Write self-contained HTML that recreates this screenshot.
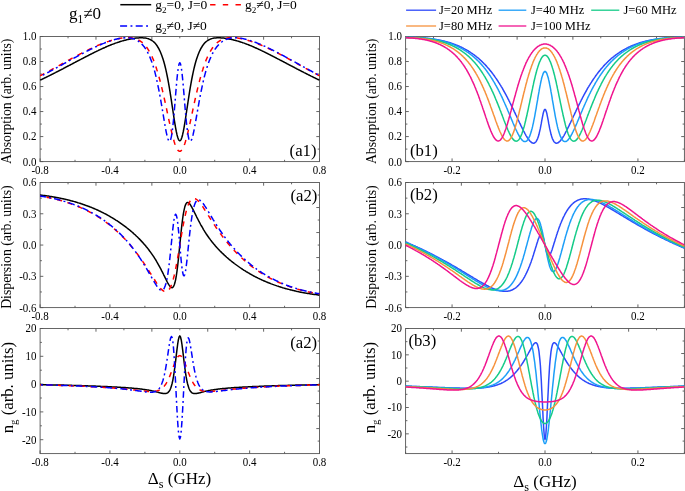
<!DOCTYPE html>
<html><head><meta charset="utf-8"><title>figure</title>
<style>html,body{margin:0;padding:0;background:#fff}svg{display:block}text{font-family:'Liberation Serif', 'DejaVu Serif', serif;fill:#000}.tk{font-size:11.9px}.lg{font-size:12.5px}.lga{font-size:13.5px}.al{font-size:14px}.big{font-size:17px}.pl{font-size:17.4px}.c{fill:none;stroke-width:1.5;stroke-linejoin:round}</style></head><body>
<svg width="685" height="491" viewBox="0 0 685 491">
<rect width="685" height="491" fill="#fff"/>
<defs>
<clipPath id="c00"><rect x="39.80" y="36.20" width="280.00" height="125.70"/></clipPath>
<clipPath id="c01"><rect x="39.80" y="182.20" width="280.00" height="125.70"/></clipPath>
<clipPath id="c02"><rect x="39.80" y="328.20" width="280.00" height="125.70"/></clipPath>
<clipPath id="c10"><rect x="405.30" y="36.20" width="279.40" height="125.70"/></clipPath>
<clipPath id="c11"><rect x="405.30" y="182.20" width="279.40" height="125.70"/></clipPath>
<clipPath id="c12"><rect x="405.30" y="328.20" width="279.40" height="125.70"/></clipPath>
</defs>
<path d="M40.10 161.60v-3.2M109.95 161.60v-3.2M179.80 161.60v-3.2M249.65 161.60v-3.2M319.50 161.60v-3.2M75.03 161.60v-1.8M144.88 161.60v-1.8M214.72 161.60v-1.8M284.57 161.60v-1.8M40.10 161.60h3.2M40.10 136.58h3.2M40.10 111.56h3.2M40.10 86.54h3.2M40.10 61.52h3.2M40.10 36.50h3.2M40.10 149.09h1.8M40.10 124.07h1.8M40.10 99.05h1.8M40.10 74.03h1.8M40.10 49.01h1.8M68.04 36.50v1.8M319.50 49.01h-1.8M95.98 36.50v3.2M319.50 61.52h-3.2M123.92 36.50v1.8M319.50 74.03h-1.8M151.86 36.50v3.2M319.50 86.54h-3.2M179.80 36.50v1.8M319.50 99.05h-1.8M207.74 36.50v3.2M319.50 111.56h-3.2M235.68 36.50v1.8M319.50 124.07h-1.8M263.62 36.50v3.2M319.50 136.58h-3.2M291.56 36.50v1.8M319.50 149.09h-1.8" stroke="#555" stroke-width="0.9" fill="none"/>
<rect x="40.10" y="36.50" width="279.40" height="125.10" fill="none" stroke="#555" stroke-width="0.9"/>
<text transform="translate(40.10 174.00) scale(0.920 1)" text-anchor="middle" class="tk">-0.8</text>
<text transform="translate(109.95 174.00) scale(0.920 1)" text-anchor="middle" class="tk">-0.4</text>
<text transform="translate(179.80 174.00) scale(0.920 1)" text-anchor="middle" class="tk">0.0</text>
<text transform="translate(249.65 174.00) scale(0.920 1)" text-anchor="middle" class="tk">0.4</text>
<text transform="translate(319.50 174.00) scale(0.920 1)" text-anchor="middle" class="tk">0.8</text>
<text transform="translate(36.50 165.50) scale(0.920 1)" text-anchor="end" class="tk">0.0</text>
<text transform="translate(36.50 140.48) scale(0.920 1)" text-anchor="end" class="tk">0.2</text>
<text transform="translate(36.50 115.46) scale(0.920 1)" text-anchor="end" class="tk">0.4</text>
<text transform="translate(36.50 90.44) scale(0.920 1)" text-anchor="end" class="tk">0.6</text>
<text transform="translate(36.50 65.42) scale(0.920 1)" text-anchor="end" class="tk">0.8</text>
<text transform="translate(36.50 40.40) scale(0.920 1)" text-anchor="end" class="tk">1.0</text>
<path d="M40.10 307.60v-3.2M109.95 307.60v-3.2M179.80 307.60v-3.2M249.65 307.60v-3.2M319.50 307.60v-3.2M75.03 307.60v-1.8M144.88 307.60v-1.8M214.72 307.60v-1.8M284.57 307.60v-1.8M40.10 307.60h3.2M40.10 276.33h3.2M40.10 245.05h3.2M40.10 213.78h3.2M40.10 182.50h3.2M40.10 291.96h1.8M40.10 260.69h1.8M40.10 229.41h1.8M40.10 198.14h1.8M68.04 182.50v1.8M319.50 195.01h-1.8M95.98 182.50v3.2M319.50 207.52h-3.2M123.92 182.50v1.8M319.50 220.03h-1.8M151.86 182.50v3.2M319.50 232.54h-3.2M179.80 182.50v1.8M319.50 245.05h-1.8M207.74 182.50v3.2M319.50 257.56h-3.2M235.68 182.50v1.8M319.50 270.07h-1.8M263.62 182.50v3.2M319.50 282.58h-3.2M291.56 182.50v1.8M319.50 295.09h-1.8" stroke="#555" stroke-width="0.9" fill="none"/>
<rect x="40.10" y="182.50" width="279.40" height="125.10" fill="none" stroke="#555" stroke-width="0.9"/>
<text transform="translate(40.10 320.00) scale(0.920 1)" text-anchor="middle" class="tk">-0.8</text>
<text transform="translate(109.95 320.00) scale(0.920 1)" text-anchor="middle" class="tk">-0.4</text>
<text transform="translate(179.80 320.00) scale(0.920 1)" text-anchor="middle" class="tk">0.0</text>
<text transform="translate(249.65 320.00) scale(0.920 1)" text-anchor="middle" class="tk">0.4</text>
<text transform="translate(319.50 320.00) scale(0.920 1)" text-anchor="middle" class="tk">0.8</text>
<text transform="translate(36.50 311.50) scale(0.920 1)" text-anchor="end" class="tk">-0.6</text>
<text transform="translate(36.50 280.23) scale(0.920 1)" text-anchor="end" class="tk">-0.3</text>
<text transform="translate(36.50 248.95) scale(0.920 1)" text-anchor="end" class="tk">0.0</text>
<text transform="translate(36.50 217.68) scale(0.920 1)" text-anchor="end" class="tk">0.3</text>
<text transform="translate(36.50 186.40) scale(0.920 1)" text-anchor="end" class="tk">0.6</text>
<path d="M40.10 453.60v-3.2M109.95 453.60v-3.2M179.80 453.60v-3.2M249.65 453.60v-3.2M319.50 453.60v-3.2M75.03 453.60v-1.8M144.88 453.60v-1.8M214.72 453.60v-1.8M284.57 453.60v-1.8M40.10 439.70h3.2M40.10 411.90h3.2M40.10 384.10h3.2M40.10 356.30h3.2M40.10 328.50h3.2M40.10 425.80h1.8M40.10 398.00h1.8M40.10 370.20h1.8M40.10 342.40h1.8M68.04 328.50v1.8M319.50 341.01h-1.8M95.98 328.50v3.2M319.50 353.52h-3.2M123.92 328.50v1.8M319.50 366.03h-1.8M151.86 328.50v3.2M319.50 378.54h-3.2M179.80 328.50v1.8M319.50 391.05h-1.8M207.74 328.50v3.2M319.50 403.56h-3.2M235.68 328.50v1.8M319.50 416.07h-1.8M263.62 328.50v3.2M319.50 428.58h-3.2M291.56 328.50v1.8M319.50 441.09h-1.8" stroke="#555" stroke-width="0.9" fill="none"/>
<rect x="40.10" y="328.50" width="279.40" height="125.10" fill="none" stroke="#555" stroke-width="0.9"/>
<text transform="translate(40.10 466.00) scale(0.920 1)" text-anchor="middle" class="tk">-0.8</text>
<text transform="translate(109.95 466.00) scale(0.920 1)" text-anchor="middle" class="tk">-0.4</text>
<text transform="translate(179.80 466.00) scale(0.920 1)" text-anchor="middle" class="tk">0.0</text>
<text transform="translate(249.65 466.00) scale(0.920 1)" text-anchor="middle" class="tk">0.4</text>
<text transform="translate(319.50 466.00) scale(0.920 1)" text-anchor="middle" class="tk">0.8</text>
<text transform="translate(36.50 443.60) scale(0.920 1)" text-anchor="end" class="tk">-20</text>
<text transform="translate(36.50 415.80) scale(0.920 1)" text-anchor="end" class="tk">-10</text>
<text transform="translate(36.50 388.00) scale(0.920 1)" text-anchor="end" class="tk">0</text>
<text transform="translate(36.50 360.20) scale(0.920 1)" text-anchor="end" class="tk">10</text>
<text transform="translate(36.50 332.40) scale(0.920 1)" text-anchor="end" class="tk">20</text>
<path d="M452.07 161.60v-3.2M545.00 161.60v-3.2M637.93 161.60v-3.2M405.60 161.60v-1.8M498.53 161.60v-1.8M591.47 161.60v-1.8M684.40 161.60v-1.8M405.60 161.60h3.2M405.60 136.58h3.2M405.60 111.56h3.2M405.60 86.54h3.2M405.60 61.52h3.2M405.60 36.50h3.2M405.60 149.09h1.8M405.60 124.07h1.8M405.60 99.05h1.8M405.60 74.03h1.8M405.60 49.01h1.8M433.48 36.50v1.8M684.40 49.01h-1.8M461.36 36.50v3.2M684.40 61.52h-3.2M489.24 36.50v1.8M684.40 74.03h-1.8M517.12 36.50v3.2M684.40 86.54h-3.2M545.00 36.50v1.8M684.40 99.05h-1.8M572.88 36.50v3.2M684.40 111.56h-3.2M600.76 36.50v1.8M684.40 124.07h-1.8M628.64 36.50v3.2M684.40 136.58h-3.2M656.52 36.50v1.8M684.40 149.09h-1.8" stroke="#555" stroke-width="0.9" fill="none"/>
<rect x="405.60" y="36.50" width="278.80" height="125.10" fill="none" stroke="#555" stroke-width="0.9"/>
<text transform="translate(452.07 174.00) scale(0.920 1)" text-anchor="middle" class="tk">-0.2</text>
<text transform="translate(545.00 174.00) scale(0.920 1)" text-anchor="middle" class="tk">0.0</text>
<text transform="translate(637.93 174.00) scale(0.920 1)" text-anchor="middle" class="tk">0.2</text>
<text transform="translate(402.00 165.50) scale(0.920 1)" text-anchor="end" class="tk">0.0</text>
<text transform="translate(402.00 140.48) scale(0.920 1)" text-anchor="end" class="tk">0.2</text>
<text transform="translate(402.00 115.46) scale(0.920 1)" text-anchor="end" class="tk">0.4</text>
<text transform="translate(402.00 90.44) scale(0.920 1)" text-anchor="end" class="tk">0.6</text>
<text transform="translate(402.00 65.42) scale(0.920 1)" text-anchor="end" class="tk">0.8</text>
<text transform="translate(402.00 40.40) scale(0.920 1)" text-anchor="end" class="tk">1.0</text>
<path d="M452.07 307.60v-3.2M545.00 307.60v-3.2M637.93 307.60v-3.2M405.60 307.60v-1.8M498.53 307.60v-1.8M591.47 307.60v-1.8M684.40 307.60v-1.8M405.60 307.60h3.2M405.60 276.33h3.2M405.60 245.05h3.2M405.60 213.78h3.2M405.60 182.50h3.2M405.60 291.96h1.8M405.60 260.69h1.8M405.60 229.41h1.8M405.60 198.14h1.8M433.48 182.50v1.8M684.40 195.01h-1.8M461.36 182.50v3.2M684.40 207.52h-3.2M489.24 182.50v1.8M684.40 220.03h-1.8M517.12 182.50v3.2M684.40 232.54h-3.2M545.00 182.50v1.8M684.40 245.05h-1.8M572.88 182.50v3.2M684.40 257.56h-3.2M600.76 182.50v1.8M684.40 270.07h-1.8M628.64 182.50v3.2M684.40 282.58h-3.2M656.52 182.50v1.8M684.40 295.09h-1.8" stroke="#555" stroke-width="0.9" fill="none"/>
<rect x="405.60" y="182.50" width="278.80" height="125.10" fill="none" stroke="#555" stroke-width="0.9"/>
<text transform="translate(452.07 320.00) scale(0.920 1)" text-anchor="middle" class="tk">-0.2</text>
<text transform="translate(545.00 320.00) scale(0.920 1)" text-anchor="middle" class="tk">0.0</text>
<text transform="translate(637.93 320.00) scale(0.920 1)" text-anchor="middle" class="tk">0.2</text>
<text transform="translate(402.00 311.50) scale(0.920 1)" text-anchor="end" class="tk">-0.6</text>
<text transform="translate(402.00 280.23) scale(0.920 1)" text-anchor="end" class="tk">-0.3</text>
<text transform="translate(402.00 248.95) scale(0.920 1)" text-anchor="end" class="tk">0.0</text>
<text transform="translate(402.00 217.68) scale(0.920 1)" text-anchor="end" class="tk">0.3</text>
<text transform="translate(402.00 186.40) scale(0.920 1)" text-anchor="end" class="tk">0.6</text>
<path d="M452.07 453.60v-3.2M545.00 453.60v-3.2M637.93 453.60v-3.2M405.60 453.60v-1.8M498.53 453.60v-1.8M591.47 453.60v-1.8M684.40 453.60v-1.8M405.60 433.85h3.2M405.60 407.51h3.2M405.60 381.17h3.2M405.60 354.84h3.2M405.60 328.50h3.2M405.60 447.02h1.8M405.60 420.68h1.8M405.60 394.34h1.8M405.60 368.01h1.8M405.60 341.67h1.8M433.48 328.50v1.8M684.40 341.01h-1.8M461.36 328.50v3.2M684.40 353.52h-3.2M489.24 328.50v1.8M684.40 366.03h-1.8M517.12 328.50v3.2M684.40 378.54h-3.2M545.00 328.50v1.8M684.40 391.05h-1.8M572.88 328.50v3.2M684.40 403.56h-3.2M600.76 328.50v1.8M684.40 416.07h-1.8M628.64 328.50v3.2M684.40 428.58h-3.2M656.52 328.50v1.8M684.40 441.09h-1.8" stroke="#555" stroke-width="0.9" fill="none"/>
<rect x="405.60" y="328.50" width="278.80" height="125.10" fill="none" stroke="#555" stroke-width="0.9"/>
<text transform="translate(452.07 466.00) scale(0.920 1)" text-anchor="middle" class="tk">-0.2</text>
<text transform="translate(545.00 466.00) scale(0.920 1)" text-anchor="middle" class="tk">0.0</text>
<text transform="translate(637.93 466.00) scale(0.920 1)" text-anchor="middle" class="tk">0.2</text>
<text transform="translate(402.00 437.75) scale(0.920 1)" text-anchor="end" class="tk">-20</text>
<text transform="translate(402.00 411.41) scale(0.920 1)" text-anchor="end" class="tk">-10</text>
<text transform="translate(402.00 385.07) scale(0.920 1)" text-anchor="end" class="tk">0</text>
<text transform="translate(402.00 358.74) scale(0.920 1)" text-anchor="end" class="tk">10</text>
<text transform="translate(402.00 332.40) scale(0.920 1)" text-anchor="end" class="tk">20</text>
<g clip-path="url(#c00)">
<polyline class="c" stroke="#000000" points="40.1,80.2 40.8,79.8 41.5,79.5 42.2,79.2 42.9,78.8 43.6,78.5 44.3,78.1 45.0,77.8 45.7,77.5 46.4,77.1 47.1,76.8 47.8,76.4 48.5,76.1 49.2,75.7 49.9,75.4 50.6,75.0 51.3,74.7 52.0,74.3 52.7,74.0 53.4,73.6 54.1,73.3 54.8,72.9 55.5,72.6 56.2,72.2 56.9,71.8 57.6,71.5 58.3,71.1 59.0,70.8 59.7,70.4 60.4,70.0 61.1,69.7 61.8,69.3 62.5,69.0 63.2,68.6 63.8,68.2 64.5,67.9 65.2,67.5 65.9,67.1 66.6,66.8 67.3,66.4 68.0,66.0 68.7,65.7 69.4,65.3 70.1,65.0 70.8,64.6 71.5,64.2 72.2,63.9 72.9,63.5 73.6,63.1 74.3,62.7 75.0,62.4 75.7,62.0 76.4,61.6 77.1,61.3 77.8,60.9 78.5,60.5 79.2,60.2 79.9,59.8 80.6,59.4 81.3,59.1 82.0,58.7 82.7,58.4 83.4,58.0 84.1,57.6 84.8,57.3 85.5,56.9 86.2,56.5 86.9,56.2 87.6,55.8 88.3,55.5 89.0,55.1 89.7,54.7 90.4,54.4 91.1,54.0 91.8,53.7 92.5,53.3 93.2,53.0 93.9,52.6 94.6,52.3 95.3,51.9 96.0,51.6 96.7,51.3 97.4,50.9 98.1,50.6 98.8,50.2 99.5,49.9 100.2,49.6 100.9,49.3 101.6,48.9 102.3,48.6 103.0,48.3 103.7,48.0 104.4,47.7 105.1,47.4 105.8,47.0 106.5,46.7 107.2,46.4 107.9,46.1 108.6,45.8 109.3,45.6 109.9,45.3 110.6,45.0 111.3,44.7 112.0,44.4 112.7,44.2 113.4,43.9 114.1,43.7 114.8,43.4 115.5,43.1 116.2,42.9 116.9,42.7 117.6,42.4 118.3,42.2 119.0,42.0 119.7,41.7 120.4,41.5 121.1,41.3 121.8,41.1 122.5,40.9 123.2,40.7 123.9,40.5 124.6,40.3 125.3,40.2 126.0,40.0 126.7,39.8 127.4,39.6 128.1,39.5 128.8,39.3 129.5,39.2 130.2,39.0 130.9,38.9 131.6,38.8 132.3,38.7 133.0,38.5 133.7,38.4 134.4,38.3 135.1,38.2 135.8,38.1 136.5,38.1 137.2,38.0 137.9,37.9 138.6,37.9 139.3,37.8 140.0,37.8 140.7,37.8 141.4,37.8 142.1,37.8 142.8,37.8 143.5,37.9 144.2,37.9 144.9,38.0 145.6,38.1 146.3,38.2 147.0,38.4 147.7,38.6 148.4,38.8 149.1,39.1 149.8,39.4 150.5,39.7 151.2,40.1 151.9,40.5 152.6,41.0 153.3,41.5 154.0,42.1 154.7,42.8 155.4,43.6 156.1,44.4 156.7,45.3 157.4,46.3 158.1,47.5 158.8,48.7 159.5,50.1 160.2,51.5 160.9,53.2 161.6,55.0 162.3,56.9 163.0,59.0 163.7,61.3 164.4,63.8 165.1,66.5 165.8,69.4 166.5,72.6 167.2,76.0 167.9,79.5 168.6,83.4 169.3,87.4 170.0,91.6 170.7,96.1 171.4,100.6 172.1,105.3 172.8,110.0 173.5,114.7 174.2,119.3 174.9,123.7 175.6,127.8 176.3,131.5 177.0,134.7 177.7,137.3 178.4,139.3 179.1,140.4 179.8,140.8 180.5,140.4 181.2,139.3 181.9,137.3 182.6,134.7 183.3,131.5 184.0,127.8 184.7,123.7 185.4,119.3 186.1,114.7 186.8,110.0 187.5,105.3 188.2,100.6 188.9,96.1 189.6,91.6 190.3,87.4 191.0,83.4 191.7,79.5 192.4,76.0 193.1,72.6 193.8,69.4 194.5,66.5 195.2,63.8 195.9,61.3 196.6,59.0 197.3,56.9 198.0,55.0 198.7,53.2 199.4,51.5 200.1,50.1 200.8,48.7 201.5,47.5 202.2,46.3 202.9,45.3 203.5,44.4 204.2,43.6 204.9,42.8 205.6,42.1 206.3,41.5 207.0,41.0 207.7,40.5 208.4,40.1 209.1,39.7 209.8,39.4 210.5,39.1 211.2,38.8 211.9,38.6 212.6,38.4 213.3,38.2 214.0,38.1 214.7,38.0 215.4,37.9 216.1,37.9 216.8,37.8 217.5,37.8 218.2,37.8 218.9,37.8 219.6,37.8 220.3,37.8 221.0,37.9 221.7,37.9 222.4,38.0 223.1,38.1 223.8,38.1 224.5,38.2 225.2,38.3 225.9,38.4 226.6,38.5 227.3,38.7 228.0,38.8 228.7,38.9 229.4,39.0 230.1,39.2 230.8,39.3 231.5,39.5 232.2,39.6 232.9,39.8 233.6,40.0 234.3,40.2 235.0,40.3 235.7,40.5 236.4,40.7 237.1,40.9 237.8,41.1 238.5,41.3 239.2,41.5 239.9,41.7 240.6,42.0 241.3,42.2 242.0,42.4 242.7,42.7 243.4,42.9 244.1,43.1 244.8,43.4 245.5,43.7 246.2,43.9 246.9,44.2 247.6,44.4 248.3,44.7 249.0,45.0 249.6,45.3 250.3,45.6 251.0,45.8 251.7,46.1 252.4,46.4 253.1,46.7 253.8,47.0 254.5,47.4 255.2,47.7 255.9,48.0 256.6,48.3 257.3,48.6 258.0,48.9 258.7,49.3 259.4,49.6 260.1,49.9 260.8,50.2 261.5,50.6 262.2,50.9 262.9,51.3 263.6,51.6 264.3,51.9 265.0,52.3 265.7,52.6 266.4,53.0 267.1,53.3 267.8,53.7 268.5,54.0 269.2,54.4 269.9,54.7 270.6,55.1 271.3,55.5 272.0,55.8 272.7,56.2 273.4,56.5 274.1,56.9 274.8,57.3 275.5,57.6 276.2,58.0 276.9,58.4 277.6,58.7 278.3,59.1 279.0,59.4 279.7,59.8 280.4,60.2 281.1,60.5 281.8,60.9 282.5,61.3 283.2,61.6 283.9,62.0 284.6,62.4 285.3,62.7 286.0,63.1 286.7,63.5 287.4,63.9 288.1,64.2 288.8,64.6 289.5,65.0 290.2,65.3 290.9,65.7 291.6,66.0 292.3,66.4 293.0,66.8 293.7,67.1 294.4,67.5 295.1,67.9 295.8,68.2 296.4,68.6 297.1,69.0 297.8,69.3 298.5,69.7 299.2,70.0 299.9,70.4 300.6,70.8 301.3,71.1 302.0,71.5 302.7,71.8 303.4,72.2 304.1,72.6 304.8,72.9 305.5,73.3 306.2,73.6 306.9,74.0 307.6,74.3 308.3,74.7 309.0,75.0 309.7,75.4 310.4,75.7 311.1,76.1 311.8,76.4 312.5,76.8 313.2,77.1 313.9,77.5 314.6,77.8 315.3,78.1 316.0,78.5 316.7,78.8 317.4,79.2 318.1,79.5 318.8,79.8 319.5,80.2"/>
<polyline class="c" stroke="#ff0000" stroke-dasharray="5.2 5.6" stroke-dashoffset="0.49" points="40.1,75.8 40.8,75.4 41.5,75.0 42.2,74.7 42.9,74.3 43.6,73.9 44.3,73.6 45.0,73.2 45.7,72.8 46.4,72.4 47.1,72.1 47.8,71.7 48.5,71.3 49.2,70.9 49.9,70.6 50.6,70.2 51.3,69.8 52.0,69.4 52.7,69.0 53.4,68.6 54.1,68.3 54.8,67.9 55.5,67.5 56.2,67.1 56.9,66.7 57.6,66.3 58.3,66.0 59.0,65.6 59.7,65.2 60.4,64.8 61.1,64.4 61.8,64.0 62.5,63.6 63.2,63.2 63.8,62.9 64.5,62.5 65.2,62.1 65.9,61.7 66.6,61.3 67.3,60.9 68.0,60.5 68.7,60.1 69.4,59.8 70.1,59.4 70.8,59.0 71.5,58.6 72.2,58.2 72.9,57.8 73.6,57.5 74.3,57.1 75.0,56.7 75.7,56.3 76.4,56.0 77.1,55.6 77.8,55.2 78.5,54.8 79.2,54.5 79.9,54.1 80.6,53.7 81.3,53.4 82.0,53.0 82.7,52.6 83.4,52.3 84.1,51.9 84.8,51.6 85.5,51.2 86.2,50.9 86.9,50.5 87.6,50.2 88.3,49.8 89.0,49.5 89.7,49.1 90.4,48.8 91.1,48.5 91.8,48.1 92.5,47.8 93.2,47.5 93.9,47.2 94.6,46.9 95.3,46.6 96.0,46.2 96.7,45.9 97.4,45.6 98.1,45.3 98.8,45.0 99.5,44.8 100.2,44.5 100.9,44.2 101.6,43.9 102.3,43.6 103.0,43.4 103.7,43.1 104.4,42.8 105.1,42.6 105.8,42.3 106.5,42.1 107.2,41.8 107.9,41.6 108.6,41.4 109.3,41.1 109.9,40.9 110.6,40.7 111.3,40.5 112.0,40.3 112.7,40.1 113.4,39.9 114.1,39.7 114.8,39.5 115.5,39.3 116.2,39.2 116.9,39.0 117.6,38.8 118.3,38.7 119.0,38.5 119.7,38.4 120.4,38.3 121.1,38.2 121.8,38.1 122.5,38.0 123.2,37.9 123.9,37.8 124.6,37.7 125.3,37.7 126.0,37.6 126.7,37.6 127.4,37.6 128.1,37.6 128.8,37.6 129.5,37.6 130.2,37.7 130.9,37.7 131.6,37.8 132.3,37.9 133.0,38.1 133.7,38.2 134.4,38.4 135.1,38.6 135.8,38.8 136.5,39.1 137.2,39.4 137.9,39.7 138.6,40.1 139.3,40.5 140.0,40.9 140.7,41.4 141.4,41.9 142.1,42.4 142.8,43.0 143.5,43.7 144.2,44.4 144.9,45.2 145.6,46.0 146.3,46.9 147.0,47.8 147.7,48.8 148.4,49.9 149.1,51.1 149.8,52.3 150.5,53.6 151.2,55.0 151.9,56.4 152.6,58.0 153.3,59.6 154.0,61.4 154.7,63.2 155.4,65.1 156.1,67.2 156.7,69.3 157.4,71.5 158.1,73.8 158.8,76.3 159.5,78.8 160.2,81.4 160.9,84.1 161.6,87.0 162.3,89.9 163.0,92.8 163.7,95.9 164.4,99.0 165.1,102.2 165.8,105.5 166.5,108.7 167.2,112.0 167.9,115.3 168.6,118.6 169.3,121.8 170.0,125.0 170.7,128.1 171.4,131.1 172.1,134.0 172.8,136.7 173.5,139.3 174.2,141.7 174.9,143.9 175.6,145.8 176.3,147.4 177.0,148.8 177.7,149.9 178.4,150.7 179.1,151.2 179.8,151.3 180.5,151.2 181.2,150.7 181.9,149.9 182.6,148.8 183.3,147.4 184.0,145.8 184.7,143.9 185.4,141.7 186.1,139.3 186.8,136.7 187.5,134.0 188.2,131.1 188.9,128.1 189.6,125.0 190.3,121.8 191.0,118.6 191.7,115.3 192.4,112.0 193.1,108.7 193.8,105.5 194.5,102.2 195.2,99.0 195.9,95.9 196.6,92.8 197.3,89.9 198.0,87.0 198.7,84.1 199.4,81.4 200.1,78.8 200.8,76.3 201.5,73.8 202.2,71.5 202.9,69.3 203.5,67.2 204.2,65.1 204.9,63.2 205.6,61.4 206.3,59.6 207.0,58.0 207.7,56.4 208.4,55.0 209.1,53.6 209.8,52.3 210.5,51.1 211.2,49.9 211.9,48.8 212.6,47.8 213.3,46.9 214.0,46.0 214.7,45.2 215.4,44.4 216.1,43.7 216.8,43.0 217.5,42.4 218.2,41.9 218.9,41.4 219.6,40.9 220.3,40.5 221.0,40.1 221.7,39.7 222.4,39.4 223.1,39.1 223.8,38.8 224.5,38.6 225.2,38.4 225.9,38.2 226.6,38.1 227.3,37.9 228.0,37.8 228.7,37.7 229.4,37.7 230.1,37.6 230.8,37.6 231.5,37.6 232.2,37.6 232.9,37.6 233.6,37.6 234.3,37.7 235.0,37.7 235.7,37.8 236.4,37.9 237.1,38.0 237.8,38.1 238.5,38.2 239.2,38.3 239.9,38.4 240.6,38.5 241.3,38.7 242.0,38.8 242.7,39.0 243.4,39.2 244.1,39.3 244.8,39.5 245.5,39.7 246.2,39.9 246.9,40.1 247.6,40.3 248.3,40.5 249.0,40.7 249.6,40.9 250.3,41.1 251.0,41.4 251.7,41.6 252.4,41.8 253.1,42.1 253.8,42.3 254.5,42.6 255.2,42.8 255.9,43.1 256.6,43.4 257.3,43.6 258.0,43.9 258.7,44.2 259.4,44.5 260.1,44.8 260.8,45.0 261.5,45.3 262.2,45.6 262.9,45.9 263.6,46.2 264.3,46.6 265.0,46.9 265.7,47.2 266.4,47.5 267.1,47.8 267.8,48.1 268.5,48.5 269.2,48.8 269.9,49.1 270.6,49.5 271.3,49.8 272.0,50.2 272.7,50.5 273.4,50.9 274.1,51.2 274.8,51.6 275.5,51.9 276.2,52.3 276.9,52.6 277.6,53.0 278.3,53.4 279.0,53.7 279.7,54.1 280.4,54.5 281.1,54.8 281.8,55.2 282.5,55.6 283.2,56.0 283.9,56.3 284.6,56.7 285.3,57.1 286.0,57.5 286.7,57.8 287.4,58.2 288.1,58.6 288.8,59.0 289.5,59.4 290.2,59.8 290.9,60.1 291.6,60.5 292.3,60.9 293.0,61.3 293.7,61.7 294.4,62.1 295.1,62.5 295.8,62.9 296.4,63.2 297.1,63.6 297.8,64.0 298.5,64.4 299.2,64.8 299.9,65.2 300.6,65.6 301.3,66.0 302.0,66.3 302.7,66.7 303.4,67.1 304.1,67.5 304.8,67.9 305.5,68.3 306.2,68.6 306.9,69.0 307.6,69.4 308.3,69.8 309.0,70.2 309.7,70.6 310.4,70.9 311.1,71.3 311.8,71.7 312.5,72.1 313.2,72.4 313.9,72.8 314.6,73.2 315.3,73.6 316.0,73.9 316.7,74.3 317.4,74.7 318.1,75.0 318.8,75.4 319.5,75.8"/>
<polyline class="c" stroke="#0000ff" stroke-dasharray="6.6 3.2 1.9 3.2" stroke-dashoffset="6.75" points="40.1,76.6 40.8,76.2 41.5,75.9 42.2,75.5 42.9,75.1 43.6,74.8 44.3,74.4 45.0,74.0 45.7,73.7 46.4,73.3 47.1,72.9 47.8,72.5 48.5,72.2 49.2,71.8 49.9,71.4 50.6,71.0 51.3,70.6 52.0,70.3 52.7,69.9 53.4,69.5 54.1,69.1 54.8,68.7 55.5,68.4 56.2,68.0 56.9,67.6 57.6,67.2 58.3,66.8 59.0,66.4 59.7,66.1 60.4,65.7 61.1,65.3 61.8,64.9 62.5,64.5 63.2,64.1 63.8,63.7 64.5,63.3 65.2,63.0 65.9,62.6 66.6,62.2 67.3,61.8 68.0,61.4 68.7,61.0 69.4,60.6 70.1,60.2 70.8,59.9 71.5,59.5 72.2,59.1 72.9,58.7 73.6,58.3 74.3,57.9 75.0,57.5 75.7,57.2 76.4,56.8 77.1,56.4 77.8,56.0 78.5,55.6 79.2,55.3 79.9,54.9 80.6,54.5 81.3,54.1 82.0,53.8 82.7,53.4 83.4,53.0 84.1,52.6 84.8,52.3 85.5,51.9 86.2,51.6 86.9,51.2 87.6,50.8 88.3,50.5 89.0,50.1 89.7,49.8 90.4,49.4 91.1,49.1 91.8,48.7 92.5,48.4 93.2,48.0 93.9,47.7 94.6,47.4 95.3,47.0 96.0,46.7 96.7,46.4 97.4,46.1 98.1,45.8 98.8,45.4 99.5,45.1 100.2,44.8 100.9,44.5 101.6,44.2 102.3,43.9 103.0,43.6 103.7,43.4 104.4,43.1 105.1,42.8 105.8,42.5 106.5,42.3 107.2,42.0 107.9,41.7 108.6,41.5 109.3,41.3 109.9,41.0 110.6,40.8 111.3,40.6 112.0,40.3 112.7,40.1 113.4,39.9 114.1,39.7 114.8,39.5 115.5,39.3 116.2,39.2 116.9,39.0 117.6,38.8 118.3,38.7 119.0,38.5 119.7,38.4 120.4,38.3 121.1,38.2 121.8,38.1 122.5,38.0 123.2,37.9 123.9,37.9 124.6,37.8 125.3,37.8 126.0,37.8 126.7,37.8 127.4,37.8 128.1,37.8 128.8,37.9 129.5,37.9 130.2,38.0 130.9,38.2 131.6,38.3 132.3,38.5 133.0,38.7 133.7,38.9 134.4,39.1 135.1,39.4 135.8,39.7 136.5,40.1 137.2,40.4 137.9,40.9 138.6,41.3 139.3,41.8 140.0,42.4 140.7,43.0 141.4,43.6 142.1,44.4 142.8,45.1 143.5,46.0 144.2,46.8 144.9,47.8 145.6,48.9 146.3,50.0 147.0,51.2 147.7,52.5 148.4,53.8 149.1,55.3 149.8,56.9 150.5,58.6 151.2,60.4 151.9,62.3 152.6,64.4 153.3,66.6 154.0,68.9 154.7,71.4 155.4,74.1 156.1,76.9 156.7,79.8 157.4,83.0 158.1,86.3 158.8,89.7 159.5,93.4 160.2,97.1 160.9,101.1 161.6,105.1 162.3,109.3 163.0,113.5 163.7,117.7 164.4,121.9 165.1,125.9 165.8,129.8 166.5,133.3 167.2,136.3 167.9,138.8 168.6,140.5 169.3,141.3 170.0,141.0 170.7,139.4 171.4,136.6 172.1,132.3 172.8,126.8 173.5,120.0 174.2,112.2 174.9,103.7 175.6,95.0 176.3,86.5 177.0,78.7 177.7,72.1 178.4,67.0 179.1,63.8 179.8,62.7 180.5,63.8 181.2,67.0 181.9,72.0 182.6,78.6 183.3,86.3 184.0,94.6 184.7,103.2 185.4,111.6 186.1,119.3 186.8,126.0 187.5,131.6 188.2,136.0 188.9,139.0 189.6,140.7 190.3,141.3 191.0,140.8 191.7,139.4 192.4,137.3 193.1,134.5 193.8,131.3 194.5,127.8 195.2,124.0 195.9,120.0 196.6,116.0 197.3,112.0 198.0,108.0 198.7,104.1 199.4,100.2 200.1,96.5 200.8,92.9 201.5,89.5 202.2,86.2 202.9,83.1 203.5,80.1 204.2,77.3 204.9,74.6 205.6,72.0 206.3,69.6 207.0,67.4 207.7,65.2 208.4,63.2 209.1,61.3 209.8,59.5 210.5,57.9 211.2,56.3 211.9,54.8 212.6,53.4 213.3,52.1 214.0,50.9 214.7,49.8 215.4,48.7 216.1,47.8 216.8,46.8 217.5,46.0 218.2,45.2 218.9,44.4 219.6,43.7 220.3,43.1 221.0,42.5 221.7,42.0 222.4,41.5 223.1,41.0 223.8,40.6 224.5,40.2 225.2,39.9 225.9,39.5 226.6,39.3 227.3,39.0 228.0,38.8 228.7,38.6 229.4,38.4 230.1,38.2 230.8,38.1 231.5,38.0 232.2,37.9 232.9,37.9 233.6,37.8 234.3,37.8 235.0,37.8 235.7,37.8 236.4,37.8 237.1,37.8 237.8,37.9 238.5,37.9 239.2,38.0 239.9,38.1 240.6,38.2 241.3,38.3 242.0,38.4 242.7,38.6 243.4,38.7 244.1,38.9 244.8,39.0 245.5,39.2 246.2,39.4 246.9,39.5 247.6,39.7 248.3,39.9 249.0,40.1 249.6,40.3 250.3,40.6 251.0,40.8 251.7,41.0 252.4,41.3 253.1,41.5 253.8,41.8 254.5,42.0 255.2,42.3 255.9,42.5 256.6,42.8 257.3,43.1 258.0,43.4 258.7,43.7 259.4,43.9 260.1,44.2 260.8,44.5 261.5,44.8 262.2,45.1 262.9,45.4 263.6,45.8 264.3,46.1 265.0,46.4 265.7,46.7 266.4,47.1 267.1,47.4 267.8,47.7 268.5,48.0 269.2,48.4 269.9,48.7 270.6,49.1 271.3,49.4 272.0,49.8 272.7,50.1 273.4,50.5 274.1,50.8 274.8,51.2 275.5,51.6 276.2,51.9 276.9,52.3 277.6,52.6 278.3,53.0 279.0,53.4 279.7,53.8 280.4,54.1 281.1,54.5 281.8,54.9 282.5,55.3 283.2,55.6 283.9,56.0 284.6,56.4 285.3,56.8 286.0,57.2 286.7,57.5 287.4,57.9 288.1,58.3 288.8,58.7 289.5,59.1 290.2,59.5 290.9,59.9 291.6,60.2 292.3,60.6 293.0,61.0 293.7,61.4 294.4,61.8 295.1,62.2 295.8,62.6 296.4,63.0 297.1,63.3 297.8,63.7 298.5,64.1 299.2,64.5 299.9,64.9 300.6,65.3 301.3,65.7 302.0,66.1 302.7,66.4 303.4,66.8 304.1,67.2 304.8,67.6 305.5,68.0 306.2,68.4 306.9,68.7 307.6,69.1 308.3,69.5 309.0,69.9 309.7,70.3 310.4,70.6 311.1,71.0 311.8,71.4 312.5,71.8 313.2,72.2 313.9,72.5 314.6,72.9 315.3,73.3 316.0,73.7 316.7,74.0 317.4,74.4 318.1,74.8 318.8,75.1 319.5,75.5"/>
</g>
<g clip-path="url(#c01)">
<polyline class="c" stroke="#000000" points="40.1,195.0 40.8,195.1 41.5,195.2 42.2,195.3 42.9,195.4 43.6,195.5 44.3,195.6 45.0,195.6 45.7,195.7 46.4,195.8 47.1,195.9 47.8,196.0 48.5,196.1 49.2,196.2 49.9,196.4 50.6,196.5 51.3,196.6 52.0,196.7 52.7,196.8 53.4,196.9 54.1,197.0 54.8,197.2 55.5,197.3 56.2,197.4 56.9,197.5 57.6,197.7 58.3,197.8 59.0,197.9 59.7,198.1 60.4,198.2 61.1,198.4 61.8,198.5 62.5,198.7 63.2,198.8 63.8,199.0 64.5,199.1 65.2,199.3 65.9,199.5 66.6,199.6 67.3,199.8 68.0,200.0 68.7,200.1 69.4,200.3 70.1,200.5 70.8,200.7 71.5,200.9 72.2,201.0 72.9,201.2 73.6,201.4 74.3,201.6 75.0,201.8 75.7,202.0 76.4,202.2 77.1,202.4 77.8,202.7 78.5,202.9 79.2,203.1 79.9,203.3 80.6,203.5 81.3,203.8 82.0,204.0 82.7,204.2 83.4,204.5 84.1,204.7 84.8,205.0 85.5,205.2 86.2,205.5 86.9,205.7 87.6,206.0 88.3,206.2 89.0,206.5 89.7,206.8 90.4,207.1 91.1,207.3 91.8,207.6 92.5,207.9 93.2,208.2 93.9,208.5 94.6,208.8 95.3,209.1 96.0,209.4 96.7,209.7 97.4,210.0 98.1,210.3 98.8,210.7 99.5,211.0 100.2,211.3 100.9,211.7 101.6,212.0 102.3,212.4 103.0,212.7 103.7,213.1 104.4,213.4 105.1,213.8 105.8,214.1 106.5,214.5 107.2,214.9 107.9,215.3 108.6,215.7 109.3,216.1 109.9,216.5 110.6,216.9 111.3,217.3 112.0,217.7 112.7,218.1 113.4,218.5 114.1,219.0 114.8,219.4 115.5,219.8 116.2,220.3 116.9,220.7 117.6,221.2 118.3,221.6 119.0,222.1 119.7,222.6 120.4,223.1 121.1,223.6 121.8,224.1 122.5,224.6 123.2,225.1 123.9,225.6 124.6,226.1 125.3,226.6 126.0,227.2 126.7,227.7 127.4,228.3 128.1,228.8 128.8,229.4 129.5,229.9 130.2,230.5 130.9,231.1 131.6,231.7 132.3,232.3 133.0,232.9 133.7,233.6 134.4,234.2 135.1,234.8 135.8,235.5 136.5,236.2 137.2,236.8 137.9,237.5 138.6,238.2 139.3,238.9 140.0,239.6 140.7,240.4 141.4,241.1 142.1,241.9 142.8,242.6 143.5,243.4 144.2,244.2 144.9,245.0 145.6,245.8 146.3,246.7 147.0,247.5 147.7,248.4 148.4,249.3 149.1,250.2 149.8,251.2 150.5,252.1 151.2,253.1 151.9,254.1 152.6,255.1 153.3,256.1 154.0,257.2 154.7,258.3 155.4,259.4 156.1,260.5 156.7,261.7 157.4,262.9 158.1,264.1 158.8,265.3 159.5,266.6 160.2,267.9 160.9,269.2 161.6,270.6 162.3,271.9 163.0,273.3 163.7,274.8 164.4,276.2 165.1,277.6 165.8,279.0 166.5,280.4 167.2,281.8 167.9,283.1 168.6,284.3 169.3,285.4 170.0,286.4 170.7,287.1 171.4,287.6 172.1,287.7 172.8,287.4 173.5,286.5 174.2,285.0 174.9,282.8 175.6,279.8 176.3,275.9 177.0,271.1 177.7,265.5 178.4,259.1 179.1,252.2 179.8,245.1 180.5,237.9 181.2,231.0 181.9,224.6 182.6,219.0 183.3,214.2 184.0,210.3 184.7,207.3 185.4,205.1 186.1,203.6 186.8,202.7 187.5,202.4 188.2,202.5 188.9,203.0 189.6,203.7 190.3,204.7 191.0,205.8 191.7,207.0 192.4,208.3 193.1,209.7 193.8,211.1 194.5,212.5 195.2,213.9 195.9,215.3 196.6,216.8 197.3,218.2 198.0,219.5 198.7,220.9 199.4,222.2 200.1,223.5 200.8,224.8 201.5,226.0 202.2,227.2 202.9,228.4 203.5,229.6 204.2,230.7 204.9,231.8 205.6,232.9 206.3,234.0 207.0,235.0 207.7,236.0 208.4,237.0 209.1,238.0 209.8,238.9 210.5,239.9 211.2,240.8 211.9,241.7 212.6,242.6 213.3,243.4 214.0,244.3 214.7,245.1 215.4,245.9 216.1,246.7 216.8,247.5 217.5,248.2 218.2,249.0 218.9,249.7 219.6,250.5 220.3,251.2 221.0,251.9 221.7,252.6 222.4,253.3 223.1,253.9 223.8,254.6 224.5,255.3 225.2,255.9 225.9,256.5 226.6,257.2 227.3,257.8 228.0,258.4 228.7,259.0 229.4,259.6 230.1,260.2 230.8,260.7 231.5,261.3 232.2,261.8 232.9,262.4 233.6,262.9 234.3,263.5 235.0,264.0 235.7,264.5 236.4,265.0 237.1,265.5 237.8,266.0 238.5,266.5 239.2,267.0 239.9,267.5 240.6,268.0 241.3,268.5 242.0,268.9 242.7,269.4 243.4,269.8 244.1,270.3 244.8,270.7 245.5,271.1 246.2,271.6 246.9,272.0 247.6,272.4 248.3,272.8 249.0,273.2 249.6,273.6 250.3,274.0 251.0,274.4 251.7,274.8 252.4,275.2 253.1,275.6 253.8,276.0 254.5,276.3 255.2,276.7 255.9,277.0 256.6,277.4 257.3,277.7 258.0,278.1 258.7,278.4 259.4,278.8 260.1,279.1 260.8,279.4 261.5,279.8 262.2,280.1 262.9,280.4 263.6,280.7 264.3,281.0 265.0,281.3 265.7,281.6 266.4,281.9 267.1,282.2 267.8,282.5 268.5,282.8 269.2,283.0 269.9,283.3 270.6,283.6 271.3,283.9 272.0,284.1 272.7,284.4 273.4,284.6 274.1,284.9 274.8,285.1 275.5,285.4 276.2,285.6 276.9,285.9 277.6,286.1 278.3,286.3 279.0,286.6 279.7,286.8 280.4,287.0 281.1,287.2 281.8,287.4 282.5,287.7 283.2,287.9 283.9,288.1 284.6,288.3 285.3,288.5 286.0,288.7 286.7,288.9 287.4,289.1 288.1,289.2 288.8,289.4 289.5,289.6 290.2,289.8 290.9,290.0 291.6,290.1 292.3,290.3 293.0,290.5 293.7,290.6 294.4,290.8 295.1,291.0 295.8,291.1 296.4,291.3 297.1,291.4 297.8,291.6 298.5,291.7 299.2,291.9 299.9,292.0 300.6,292.2 301.3,292.3 302.0,292.4 302.7,292.6 303.4,292.7 304.1,292.8 304.8,292.9 305.5,293.1 306.2,293.2 306.9,293.3 307.6,293.4 308.3,293.5 309.0,293.6 309.7,293.7 310.4,293.9 311.1,294.0 311.8,294.1 312.5,294.2 313.2,294.3 313.9,294.4 314.6,294.5 315.3,294.5 316.0,294.6 316.7,294.7 317.4,294.8 318.1,294.9 318.8,295.0 319.5,295.1"/>
<polyline class="c" stroke="#ff0000" stroke-dasharray="5.2 5.6" stroke-dashoffset="4.30" points="40.1,196.2 40.8,196.3 41.5,196.4 42.2,196.5 42.9,196.6 43.6,196.7 44.3,196.9 45.0,197.0 45.7,197.1 46.4,197.2 47.1,197.4 47.8,197.5 48.5,197.6 49.2,197.8 49.9,197.9 50.6,198.1 51.3,198.2 52.0,198.4 52.7,198.5 53.4,198.7 54.1,198.9 54.8,199.0 55.5,199.2 56.2,199.4 56.9,199.5 57.6,199.7 58.3,199.9 59.0,200.1 59.7,200.3 60.4,200.5 61.1,200.6 61.8,200.8 62.5,201.0 63.2,201.2 63.8,201.5 64.5,201.7 65.2,201.9 65.9,202.1 66.6,202.3 67.3,202.5 68.0,202.8 68.7,203.0 69.4,203.2 70.1,203.5 70.8,203.7 71.5,204.0 72.2,204.2 72.9,204.5 73.6,204.7 74.3,205.0 75.0,205.3 75.7,205.5 76.4,205.8 77.1,206.1 77.8,206.4 78.5,206.7 79.2,207.0 79.9,207.3 80.6,207.6 81.3,207.9 82.0,208.2 82.7,208.5 83.4,208.9 84.1,209.2 84.8,209.5 85.5,209.9 86.2,210.2 86.9,210.5 87.6,210.9 88.3,211.3 89.0,211.6 89.7,212.0 90.4,212.4 91.1,212.7 91.8,213.1 92.5,213.5 93.2,213.9 93.9,214.3 94.6,214.7 95.3,215.1 96.0,215.6 96.7,216.0 97.4,216.4 98.1,216.9 98.8,217.3 99.5,217.7 100.2,218.2 100.9,218.7 101.6,219.1 102.3,219.6 103.0,220.1 103.7,220.6 104.4,221.1 105.1,221.6 105.8,222.1 106.5,222.6 107.2,223.1 107.9,223.7 108.6,224.2 109.3,224.7 109.9,225.3 110.6,225.9 111.3,226.4 112.0,227.0 112.7,227.6 113.4,228.2 114.1,228.8 114.8,229.4 115.5,230.0 116.2,230.6 116.9,231.3 117.6,231.9 118.3,232.5 119.0,233.2 119.7,233.9 120.4,234.6 121.1,235.2 121.8,235.9 122.5,236.6 123.2,237.3 123.9,238.1 124.6,238.8 125.3,239.5 126.0,240.3 126.7,241.1 127.4,241.8 128.1,242.6 128.8,243.4 129.5,244.2 130.2,245.0 130.9,245.9 131.6,246.7 132.3,247.5 133.0,248.4 133.7,249.3 134.4,250.1 135.1,251.0 135.8,251.9 136.5,252.9 137.2,253.8 137.9,254.7 138.6,255.7 139.3,256.6 140.0,257.6 140.7,258.6 141.4,259.6 142.1,260.6 142.8,261.6 143.5,262.6 144.2,263.7 144.9,264.7 145.6,265.8 146.3,266.9 147.0,267.9 147.7,269.0 148.4,270.1 149.1,271.2 149.8,272.3 150.5,273.4 151.2,274.5 151.9,275.6 152.6,276.7 153.3,277.9 154.0,278.9 154.7,280.0 155.4,281.1 156.1,282.2 156.7,283.2 157.4,284.2 158.1,285.2 158.8,286.2 159.5,287.1 160.2,287.9 160.9,288.7 161.6,289.4 162.3,290.1 163.0,290.6 163.7,291.1 164.4,291.4 165.1,291.6 165.8,291.7 166.5,291.6 167.2,291.3 167.9,290.8 168.6,290.2 169.3,289.3 170.0,288.1 170.7,286.7 171.4,285.0 172.1,283.1 172.8,280.8 173.5,278.3 174.2,275.5 174.9,272.4 175.6,269.0 176.3,265.5 177.0,261.6 177.7,257.7 178.4,253.5 179.1,249.3 179.8,245.1 180.5,240.8 181.2,236.6 181.9,232.4 182.6,228.5 183.3,224.6 184.0,221.1 184.7,217.7 185.4,214.6 186.1,211.8 186.8,209.3 187.5,207.0 188.2,205.1 188.9,203.4 189.6,202.0 190.3,200.8 191.0,199.9 191.7,199.3 192.4,198.8 193.1,198.5 193.8,198.4 194.5,198.5 195.2,198.7 195.9,199.0 196.6,199.5 197.3,200.0 198.0,200.7 198.7,201.4 199.4,202.2 200.1,203.0 200.8,203.9 201.5,204.9 202.2,205.9 202.9,206.9 203.5,207.9 204.2,209.0 204.9,210.1 205.6,211.2 206.3,212.2 207.0,213.4 207.7,214.5 208.4,215.6 209.1,216.7 209.8,217.8 210.5,218.9 211.2,220.0 211.9,221.1 212.6,222.2 213.3,223.2 214.0,224.3 214.7,225.4 215.4,226.4 216.1,227.5 216.8,228.5 217.5,229.5 218.2,230.5 218.9,231.5 219.6,232.5 220.3,233.5 221.0,234.4 221.7,235.4 222.4,236.3 223.1,237.2 223.8,238.2 224.5,239.1 225.2,240.0 225.9,240.8 226.6,241.7 227.3,242.6 228.0,243.4 228.7,244.2 229.4,245.1 230.1,245.9 230.8,246.7 231.5,247.5 232.2,248.3 232.9,249.0 233.6,249.8 234.3,250.6 235.0,251.3 235.7,252.0 236.4,252.8 237.1,253.5 237.8,254.2 238.5,254.9 239.2,255.5 239.9,256.2 240.6,256.9 241.3,257.6 242.0,258.2 242.7,258.8 243.4,259.5 244.1,260.1 244.8,260.7 245.5,261.3 246.2,261.9 246.9,262.5 247.6,263.1 248.3,263.7 249.0,264.2 249.6,264.8 250.3,265.4 251.0,265.9 251.7,266.4 252.4,267.0 253.1,267.5 253.8,268.0 254.5,268.5 255.2,269.0 255.9,269.5 256.6,270.0 257.3,270.5 258.0,271.0 258.7,271.4 259.4,271.9 260.1,272.4 260.8,272.8 261.5,273.2 262.2,273.7 262.9,274.1 263.6,274.5 264.3,275.0 265.0,275.4 265.7,275.8 266.4,276.2 267.1,276.6 267.8,277.0 268.5,277.4 269.2,277.7 269.9,278.1 270.6,278.5 271.3,278.8 272.0,279.2 272.7,279.6 273.4,279.9 274.1,280.2 274.8,280.6 275.5,280.9 276.2,281.2 276.9,281.6 277.6,281.9 278.3,282.2 279.0,282.5 279.7,282.8 280.4,283.1 281.1,283.4 281.8,283.7 282.5,284.0 283.2,284.3 283.9,284.6 284.6,284.8 285.3,285.1 286.0,285.4 286.7,285.6 287.4,285.9 288.1,286.1 288.8,286.4 289.5,286.6 290.2,286.9 290.9,287.1 291.6,287.3 292.3,287.6 293.0,287.8 293.7,288.0 294.4,288.2 295.1,288.4 295.8,288.6 296.4,288.9 297.1,289.1 297.8,289.3 298.5,289.5 299.2,289.6 299.9,289.8 300.6,290.0 301.3,290.2 302.0,290.4 302.7,290.6 303.4,290.7 304.1,290.9 304.8,291.1 305.5,291.2 306.2,291.4 306.9,291.6 307.6,291.7 308.3,291.9 309.0,292.0 309.7,292.2 310.4,292.3 311.1,292.5 311.8,292.6 312.5,292.7 313.2,292.9 313.9,293.0 314.6,293.1 315.3,293.2 316.0,293.4 316.7,293.5 317.4,293.6 318.1,293.7 318.8,293.8 319.5,293.9"/>
<polyline class="c" stroke="#0000ff" stroke-dasharray="6.6 3.2 1.9 3.2" stroke-dashoffset="0.65" points="40.1,196.0 40.8,196.1 41.5,196.2 42.2,196.3 42.9,196.5 43.6,196.6 44.3,196.7 45.0,196.8 45.7,196.9 46.4,197.1 47.1,197.2 47.8,197.3 48.5,197.5 49.2,197.6 49.9,197.7 50.6,197.9 51.3,198.0 52.0,198.2 52.7,198.3 53.4,198.5 54.1,198.6 54.8,198.8 55.5,199.0 56.2,199.1 56.9,199.3 57.6,199.5 58.3,199.6 59.0,199.8 59.7,200.0 60.4,200.2 61.1,200.4 61.8,200.6 62.5,200.8 63.2,201.0 63.8,201.2 64.5,201.4 65.2,201.6 65.9,201.8 66.6,202.0 67.3,202.2 68.0,202.5 68.7,202.7 69.4,202.9 70.1,203.2 70.8,203.4 71.5,203.6 72.2,203.9 72.9,204.1 73.6,204.4 74.3,204.7 75.0,204.9 75.7,205.2 76.4,205.5 77.1,205.7 77.8,206.0 78.5,206.3 79.2,206.6 79.9,206.9 80.6,207.2 81.3,207.5 82.0,207.8 82.7,208.1 83.4,208.4 84.1,208.8 84.8,209.1 85.5,209.4 86.2,209.8 86.9,210.1 87.6,210.5 88.3,210.8 89.0,211.2 89.7,211.5 90.4,211.9 91.1,212.3 91.8,212.7 92.5,213.1 93.2,213.4 93.9,213.8 94.6,214.2 95.3,214.7 96.0,215.1 96.7,215.5 97.4,215.9 98.1,216.4 98.8,216.8 99.5,217.2 100.2,217.7 100.9,218.2 101.6,218.6 102.3,219.1 103.0,219.6 103.7,220.1 104.4,220.6 105.1,221.1 105.8,221.6 106.5,222.1 107.2,222.6 107.9,223.1 108.6,223.7 109.3,224.2 109.9,224.8 110.6,225.3 111.3,225.9 112.0,226.5 112.7,227.1 113.4,227.7 114.1,228.3 114.8,228.9 115.5,229.5 116.2,230.1 116.9,230.8 117.6,231.4 118.3,232.1 119.0,232.7 119.7,233.4 120.4,234.1 121.1,234.8 121.8,235.5 122.5,236.2 123.2,236.9 123.9,237.7 124.6,238.4 125.3,239.2 126.0,240.0 126.7,240.7 127.4,241.5 128.1,242.4 128.8,243.2 129.5,244.0 130.2,244.8 130.9,245.7 131.6,246.6 132.3,247.5 133.0,248.4 133.7,249.3 134.4,250.2 135.1,251.1 135.8,252.1 136.5,253.1 137.2,254.0 137.9,255.0 138.6,256.1 139.3,257.1 140.0,258.1 140.7,259.2 141.4,260.3 142.1,261.4 142.8,262.5 143.5,263.6 144.2,264.7 144.9,265.9 145.6,267.0 146.3,268.2 147.0,269.4 147.7,270.6 148.4,271.8 149.1,273.0 149.8,274.2 150.5,275.5 151.2,276.7 151.9,277.9 152.6,279.1 153.3,280.3 154.0,281.5 154.7,282.7 155.4,283.8 156.1,284.9 156.7,286.0 157.4,286.9 158.1,287.8 158.8,288.6 159.5,289.3 160.2,289.8 160.9,290.2 161.6,290.3 162.3,290.2 163.0,289.7 163.7,289.0 164.4,287.8 165.1,286.1 165.8,283.9 166.5,281.2 167.2,277.7 167.9,273.6 168.6,268.7 169.3,263.2 170.0,256.9 170.7,250.2 171.4,243.1 172.1,236.0 172.8,229.3 173.5,223.3 174.2,218.5 174.9,215.4 175.6,214.2 176.3,215.1 177.0,218.0 177.7,222.9 178.4,229.4 179.1,236.9 179.8,245.1 180.5,253.2 181.2,260.7 181.9,267.1 182.6,272.0 183.3,275.0 184.0,275.9 184.7,274.8 185.4,271.9 186.1,267.3 186.8,261.6 187.5,255.1 188.2,248.2 188.9,241.3 189.6,234.6 190.3,228.5 191.0,222.9 191.7,218.0 192.4,213.8 193.1,210.2 193.8,207.3 194.5,204.9 195.2,203.1 195.9,201.7 196.6,200.8 197.3,200.2 198.0,199.9 198.7,199.8 199.4,200.0 200.1,200.4 200.8,200.9 201.5,201.5 202.2,202.3 202.9,203.1 203.5,204.0 204.2,205.0 204.9,206.1 205.6,207.1 206.3,208.2 207.0,209.4 207.7,210.5 208.4,211.7 209.1,212.8 209.8,214.0 210.5,215.2 211.2,216.3 211.9,217.5 212.6,218.6 213.3,219.8 214.0,220.9 214.7,222.1 215.4,223.2 216.1,224.3 216.8,225.4 217.5,226.5 218.2,227.6 218.9,228.6 219.6,229.7 220.3,230.7 221.0,231.7 221.7,232.8 222.4,233.8 223.1,234.7 223.8,235.7 224.5,236.7 225.2,237.6 225.9,238.5 226.6,239.5 227.3,240.4 228.0,241.3 228.7,242.2 229.4,243.0 230.1,243.9 230.8,244.7 231.5,245.6 232.2,246.4 232.9,247.2 233.6,248.0 234.3,248.8 235.0,249.6 235.7,250.3 236.4,251.1 237.1,251.8 237.8,252.6 238.5,253.3 239.2,254.0 239.9,254.7 240.6,255.4 241.3,256.1 242.0,256.8 242.7,257.5 243.4,258.1 244.1,258.8 244.8,259.4 245.5,260.0 246.2,260.7 246.9,261.3 247.6,261.9 248.3,262.5 249.0,263.1 249.6,263.7 250.3,264.2 251.0,264.8 251.7,265.4 252.4,265.9 253.1,266.4 253.8,267.0 254.5,267.5 255.2,268.0 255.9,268.5 256.6,269.1 257.3,269.6 258.0,270.0 258.7,270.5 259.4,271.0 260.1,271.5 260.8,271.9 261.5,272.4 262.2,272.9 262.9,273.3 263.6,273.7 264.3,274.2 265.0,274.6 265.7,275.0 266.4,275.4 267.1,275.9 267.8,276.3 268.5,276.7 269.2,277.0 269.9,277.4 270.6,277.8 271.3,278.2 272.0,278.6 272.7,278.9 273.4,279.3 274.1,279.6 274.8,280.0 275.5,280.3 276.2,280.7 276.9,281.0 277.6,281.3 278.3,281.7 279.0,282.0 279.7,282.3 280.4,282.6 281.1,282.9 281.8,283.2 282.5,283.5 283.2,283.8 283.9,284.1 284.6,284.4 285.3,284.6 286.0,284.9 286.7,285.2 287.4,285.4 288.1,285.7 288.8,286.0 289.5,286.2 290.2,286.5 290.9,286.7 291.6,286.9 292.3,287.2 293.0,287.4 293.7,287.6 294.4,287.9 295.1,288.1 295.8,288.3 296.4,288.5 297.1,288.7 297.8,288.9 298.5,289.1 299.2,289.3 299.9,289.5 300.6,289.7 301.3,289.9 302.0,290.1 302.7,290.3 303.4,290.5 304.1,290.6 304.8,290.8 305.5,291.0 306.2,291.1 306.9,291.3 307.6,291.5 308.3,291.6 309.0,291.8 309.7,291.9 310.4,292.1 311.1,292.2 311.8,292.4 312.5,292.5 313.2,292.6 313.9,292.8 314.6,292.9 315.3,293.0 316.0,293.2 316.7,293.3 317.4,293.4 318.1,293.5 318.8,293.6 319.5,293.8"/>
</g>
<g clip-path="url(#c02)">
<polyline class="c" stroke="#000000" points="40.1,384.6 40.8,384.6 41.5,384.7 42.2,384.7 42.9,384.7 43.6,384.7 44.3,384.7 45.0,384.7 45.7,384.7 46.4,384.7 47.1,384.8 47.8,384.8 48.5,384.8 49.2,384.8 49.9,384.8 50.6,384.8 51.3,384.8 52.0,384.9 52.7,384.9 53.4,384.9 54.1,384.9 54.8,384.9 55.5,384.9 56.2,385.0 56.9,385.0 57.6,385.0 58.3,385.0 59.0,385.0 59.7,385.0 60.4,385.1 61.1,385.1 61.8,385.1 62.5,385.1 63.2,385.1 63.8,385.1 64.5,385.2 65.2,385.2 65.9,385.2 66.6,385.2 67.3,385.2 68.0,385.2 68.7,385.3 69.4,385.3 70.1,385.3 70.8,385.3 71.5,385.3 72.2,385.4 72.9,385.4 73.6,385.4 74.3,385.4 75.0,385.4 75.7,385.5 76.4,385.5 77.1,385.5 77.8,385.5 78.5,385.6 79.2,385.6 79.9,385.6 80.6,385.6 81.3,385.6 82.0,385.7 82.7,385.7 83.4,385.7 84.1,385.7 84.8,385.8 85.5,385.8 86.2,385.8 86.9,385.8 87.6,385.8 88.3,385.9 89.0,385.9 89.7,385.9 90.4,385.9 91.1,386.0 91.8,386.0 92.5,386.0 93.2,386.1 93.9,386.1 94.6,386.1 95.3,386.1 96.0,386.2 96.7,386.2 97.4,386.2 98.1,386.2 98.8,386.3 99.5,386.3 100.2,386.3 100.9,386.4 101.6,386.4 102.3,386.4 103.0,386.4 103.7,386.5 104.4,386.5 105.1,386.5 105.8,386.6 106.5,386.6 107.2,386.6 107.9,386.7 108.6,386.7 109.3,386.7 109.9,386.8 110.6,386.8 111.3,386.8 112.0,386.9 112.7,386.9 113.4,386.9 114.1,387.0 114.8,387.0 115.5,387.1 116.2,387.1 116.9,387.1 117.6,387.2 118.3,387.2 119.0,387.2 119.7,387.3 120.4,387.3 121.1,387.4 121.8,387.4 122.5,387.5 123.2,387.5 123.9,387.5 124.6,387.6 125.3,387.6 126.0,387.7 126.7,387.7 127.4,387.8 128.1,387.8 128.8,387.9 129.5,387.9 130.2,388.0 130.9,388.1 131.6,388.1 132.3,388.2 133.0,388.2 133.7,388.3 134.4,388.4 135.1,388.4 135.8,388.5 136.5,388.6 137.2,388.6 137.9,388.7 138.6,388.8 139.3,388.8 140.0,388.9 140.7,389.0 141.4,389.1 142.1,389.2 142.8,389.3 143.5,389.4 144.2,389.5 144.9,389.6 145.6,389.7 146.3,389.8 147.0,389.9 147.7,390.0 148.4,390.1 149.1,390.2 149.8,390.4 150.5,390.5 151.2,390.6 151.9,390.8 152.6,390.9 153.3,391.1 154.0,391.2 154.7,391.4 155.4,391.6 156.1,391.8 156.7,391.9 157.4,392.1 158.1,392.3 158.8,392.5 159.5,392.7 160.2,392.9 160.9,393.0 161.6,393.2 162.3,393.3 163.0,393.5 163.7,393.6 164.4,393.6 165.1,393.6 165.8,393.5 166.5,393.3 167.2,393.0 167.9,392.6 168.6,391.9 169.3,391.0 170.0,389.8 170.7,388.2 171.4,386.1 172.1,383.5 172.8,380.3 173.5,376.4 174.2,371.9 174.9,366.7 175.6,361.1 176.3,355.1 177.0,349.3 177.7,344.0 178.4,339.7 179.1,336.9 179.8,335.9 180.5,336.9 181.2,339.7 181.9,344.0 182.6,349.3 183.3,355.1 184.0,361.1 184.7,366.7 185.4,371.9 186.1,376.4 186.8,380.3 187.5,383.5 188.2,386.1 188.9,388.2 189.6,389.8 190.3,391.0 191.0,391.9 191.7,392.6 192.4,393.0 193.1,393.3 193.8,393.5 194.5,393.6 195.2,393.6 195.9,393.6 196.6,393.5 197.3,393.3 198.0,393.2 198.7,393.0 199.4,392.9 200.1,392.7 200.8,392.5 201.5,392.3 202.2,392.1 202.9,391.9 203.5,391.8 204.2,391.6 204.9,391.4 205.6,391.2 206.3,391.1 207.0,390.9 207.7,390.8 208.4,390.6 209.1,390.5 209.8,390.4 210.5,390.2 211.2,390.1 211.9,390.0 212.6,389.9 213.3,389.8 214.0,389.7 214.7,389.6 215.4,389.5 216.1,389.4 216.8,389.3 217.5,389.2 218.2,389.1 218.9,389.0 219.6,388.9 220.3,388.8 221.0,388.8 221.7,388.7 222.4,388.6 223.1,388.6 223.8,388.5 224.5,388.4 225.2,388.4 225.9,388.3 226.6,388.2 227.3,388.2 228.0,388.1 228.7,388.1 229.4,388.0 230.1,387.9 230.8,387.9 231.5,387.8 232.2,387.8 232.9,387.7 233.6,387.7 234.3,387.6 235.0,387.6 235.7,387.5 236.4,387.5 237.1,387.5 237.8,387.4 238.5,387.4 239.2,387.3 239.9,387.3 240.6,387.2 241.3,387.2 242.0,387.2 242.7,387.1 243.4,387.1 244.1,387.1 244.8,387.0 245.5,387.0 246.2,386.9 246.9,386.9 247.6,386.9 248.3,386.8 249.0,386.8 249.6,386.8 250.3,386.7 251.0,386.7 251.7,386.7 252.4,386.6 253.1,386.6 253.8,386.6 254.5,386.5 255.2,386.5 255.9,386.5 256.6,386.4 257.3,386.4 258.0,386.4 258.7,386.4 259.4,386.3 260.1,386.3 260.8,386.3 261.5,386.2 262.2,386.2 262.9,386.2 263.6,386.2 264.3,386.1 265.0,386.1 265.7,386.1 266.4,386.1 267.1,386.0 267.8,386.0 268.5,386.0 269.2,385.9 269.9,385.9 270.6,385.9 271.3,385.9 272.0,385.8 272.7,385.8 273.4,385.8 274.1,385.8 274.8,385.8 275.5,385.7 276.2,385.7 276.9,385.7 277.6,385.7 278.3,385.6 279.0,385.6 279.7,385.6 280.4,385.6 281.1,385.6 281.8,385.5 282.5,385.5 283.2,385.5 283.9,385.5 284.6,385.4 285.3,385.4 286.0,385.4 286.7,385.4 287.4,385.4 288.1,385.3 288.8,385.3 289.5,385.3 290.2,385.3 290.9,385.3 291.6,385.2 292.3,385.2 293.0,385.2 293.7,385.2 294.4,385.2 295.1,385.2 295.8,385.1 296.4,385.1 297.1,385.1 297.8,385.1 298.5,385.1 299.2,385.1 299.9,385.0 300.6,385.0 301.3,385.0 302.0,385.0 302.7,385.0 303.4,385.0 304.1,384.9 304.8,384.9 305.5,384.9 306.2,384.9 306.9,384.9 307.6,384.9 308.3,384.8 309.0,384.8 309.7,384.8 310.4,384.8 311.1,384.8 311.8,384.8 312.5,384.8 313.2,384.7 313.9,384.7 314.6,384.7 315.3,384.7 316.0,384.7 316.7,384.7 317.4,384.7 318.1,384.7 318.8,384.6 319.5,384.6"/>
<polyline class="c" stroke="#ff0000" stroke-dasharray="5.2 5.6" stroke-dashoffset="3.76" points="40.1,384.8 40.8,384.8 41.5,384.9 42.2,384.9 42.9,384.9 43.6,384.9 44.3,384.9 45.0,384.9 45.7,385.0 46.4,385.0 47.1,385.0 47.8,385.0 48.5,385.0 49.2,385.1 49.9,385.1 50.6,385.1 51.3,385.1 52.0,385.1 52.7,385.1 53.4,385.2 54.1,385.2 54.8,385.2 55.5,385.2 56.2,385.2 56.9,385.3 57.6,385.3 58.3,385.3 59.0,385.3 59.7,385.4 60.4,385.4 61.1,385.4 61.8,385.4 62.5,385.4 63.2,385.5 63.8,385.5 64.5,385.5 65.2,385.5 65.9,385.6 66.6,385.6 67.3,385.6 68.0,385.6 68.7,385.7 69.4,385.7 70.1,385.7 70.8,385.7 71.5,385.8 72.2,385.8 72.9,385.8 73.6,385.9 74.3,385.9 75.0,385.9 75.7,385.9 76.4,386.0 77.1,386.0 77.8,386.0 78.5,386.1 79.2,386.1 79.9,386.1 80.6,386.1 81.3,386.2 82.0,386.2 82.7,386.2 83.4,386.3 84.1,386.3 84.8,386.3 85.5,386.4 86.2,386.4 86.9,386.4 87.6,386.5 88.3,386.5 89.0,386.5 89.7,386.6 90.4,386.6 91.1,386.7 91.8,386.7 92.5,386.7 93.2,386.8 93.9,386.8 94.6,386.8 95.3,386.9 96.0,386.9 96.7,387.0 97.4,387.0 98.1,387.0 98.8,387.1 99.5,387.1 100.2,387.2 100.9,387.2 101.6,387.3 102.3,387.3 103.0,387.3 103.7,387.4 104.4,387.4 105.1,387.5 105.8,387.5 106.5,387.6 107.2,387.6 107.9,387.7 108.6,387.7 109.3,387.8 109.9,387.8 110.6,387.9 111.3,387.9 112.0,388.0 112.7,388.0 113.4,388.1 114.1,388.1 114.8,388.2 115.5,388.2 116.2,388.3 116.9,388.3 117.6,388.4 118.3,388.5 119.0,388.5 119.7,388.6 120.4,388.6 121.1,388.7 121.8,388.8 122.5,388.8 123.2,388.9 123.9,389.0 124.6,389.0 125.3,389.1 126.0,389.1 126.7,389.2 127.4,389.3 128.1,389.4 128.8,389.4 129.5,389.5 130.2,389.6 130.9,389.6 131.6,389.7 132.3,389.8 133.0,389.9 133.7,389.9 134.4,390.0 135.1,390.1 135.8,390.2 136.5,390.2 137.2,390.3 137.9,390.4 138.6,390.5 139.3,390.5 140.0,390.6 140.7,390.7 141.4,390.8 142.1,390.9 142.8,390.9 143.5,391.0 144.2,391.1 144.9,391.1 145.6,391.2 146.3,391.3 147.0,391.3 147.7,391.4 148.4,391.4 149.1,391.4 149.8,391.5 150.5,391.5 151.2,391.5 151.9,391.5 152.6,391.5 153.3,391.4 154.0,391.4 154.7,391.3 155.4,391.2 156.1,391.1 156.7,390.9 157.4,390.8 158.1,390.5 158.8,390.3 159.5,390.0 160.2,389.6 160.9,389.2 161.6,388.7 162.3,388.1 163.0,387.5 163.7,386.7 164.4,385.9 165.1,385.0 165.8,384.0 166.5,382.9 167.2,381.6 167.9,380.3 168.6,378.8 169.3,377.3 170.0,375.6 170.7,373.8 171.4,372.0 172.1,370.1 172.8,368.2 173.5,366.3 174.2,364.4 174.9,362.6 175.6,360.9 176.3,359.4 177.0,358.1 177.7,357.0 178.4,356.2 179.1,355.8 179.8,355.6 180.5,355.8 181.2,356.2 181.9,357.0 182.6,358.1 183.3,359.4 184.0,360.9 184.7,362.6 185.4,364.4 186.1,366.3 186.8,368.2 187.5,370.1 188.2,372.0 188.9,373.8 189.6,375.6 190.3,377.3 191.0,378.8 191.7,380.3 192.4,381.6 193.1,382.9 193.8,384.0 194.5,385.0 195.2,385.9 195.9,386.7 196.6,387.5 197.3,388.1 198.0,388.7 198.7,389.2 199.4,389.6 200.1,390.0 200.8,390.3 201.5,390.5 202.2,390.8 202.9,390.9 203.5,391.1 204.2,391.2 204.9,391.3 205.6,391.4 206.3,391.4 207.0,391.5 207.7,391.5 208.4,391.5 209.1,391.5 209.8,391.5 210.5,391.4 211.2,391.4 211.9,391.4 212.6,391.3 213.3,391.3 214.0,391.2 214.7,391.1 215.4,391.1 216.1,391.0 216.8,390.9 217.5,390.9 218.2,390.8 218.9,390.7 219.6,390.6 220.3,390.5 221.0,390.5 221.7,390.4 222.4,390.3 223.1,390.2 223.8,390.2 224.5,390.1 225.2,390.0 225.9,389.9 226.6,389.9 227.3,389.8 228.0,389.7 228.7,389.6 229.4,389.6 230.1,389.5 230.8,389.4 231.5,389.4 232.2,389.3 232.9,389.2 233.6,389.1 234.3,389.1 235.0,389.0 235.7,389.0 236.4,388.9 237.1,388.8 237.8,388.8 238.5,388.7 239.2,388.6 239.9,388.6 240.6,388.5 241.3,388.5 242.0,388.4 242.7,388.3 243.4,388.3 244.1,388.2 244.8,388.2 245.5,388.1 246.2,388.1 246.9,388.0 247.6,388.0 248.3,387.9 249.0,387.9 249.6,387.8 250.3,387.8 251.0,387.7 251.7,387.7 252.4,387.6 253.1,387.6 253.8,387.5 254.5,387.5 255.2,387.4 255.9,387.4 256.6,387.3 257.3,387.3 258.0,387.3 258.7,387.2 259.4,387.2 260.1,387.1 260.8,387.1 261.5,387.0 262.2,387.0 262.9,387.0 263.6,386.9 264.3,386.9 265.0,386.8 265.7,386.8 266.4,386.8 267.1,386.7 267.8,386.7 268.5,386.7 269.2,386.6 269.9,386.6 270.6,386.5 271.3,386.5 272.0,386.5 272.7,386.4 273.4,386.4 274.1,386.4 274.8,386.3 275.5,386.3 276.2,386.3 276.9,386.2 277.6,386.2 278.3,386.2 279.0,386.1 279.7,386.1 280.4,386.1 281.1,386.1 281.8,386.0 282.5,386.0 283.2,386.0 283.9,385.9 284.6,385.9 285.3,385.9 286.0,385.9 286.7,385.8 287.4,385.8 288.1,385.8 288.8,385.7 289.5,385.7 290.2,385.7 290.9,385.7 291.6,385.6 292.3,385.6 293.0,385.6 293.7,385.6 294.4,385.5 295.1,385.5 295.8,385.5 296.4,385.5 297.1,385.4 297.8,385.4 298.5,385.4 299.2,385.4 299.9,385.4 300.6,385.3 301.3,385.3 302.0,385.3 302.7,385.3 303.4,385.2 304.1,385.2 304.8,385.2 305.5,385.2 306.2,385.2 306.9,385.1 307.6,385.1 308.3,385.1 309.0,385.1 309.7,385.1 310.4,385.1 311.1,385.0 311.8,385.0 312.5,385.0 313.2,385.0 313.9,385.0 314.6,384.9 315.3,384.9 316.0,384.9 316.7,384.9 317.4,384.9 318.1,384.9 318.8,384.8 319.5,384.8"/>
<polyline class="c" stroke="#0000ff" stroke-dasharray="6.6 3.2 1.9 3.2" stroke-dashoffset="8.84" points="40.1,384.8 40.8,384.8 41.5,384.8 42.2,384.9 42.9,384.9 43.6,384.9 44.3,384.9 45.0,384.9 45.7,384.9 46.4,385.0 47.1,385.0 47.8,385.0 48.5,385.0 49.2,385.0 49.9,385.0 50.6,385.1 51.3,385.1 52.0,385.1 52.7,385.1 53.4,385.1 54.1,385.2 54.8,385.2 55.5,385.2 56.2,385.2 56.9,385.2 57.6,385.3 58.3,385.3 59.0,385.3 59.7,385.3 60.4,385.3 61.1,385.4 61.8,385.4 62.5,385.4 63.2,385.4 63.8,385.5 64.5,385.5 65.2,385.5 65.9,385.5 66.6,385.6 67.3,385.6 68.0,385.6 68.7,385.6 69.4,385.7 70.1,385.7 70.8,385.7 71.5,385.7 72.2,385.8 72.9,385.8 73.6,385.8 74.3,385.8 75.0,385.9 75.7,385.9 76.4,385.9 77.1,386.0 77.8,386.0 78.5,386.0 79.2,386.1 79.9,386.1 80.6,386.1 81.3,386.1 82.0,386.2 82.7,386.2 83.4,386.2 84.1,386.3 84.8,386.3 85.5,386.3 86.2,386.4 86.9,386.4 87.6,386.4 88.3,386.5 89.0,386.5 89.7,386.5 90.4,386.6 91.1,386.6 91.8,386.7 92.5,386.7 93.2,386.7 93.9,386.8 94.6,386.8 95.3,386.9 96.0,386.9 96.7,386.9 97.4,387.0 98.1,387.0 98.8,387.1 99.5,387.1 100.2,387.1 100.9,387.2 101.6,387.2 102.3,387.3 103.0,387.3 103.7,387.4 104.4,387.4 105.1,387.5 105.8,387.5 106.5,387.6 107.2,387.6 107.9,387.7 108.6,387.7 109.3,387.8 109.9,387.8 110.6,387.9 111.3,387.9 112.0,388.0 112.7,388.0 113.4,388.1 114.1,388.1 114.8,388.2 115.5,388.3 116.2,388.3 116.9,388.4 117.6,388.4 118.3,388.5 119.0,388.6 119.7,388.6 120.4,388.7 121.1,388.8 121.8,388.8 122.5,388.9 123.2,389.0 123.9,389.1 124.6,389.1 125.3,389.2 126.0,389.3 126.7,389.4 127.4,389.4 128.1,389.5 128.8,389.6 129.5,389.7 130.2,389.8 130.9,389.9 131.6,389.9 132.3,390.0 133.0,390.1 133.7,390.2 134.4,390.3 135.1,390.4 135.8,390.5 136.5,390.6 137.2,390.7 137.9,390.8 138.6,390.9 139.3,391.0 140.0,391.1 140.7,391.2 141.4,391.3 142.1,391.4 142.8,391.5 143.5,391.6 144.2,391.7 144.9,391.8 145.6,391.9 146.3,392.0 147.0,392.1 147.7,392.1 148.4,392.2 149.1,392.2 149.8,392.3 150.5,392.3 151.2,392.3 151.9,392.3 152.6,392.2 153.3,392.1 154.0,392.0 154.7,391.8 155.4,391.5 156.1,391.2 156.7,390.8 157.4,390.3 158.1,389.7 158.8,389.0 159.5,388.1 160.2,387.0 160.9,385.7 161.6,384.1 162.3,382.3 163.0,380.2 163.7,377.6 164.4,374.7 165.1,371.4 165.8,367.6 166.5,363.4 167.2,358.9 167.9,354.1 168.6,349.3 169.3,344.7 170.0,340.7 170.7,337.8 171.4,336.5 172.1,337.5 172.8,341.2 173.5,347.9 174.2,357.4 174.9,369.3 175.6,382.9 176.3,397.0 177.0,410.5 177.7,422.3 178.4,431.3 179.1,437.0 179.8,438.9 180.5,436.9 181.2,431.1 181.9,422.1 182.6,410.5 183.3,397.3 184.0,383.5 184.7,370.3 185.4,358.7 186.1,349.4 186.8,342.8 187.5,339.0 188.2,337.8 188.9,338.7 189.6,341.3 190.3,344.9 191.0,349.1 191.7,353.7 192.4,358.2 193.1,362.6 193.8,366.6 194.5,370.3 195.2,373.5 195.9,376.4 196.6,378.9 197.3,381.1 198.0,383.0 198.7,384.6 199.4,385.9 200.1,387.0 200.8,388.0 201.5,388.8 202.2,389.5 202.9,390.0 203.5,390.5 204.2,390.8 204.9,391.1 205.6,391.4 206.3,391.5 207.0,391.7 207.7,391.8 208.4,391.8 209.1,391.9 209.8,391.9 210.5,391.9 211.2,391.9 211.9,391.8 212.6,391.8 213.3,391.7 214.0,391.7 214.7,391.6 215.4,391.6 216.1,391.5 216.8,391.4 217.5,391.3 218.2,391.2 218.9,391.1 219.6,391.1 220.3,391.0 221.0,390.9 221.7,390.8 222.4,390.7 223.1,390.6 223.8,390.5 224.5,390.4 225.2,390.4 225.9,390.3 226.6,390.2 227.3,390.1 228.0,390.0 228.7,389.9 229.4,389.9 230.1,389.8 230.8,389.7 231.5,389.6 232.2,389.5 232.9,389.5 233.6,389.4 234.3,389.3 235.0,389.3 235.7,389.2 236.4,389.1 237.1,389.0 237.8,389.0 238.5,388.9 239.2,388.8 239.9,388.8 240.6,388.7 241.3,388.7 242.0,388.6 242.7,388.5 243.4,388.5 244.1,388.4 244.8,388.3 245.5,388.3 246.2,388.2 246.9,388.2 247.6,388.1 248.3,388.1 249.0,388.0 249.6,388.0 250.3,387.9 251.0,387.8 251.7,387.8 252.4,387.7 253.1,387.7 253.8,387.6 254.5,387.6 255.2,387.5 255.9,387.5 256.6,387.5 257.3,387.4 258.0,387.4 258.7,387.3 259.4,387.3 260.1,387.2 260.8,387.2 261.5,387.1 262.2,387.1 262.9,387.1 263.6,387.0 264.3,387.0 265.0,386.9 265.7,386.9 266.4,386.9 267.1,386.8 267.8,386.8 268.5,386.7 269.2,386.7 269.9,386.7 270.6,386.6 271.3,386.6 272.0,386.5 272.7,386.5 273.4,386.5 274.1,386.4 274.8,386.4 275.5,386.4 276.2,386.3 276.9,386.3 277.6,386.3 278.3,386.2 279.0,386.2 279.7,386.2 280.4,386.1 281.1,386.1 281.8,386.1 282.5,386.1 283.2,386.0 283.9,386.0 284.6,386.0 285.3,385.9 286.0,385.9 286.7,385.9 287.4,385.8 288.1,385.8 288.8,385.8 289.5,385.8 290.2,385.7 290.9,385.7 291.6,385.7 292.3,385.7 293.0,385.6 293.7,385.6 294.4,385.6 295.1,385.6 295.8,385.5 296.4,385.5 297.1,385.5 297.8,385.5 298.5,385.4 299.2,385.4 299.9,385.4 300.6,385.4 301.3,385.3 302.0,385.3 302.7,385.3 303.4,385.3 304.1,385.3 304.8,385.2 305.5,385.2 306.2,385.2 306.9,385.2 307.6,385.2 308.3,385.1 309.0,385.1 309.7,385.1 310.4,385.1 311.1,385.1 311.8,385.0 312.5,385.0 313.2,385.0 313.9,385.0 314.6,385.0 315.3,385.0 316.0,384.9 316.7,384.9 317.4,384.9 318.1,384.9 318.8,384.9 319.5,384.9"/>
</g>
<g clip-path="url(#c10)">
<polyline class="c" stroke-width="1.4" stroke="#2d49fa" points="405.6,37.5 406.1,37.5 406.5,37.5 407.0,37.5 407.5,37.5 407.9,37.5 408.4,37.5 408.9,37.5 409.3,37.5 409.8,37.5 410.2,37.5 410.7,37.5 411.2,37.5 411.6,37.5 412.1,37.5 412.6,37.5 413.0,37.5 413.5,37.5 414.0,37.5 414.4,37.5 414.9,37.5 415.4,37.6 415.8,37.6 416.3,37.6 416.8,37.6 417.2,37.6 417.7,37.6 418.1,37.7 418.6,37.7 419.1,37.7 419.5,37.7 420.0,37.8 420.5,37.8 420.9,37.8 421.4,37.8 421.9,37.9 422.3,37.9 422.8,37.9 423.3,38.0 423.7,38.0 424.2,38.0 424.7,38.1 425.1,38.1 425.6,38.1 426.0,38.2 426.5,38.2 427.0,38.3 427.4,38.3 427.9,38.4 428.4,38.4 428.8,38.5 429.3,38.5 429.8,38.6 430.2,38.6 430.7,38.7 431.2,38.7 431.6,38.8 432.1,38.9 432.6,38.9 433.0,39.0 433.5,39.1 433.9,39.1 434.4,39.2 434.9,39.3 435.3,39.4 435.8,39.4 436.3,39.5 436.7,39.6 437.2,39.7 437.7,39.8 438.1,39.8 438.6,39.9 439.1,40.0 439.5,40.1 440.0,40.2 440.5,40.3 440.9,40.4 441.4,40.5 441.8,40.6 442.3,40.7 442.8,40.8 443.2,40.9 443.7,41.0 444.2,41.1 444.6,41.3 445.1,41.4 445.6,41.5 446.0,41.6 446.5,41.7 447.0,41.9 447.4,42.0 447.9,42.1 448.3,42.3 448.8,42.4 449.3,42.5 449.7,42.7 450.2,42.8 450.7,43.0 451.1,43.1 451.6,43.3 452.1,43.4 452.5,43.6 453.0,43.8 453.5,43.9 453.9,44.1 454.4,44.3 454.9,44.4 455.3,44.6 455.8,44.8 456.2,45.0 456.7,45.2 457.2,45.3 457.6,45.5 458.1,45.7 458.6,45.9 459.0,46.1 459.5,46.3 460.0,46.6 460.4,46.8 460.9,47.0 461.4,47.2 461.8,47.4 462.3,47.7 462.8,47.9 463.2,48.1 463.7,48.4 464.1,48.6 464.6,48.9 465.1,49.1 465.5,49.4 466.0,49.6 466.5,49.9 466.9,50.2 467.4,50.4 467.9,50.7 468.3,51.0 468.8,51.3 469.3,51.6 469.7,51.9 470.2,52.2 470.7,52.5 471.1,52.8 471.6,53.1 472.0,53.4 472.5,53.7 473.0,54.1 473.4,54.4 473.9,54.7 474.4,55.1 474.8,55.4 475.3,55.8 475.8,56.1 476.2,56.5 476.7,56.9 477.2,57.3 477.6,57.6 478.1,58.0 478.6,58.4 479.0,58.8 479.5,59.2 479.9,59.7 480.4,60.1 480.9,60.5 481.3,60.9 481.8,61.4 482.3,61.8 482.7,62.3 483.2,62.7 483.7,63.2 484.1,63.7 484.6,64.2 485.1,64.6 485.5,65.1 486.0,65.6 486.5,66.1 486.9,66.7 487.4,67.2 487.8,67.7 488.3,68.2 488.8,68.8 489.2,69.3 489.7,69.9 490.2,70.5 490.6,71.1 491.1,71.6 491.6,72.2 492.0,72.8 492.5,73.4 493.0,74.1 493.4,74.7 493.9,75.3 494.4,76.0 494.8,76.6 495.3,77.3 495.7,77.9 496.2,78.6 496.7,79.3 497.1,80.0 497.6,80.7 498.1,81.4 498.5,82.1 499.0,82.9 499.5,83.6 499.9,84.4 500.4,85.1 500.9,85.9 501.3,86.6 501.8,87.4 502.3,88.2 502.7,89.0 503.2,89.8 503.6,90.7 504.1,91.5 504.6,92.3 505.0,93.2 505.5,94.0 506.0,94.9 506.4,95.7 506.9,96.6 507.4,97.5 507.8,98.4 508.3,99.3 508.8,100.2 509.2,101.1 509.7,102.0 510.1,103.0 510.6,103.9 511.1,104.9 511.5,105.8 512.0,106.8 512.5,107.7 512.9,108.7 513.4,109.7 513.9,110.6 514.3,111.6 514.8,112.6 515.3,113.6 515.7,114.6 516.2,115.5 516.7,116.5 517.1,117.5 517.6,118.5 518.0,119.5 518.5,120.5 519.0,121.5 519.4,122.5 519.9,123.4 520.4,124.4 520.8,125.4 521.3,126.3 521.8,127.3 522.2,128.2 522.7,129.2 523.2,130.1 523.6,131.0 524.1,131.9 524.6,132.8 525.0,133.6 525.5,134.5 525.9,135.3 526.4,136.1 526.9,136.8 527.3,137.6 527.8,138.3 528.3,139.0 528.7,139.6 529.2,140.2 529.7,140.8 530.1,141.3 530.6,141.7 531.1,142.1 531.5,142.5 532.0,142.8 532.5,143.0 532.9,143.1 533.4,143.2 533.8,143.2 534.3,143.0 534.8,142.8 535.2,142.4 535.7,142.0 536.2,141.4 536.6,140.6 537.1,139.7 537.6,138.6 538.0,137.4 538.5,135.9 539.0,134.3 539.4,132.4 539.9,130.4 540.4,128.2 540.8,125.9 541.3,123.4 541.7,120.9 542.2,118.3 542.7,115.9 543.1,113.8 543.6,111.9 544.1,110.5 544.5,109.6 545.0,109.3 545.5,109.6 545.9,110.5 546.4,111.9 546.9,113.8 547.3,115.9 547.8,118.3 548.3,120.9 548.7,123.4 549.2,125.9 549.6,128.2 550.1,130.4 550.6,132.4 551.0,134.3 551.5,135.9 552.0,137.4 552.4,138.6 552.9,139.7 553.4,140.6 553.8,141.4 554.3,142.0 554.8,142.4 555.2,142.8 555.7,143.0 556.2,143.2 556.6,143.2 557.1,143.1 557.5,143.0 558.0,142.8 558.5,142.5 558.9,142.1 559.4,141.7 559.9,141.3 560.3,140.8 560.8,140.2 561.3,139.6 561.7,139.0 562.2,138.3 562.7,137.6 563.1,136.8 563.6,136.1 564.1,135.3 564.5,134.5 565.0,133.6 565.4,132.8 565.9,131.9 566.4,131.0 566.8,130.1 567.3,129.2 567.8,128.2 568.2,127.3 568.7,126.3 569.2,125.4 569.6,124.4 570.1,123.4 570.6,122.5 571.0,121.5 571.5,120.5 572.0,119.5 572.4,118.5 572.9,117.5 573.3,116.5 573.8,115.5 574.3,114.6 574.7,113.6 575.2,112.6 575.7,111.6 576.1,110.6 576.6,109.7 577.1,108.7 577.5,107.7 578.0,106.8 578.5,105.8 578.9,104.9 579.4,103.9 579.9,103.0 580.3,102.0 580.8,101.1 581.2,100.2 581.7,99.3 582.2,98.4 582.6,97.5 583.1,96.6 583.6,95.7 584.0,94.9 584.5,94.0 585.0,93.2 585.4,92.3 585.9,91.5 586.4,90.7 586.8,89.8 587.3,89.0 587.7,88.2 588.2,87.4 588.7,86.6 589.1,85.9 589.6,85.1 590.1,84.4 590.5,83.6 591.0,82.9 591.5,82.1 591.9,81.4 592.4,80.7 592.9,80.0 593.3,79.3 593.8,78.6 594.3,77.9 594.7,77.3 595.2,76.6 595.6,76.0 596.1,75.3 596.6,74.7 597.0,74.1 597.5,73.4 598.0,72.8 598.4,72.2 598.9,71.6 599.4,71.1 599.8,70.5 600.3,69.9 600.8,69.3 601.2,68.8 601.7,68.2 602.2,67.7 602.6,67.2 603.1,66.7 603.5,66.1 604.0,65.6 604.5,65.1 604.9,64.6 605.4,64.2 605.9,63.7 606.3,63.2 606.8,62.7 607.3,62.3 607.7,61.8 608.2,61.4 608.7,60.9 609.1,60.5 609.6,60.1 610.1,59.7 610.5,59.2 611.0,58.8 611.4,58.4 611.9,58.0 612.4,57.6 612.8,57.3 613.3,56.9 613.8,56.5 614.2,56.1 614.7,55.8 615.2,55.4 615.6,55.1 616.1,54.7 616.6,54.4 617.0,54.1 617.5,53.7 618.0,53.4 618.4,53.1 618.9,52.8 619.3,52.5 619.8,52.2 620.3,51.9 620.7,51.6 621.2,51.3 621.7,51.0 622.1,50.7 622.6,50.4 623.1,50.2 623.5,49.9 624.0,49.6 624.5,49.4 624.9,49.1 625.4,48.9 625.9,48.6 626.3,48.4 626.8,48.1 627.2,47.9 627.7,47.7 628.2,47.4 628.6,47.2 629.1,47.0 629.6,46.8 630.0,46.6 630.5,46.3 631.0,46.1 631.4,45.9 631.9,45.7 632.4,45.5 632.8,45.3 633.3,45.2 633.8,45.0 634.2,44.8 634.7,44.6 635.1,44.4 635.6,44.3 636.1,44.1 636.5,43.9 637.0,43.8 637.5,43.6 637.9,43.4 638.4,43.3 638.9,43.1 639.3,43.0 639.8,42.8 640.3,42.7 640.7,42.5 641.2,42.4 641.7,42.3 642.1,42.1 642.6,42.0 643.0,41.9 643.5,41.7 644.0,41.6 644.4,41.5 644.9,41.4 645.4,41.3 645.8,41.1 646.3,41.0 646.8,40.9 647.2,40.8 647.7,40.7 648.2,40.6 648.6,40.5 649.1,40.4 649.5,40.3 650.0,40.2 650.5,40.1 650.9,40.0 651.4,39.9 651.9,39.8 652.3,39.8 652.8,39.7 653.3,39.6 653.7,39.5 654.2,39.4 654.7,39.4 655.1,39.3 655.6,39.2 656.1,39.1 656.5,39.1 657.0,39.0 657.4,38.9 657.9,38.9 658.4,38.8 658.8,38.7 659.3,38.7 659.8,38.6 660.2,38.6 660.7,38.5 661.2,38.5 661.6,38.4 662.1,38.4 662.6,38.3 663.0,38.3 663.5,38.2 664.0,38.2 664.4,38.1 664.9,38.1 665.3,38.1 665.8,38.0 666.3,38.0 666.7,38.0 667.2,37.9 667.7,37.9 668.1,37.9 668.6,37.8 669.1,37.8 669.5,37.8 670.0,37.8 670.5,37.7 670.9,37.7 671.4,37.7 671.9,37.7 672.3,37.6 672.8,37.6 673.2,37.6 673.7,37.6 674.2,37.6 674.6,37.6 675.1,37.5 675.6,37.5 676.0,37.5 676.5,37.5 677.0,37.5 677.4,37.5 677.9,37.5 678.4,37.5 678.8,37.5 679.3,37.5 679.8,37.5 680.2,37.5 680.7,37.5 681.1,37.5 681.6,37.5 682.1,37.5 682.5,37.5 683.0,37.5 683.5,37.5 683.9,37.5 684.4,37.5"/>
<polyline class="c" stroke-width="1.4" stroke="#1c9ef8" points="405.6,37.5 406.1,37.5 406.5,37.5 407.0,37.5 407.5,37.5 407.9,37.5 408.4,37.5 408.9,37.5 409.3,37.5 409.8,37.5 410.2,37.5 410.7,37.5 411.2,37.5 411.6,37.5 412.1,37.5 412.6,37.5 413.0,37.6 413.5,37.6 414.0,37.6 414.4,37.6 414.9,37.6 415.4,37.6 415.8,37.6 416.3,37.7 416.8,37.7 417.2,37.7 417.7,37.7 418.1,37.7 418.6,37.8 419.1,37.8 419.5,37.8 420.0,37.9 420.5,37.9 420.9,37.9 421.4,37.9 421.9,38.0 422.3,38.0 422.8,38.1 423.3,38.1 423.7,38.1 424.2,38.2 424.7,38.2 425.1,38.3 425.6,38.3 426.0,38.3 426.5,38.4 427.0,38.4 427.4,38.5 427.9,38.6 428.4,38.6 428.8,38.7 429.3,38.7 429.8,38.8 430.2,38.8 430.7,38.9 431.2,39.0 431.6,39.0 432.1,39.1 432.6,39.2 433.0,39.3 433.5,39.3 433.9,39.4 434.4,39.5 434.9,39.6 435.3,39.6 435.8,39.7 436.3,39.8 436.7,39.9 437.2,40.0 437.7,40.1 438.1,40.2 438.6,40.3 439.1,40.4 439.5,40.5 440.0,40.6 440.5,40.7 440.9,40.8 441.4,40.9 441.8,41.0 442.3,41.1 442.8,41.3 443.2,41.4 443.7,41.5 444.2,41.6 444.6,41.8 445.1,41.9 445.6,42.0 446.0,42.2 446.5,42.3 447.0,42.4 447.4,42.6 447.9,42.7 448.3,42.9 448.8,43.0 449.3,43.2 449.7,43.3 450.2,43.5 450.7,43.7 451.1,43.8 451.6,44.0 452.1,44.2 452.5,44.4 453.0,44.5 453.5,44.7 453.9,44.9 454.4,45.1 454.9,45.3 455.3,45.5 455.8,45.7 456.2,45.9 456.7,46.1 457.2,46.3 457.6,46.5 458.1,46.8 458.6,47.0 459.0,47.2 459.5,47.5 460.0,47.7 460.4,47.9 460.9,48.2 461.4,48.4 461.8,48.7 462.3,48.9 462.8,49.2 463.2,49.5 463.7,49.7 464.1,50.0 464.6,50.3 465.1,50.6 465.5,50.9 466.0,51.2 466.5,51.5 466.9,51.8 467.4,52.1 467.9,52.4 468.3,52.7 468.8,53.1 469.3,53.4 469.7,53.8 470.2,54.1 470.7,54.5 471.1,54.8 471.6,55.2 472.0,55.5 472.5,55.9 473.0,56.3 473.4,56.7 473.9,57.1 474.4,57.5 474.8,57.9 475.3,58.3 475.8,58.7 476.2,59.2 476.7,59.6 477.2,60.1 477.6,60.5 478.1,61.0 478.6,61.4 479.0,61.9 479.5,62.4 479.9,62.9 480.4,63.4 480.9,63.9 481.3,64.4 481.8,64.9 482.3,65.5 482.7,66.0 483.2,66.5 483.7,67.1 484.1,67.7 484.6,68.2 485.1,68.8 485.5,69.4 486.0,70.0 486.5,70.6 486.9,71.3 487.4,71.9 487.8,72.5 488.3,73.2 488.8,73.9 489.2,74.5 489.7,75.2 490.2,75.9 490.6,76.6 491.1,77.3 491.6,78.1 492.0,78.8 492.5,79.5 493.0,80.3 493.4,81.1 493.9,81.9 494.4,82.6 494.8,83.5 495.3,84.3 495.7,85.1 496.2,85.9 496.7,86.8 497.1,87.7 497.6,88.5 498.1,89.4 498.5,90.3 499.0,91.2 499.5,92.1 499.9,93.1 500.4,94.0 500.9,95.0 501.3,95.9 501.8,96.9 502.3,97.9 502.7,98.9 503.2,99.9 503.6,100.9 504.1,102.0 504.6,103.0 505.0,104.0 505.5,105.1 506.0,106.2 506.4,107.2 506.9,108.3 507.4,109.4 507.8,110.5 508.3,111.6 508.8,112.7 509.2,113.8 509.7,114.9 510.1,116.0 510.6,117.1 511.1,118.2 511.5,119.4 512.0,120.5 512.5,121.6 512.9,122.7 513.4,123.8 513.9,124.8 514.3,125.9 514.8,127.0 515.3,128.0 515.7,129.0 516.2,130.1 516.7,131.0 517.1,132.0 517.6,132.9 518.0,133.9 518.5,134.7 519.0,135.6 519.4,136.4 519.9,137.1 520.4,137.9 520.8,138.5 521.3,139.1 521.8,139.7 522.2,140.2 522.7,140.6 523.2,141.0 523.6,141.3 524.1,141.5 524.6,141.6 525.0,141.6 525.5,141.6 525.9,141.4 526.4,141.2 526.9,140.8 527.3,140.3 527.8,139.7 528.3,139.0 528.7,138.2 529.2,137.2 529.7,136.2 530.1,135.0 530.6,133.6 531.1,132.1 531.5,130.5 532.0,128.8 532.5,126.9 532.9,124.9 533.4,122.8 533.8,120.6 534.3,118.3 534.8,115.8 535.2,113.3 535.7,110.7 536.2,108.1 536.6,105.4 537.1,102.6 537.6,99.9 538.0,97.1 538.5,94.4 539.0,91.7 539.4,89.1 539.9,86.6 540.4,84.2 540.8,82.0 541.3,79.9 541.7,78.0 542.2,76.4 542.7,74.9 543.1,73.7 543.6,72.7 544.1,72.0 544.5,71.6 545.0,71.5 545.5,71.6 545.9,72.0 546.4,72.7 546.9,73.7 547.3,74.9 547.8,76.4 548.3,78.0 548.7,79.9 549.2,82.0 549.6,84.2 550.1,86.6 550.6,89.1 551.0,91.7 551.5,94.4 552.0,97.1 552.4,99.9 552.9,102.6 553.4,105.4 553.8,108.1 554.3,110.7 554.8,113.3 555.2,115.8 555.7,118.3 556.2,120.6 556.6,122.8 557.1,124.9 557.5,126.9 558.0,128.8 558.5,130.5 558.9,132.1 559.4,133.6 559.9,135.0 560.3,136.2 560.8,137.2 561.3,138.2 561.7,139.0 562.2,139.7 562.7,140.3 563.1,140.8 563.6,141.2 564.1,141.4 564.5,141.6 565.0,141.6 565.4,141.6 565.9,141.5 566.4,141.3 566.8,141.0 567.3,140.6 567.8,140.2 568.2,139.7 568.7,139.1 569.2,138.5 569.6,137.9 570.1,137.1 570.6,136.4 571.0,135.6 571.5,134.7 572.0,133.9 572.4,132.9 572.9,132.0 573.3,131.0 573.8,130.1 574.3,129.0 574.7,128.0 575.2,127.0 575.7,125.9 576.1,124.8 576.6,123.8 577.1,122.7 577.5,121.6 578.0,120.5 578.5,119.4 578.9,118.2 579.4,117.1 579.9,116.0 580.3,114.9 580.8,113.8 581.2,112.7 581.7,111.6 582.2,110.5 582.6,109.4 583.1,108.3 583.6,107.2 584.0,106.2 584.5,105.1 585.0,104.0 585.4,103.0 585.9,102.0 586.4,100.9 586.8,99.9 587.3,98.9 587.7,97.9 588.2,96.9 588.7,95.9 589.1,95.0 589.6,94.0 590.1,93.1 590.5,92.1 591.0,91.2 591.5,90.3 591.9,89.4 592.4,88.5 592.9,87.7 593.3,86.8 593.8,85.9 594.3,85.1 594.7,84.3 595.2,83.5 595.6,82.6 596.1,81.9 596.6,81.1 597.0,80.3 597.5,79.5 598.0,78.8 598.4,78.1 598.9,77.3 599.4,76.6 599.8,75.9 600.3,75.2 600.8,74.5 601.2,73.9 601.7,73.2 602.2,72.5 602.6,71.9 603.1,71.3 603.5,70.6 604.0,70.0 604.5,69.4 604.9,68.8 605.4,68.2 605.9,67.7 606.3,67.1 606.8,66.5 607.3,66.0 607.7,65.5 608.2,64.9 608.7,64.4 609.1,63.9 609.6,63.4 610.1,62.9 610.5,62.4 611.0,61.9 611.4,61.4 611.9,61.0 612.4,60.5 612.8,60.1 613.3,59.6 613.8,59.2 614.2,58.7 614.7,58.3 615.2,57.9 615.6,57.5 616.1,57.1 616.6,56.7 617.0,56.3 617.5,55.9 618.0,55.5 618.4,55.2 618.9,54.8 619.3,54.5 619.8,54.1 620.3,53.8 620.7,53.4 621.2,53.1 621.7,52.7 622.1,52.4 622.6,52.1 623.1,51.8 623.5,51.5 624.0,51.2 624.5,50.9 624.9,50.6 625.4,50.3 625.9,50.0 626.3,49.7 626.8,49.5 627.2,49.2 627.7,48.9 628.2,48.7 628.6,48.4 629.1,48.2 629.6,47.9 630.0,47.7 630.5,47.5 631.0,47.2 631.4,47.0 631.9,46.8 632.4,46.5 632.8,46.3 633.3,46.1 633.8,45.9 634.2,45.7 634.7,45.5 635.1,45.3 635.6,45.1 636.1,44.9 636.5,44.7 637.0,44.5 637.5,44.4 637.9,44.2 638.4,44.0 638.9,43.8 639.3,43.7 639.8,43.5 640.3,43.3 640.7,43.2 641.2,43.0 641.7,42.9 642.1,42.7 642.6,42.6 643.0,42.4 643.5,42.3 644.0,42.2 644.4,42.0 644.9,41.9 645.4,41.8 645.8,41.6 646.3,41.5 646.8,41.4 647.2,41.3 647.7,41.1 648.2,41.0 648.6,40.9 649.1,40.8 649.5,40.7 650.0,40.6 650.5,40.5 650.9,40.4 651.4,40.3 651.9,40.2 652.3,40.1 652.8,40.0 653.3,39.9 653.7,39.8 654.2,39.7 654.7,39.6 655.1,39.6 655.6,39.5 656.1,39.4 656.5,39.3 657.0,39.3 657.4,39.2 657.9,39.1 658.4,39.0 658.8,39.0 659.3,38.9 659.8,38.8 660.2,38.8 660.7,38.7 661.2,38.7 661.6,38.6 662.1,38.6 662.6,38.5 663.0,38.4 663.5,38.4 664.0,38.3 664.4,38.3 664.9,38.3 665.3,38.2 665.8,38.2 666.3,38.1 666.7,38.1 667.2,38.1 667.7,38.0 668.1,38.0 668.6,37.9 669.1,37.9 669.5,37.9 670.0,37.9 670.5,37.8 670.9,37.8 671.4,37.8 671.9,37.7 672.3,37.7 672.8,37.7 673.2,37.7 673.7,37.7 674.2,37.6 674.6,37.6 675.1,37.6 675.6,37.6 676.0,37.6 676.5,37.6 677.0,37.6 677.4,37.5 677.9,37.5 678.4,37.5 678.8,37.5 679.3,37.5 679.8,37.5 680.2,37.5 680.7,37.5 681.1,37.5 681.6,37.5 682.1,37.5 682.5,37.5 683.0,37.5 683.5,37.5 683.9,37.5 684.4,37.5"/>
<polyline class="c" stroke-width="1.4" stroke="#15cb88" points="405.6,37.6 406.1,37.6 406.5,37.6 407.0,37.6 407.5,37.6 407.9,37.6 408.4,37.6 408.9,37.6 409.3,37.6 409.8,37.6 410.2,37.6 410.7,37.6 411.2,37.6 411.6,37.6 412.1,37.6 412.6,37.6 413.0,37.7 413.5,37.7 414.0,37.7 414.4,37.7 414.9,37.7 415.4,37.8 415.8,37.8 416.3,37.8 416.8,37.8 417.2,37.9 417.7,37.9 418.1,37.9 418.6,37.9 419.1,38.0 419.5,38.0 420.0,38.0 420.5,38.1 420.9,38.1 421.4,38.2 421.9,38.2 422.3,38.2 422.8,38.3 423.3,38.3 423.7,38.4 424.2,38.4 424.7,38.5 425.1,38.5 425.6,38.6 426.0,38.7 426.5,38.7 427.0,38.8 427.4,38.8 427.9,38.9 428.4,39.0 428.8,39.0 429.3,39.1 429.8,39.2 430.2,39.2 430.7,39.3 431.2,39.4 431.6,39.5 432.1,39.6 432.6,39.6 433.0,39.7 433.5,39.8 433.9,39.9 434.4,40.0 434.9,40.1 435.3,40.2 435.8,40.3 436.3,40.4 436.7,40.5 437.2,40.6 437.7,40.7 438.1,40.8 438.6,41.0 439.1,41.1 439.5,41.2 440.0,41.3 440.5,41.4 440.9,41.6 441.4,41.7 441.8,41.8 442.3,42.0 442.8,42.1 443.2,42.3 443.7,42.4 444.2,42.5 444.6,42.7 445.1,42.9 445.6,43.0 446.0,43.2 446.5,43.3 447.0,43.5 447.4,43.7 447.9,43.9 448.3,44.0 448.8,44.2 449.3,44.4 449.7,44.6 450.2,44.8 450.7,45.0 451.1,45.2 451.6,45.4 452.1,45.6 452.5,45.8 453.0,46.1 453.5,46.3 453.9,46.5 454.4,46.7 454.9,47.0 455.3,47.2 455.8,47.5 456.2,47.7 456.7,48.0 457.2,48.2 457.6,48.5 458.1,48.8 458.6,49.0 459.0,49.3 459.5,49.6 460.0,49.9 460.4,50.2 460.9,50.5 461.4,50.8 461.8,51.1 462.3,51.4 462.8,51.8 463.2,52.1 463.7,52.4 464.1,52.8 464.6,53.1 465.1,53.5 465.5,53.9 466.0,54.2 466.5,54.6 466.9,55.0 467.4,55.4 467.9,55.8 468.3,56.2 468.8,56.6 469.3,57.0 469.7,57.5 470.2,57.9 470.7,58.4 471.1,58.8 471.6,59.3 472.0,59.7 472.5,60.2 473.0,60.7 473.4,61.2 473.9,61.7 474.4,62.2 474.8,62.8 475.3,63.3 475.8,63.9 476.2,64.4 476.7,65.0 477.2,65.6 477.6,66.2 478.1,66.8 478.6,67.4 479.0,68.0 479.5,68.6 479.9,69.3 480.4,69.9 480.9,70.6 481.3,71.3 481.8,72.0 482.3,72.7 482.7,73.4 483.2,74.1 483.7,74.9 484.1,75.6 484.6,76.4 485.1,77.2 485.5,78.0 486.0,78.8 486.5,79.6 486.9,80.4 487.4,81.3 487.8,82.2 488.3,83.0 488.8,83.9 489.2,84.8 489.7,85.8 490.2,86.7 490.6,87.6 491.1,88.6 491.6,89.6 492.0,90.6 492.5,91.6 493.0,92.6 493.4,93.7 493.9,94.7 494.4,95.8 494.8,96.9 495.3,98.0 495.7,99.1 496.2,100.2 496.7,101.3 497.1,102.4 497.6,103.6 498.1,104.8 498.5,105.9 499.0,107.1 499.5,108.3 499.9,109.5 500.4,110.7 500.9,111.9 501.3,113.1 501.8,114.4 502.3,115.6 502.7,116.8 503.2,118.0 503.6,119.2 504.1,120.5 504.6,121.7 505.0,122.8 505.5,124.0 506.0,125.2 506.4,126.4 506.9,127.5 507.4,128.6 507.8,129.7 508.3,130.8 508.8,131.8 509.2,132.8 509.7,133.7 510.1,134.7 510.6,135.5 511.1,136.4 511.5,137.1 512.0,137.9 512.5,138.5 512.9,139.1 513.4,139.6 513.9,140.1 514.3,140.5 514.8,140.8 515.3,141.0 515.7,141.1 516.2,141.2 516.7,141.1 517.1,141.0 517.6,140.7 518.0,140.4 518.5,140.0 519.0,139.4 519.4,138.8 519.9,138.0 520.4,137.2 520.8,136.2 521.3,135.1 521.8,134.0 522.2,132.7 522.7,131.3 523.2,129.9 523.6,128.3 524.1,126.7 524.6,124.9 525.0,123.1 525.5,121.3 525.9,119.3 526.4,117.3 526.9,115.3 527.3,113.2 527.8,111.0 528.3,108.8 528.7,106.6 529.2,104.4 529.7,102.1 530.1,99.9 530.6,97.6 531.1,95.3 531.5,93.1 532.0,90.9 532.5,88.7 532.9,86.5 533.4,84.4 533.8,82.3 534.3,80.3 534.8,78.3 535.2,76.4 535.7,74.5 536.2,72.8 536.6,71.0 537.1,69.4 537.6,67.8 538.0,66.4 538.5,65.0 539.0,63.6 539.4,62.4 539.9,61.3 540.4,60.3 540.8,59.3 541.3,58.5 541.7,57.7 542.2,57.1 542.7,56.5 543.1,56.0 543.6,55.7 544.1,55.4 544.5,55.3 545.0,55.2 545.5,55.3 545.9,55.4 546.4,55.7 546.9,56.0 547.3,56.5 547.8,57.1 548.3,57.7 548.7,58.5 549.2,59.3 549.6,60.3 550.1,61.3 550.6,62.4 551.0,63.6 551.5,65.0 552.0,66.4 552.4,67.8 552.9,69.4 553.4,71.0 553.8,72.8 554.3,74.5 554.8,76.4 555.2,78.3 555.7,80.3 556.2,82.3 556.6,84.4 557.1,86.5 557.5,88.7 558.0,90.9 558.5,93.1 558.9,95.3 559.4,97.6 559.9,99.9 560.3,102.1 560.8,104.4 561.3,106.6 561.7,108.8 562.2,111.0 562.7,113.2 563.1,115.3 563.6,117.3 564.1,119.3 564.5,121.3 565.0,123.1 565.4,124.9 565.9,126.7 566.4,128.3 566.8,129.9 567.3,131.3 567.8,132.7 568.2,134.0 568.7,135.1 569.2,136.2 569.6,137.2 570.1,138.0 570.6,138.8 571.0,139.4 571.5,140.0 572.0,140.4 572.4,140.7 572.9,141.0 573.3,141.1 573.8,141.2 574.3,141.1 574.7,141.0 575.2,140.8 575.7,140.5 576.1,140.1 576.6,139.6 577.1,139.1 577.5,138.5 578.0,137.9 578.5,137.1 578.9,136.4 579.4,135.5 579.9,134.7 580.3,133.7 580.8,132.8 581.2,131.8 581.7,130.8 582.2,129.7 582.6,128.6 583.1,127.5 583.6,126.4 584.0,125.2 584.5,124.0 585.0,122.8 585.4,121.7 585.9,120.5 586.4,119.2 586.8,118.0 587.3,116.8 587.7,115.6 588.2,114.4 588.7,113.1 589.1,111.9 589.6,110.7 590.1,109.5 590.5,108.3 591.0,107.1 591.5,105.9 591.9,104.8 592.4,103.6 592.9,102.4 593.3,101.3 593.8,100.2 594.3,99.1 594.7,98.0 595.2,96.9 595.6,95.8 596.1,94.7 596.6,93.7 597.0,92.6 597.5,91.6 598.0,90.6 598.4,89.6 598.9,88.6 599.4,87.6 599.8,86.7 600.3,85.8 600.8,84.8 601.2,83.9 601.7,83.0 602.2,82.2 602.6,81.3 603.1,80.4 603.5,79.6 604.0,78.8 604.5,78.0 604.9,77.2 605.4,76.4 605.9,75.6 606.3,74.9 606.8,74.1 607.3,73.4 607.7,72.7 608.2,72.0 608.7,71.3 609.1,70.6 609.6,69.9 610.1,69.3 610.5,68.6 611.0,68.0 611.4,67.4 611.9,66.8 612.4,66.2 612.8,65.6 613.3,65.0 613.8,64.4 614.2,63.9 614.7,63.3 615.2,62.8 615.6,62.2 616.1,61.7 616.6,61.2 617.0,60.7 617.5,60.2 618.0,59.7 618.4,59.3 618.9,58.8 619.3,58.4 619.8,57.9 620.3,57.5 620.7,57.0 621.2,56.6 621.7,56.2 622.1,55.8 622.6,55.4 623.1,55.0 623.5,54.6 624.0,54.2 624.5,53.9 624.9,53.5 625.4,53.1 625.9,52.8 626.3,52.4 626.8,52.1 627.2,51.8 627.7,51.4 628.2,51.1 628.6,50.8 629.1,50.5 629.6,50.2 630.0,49.9 630.5,49.6 631.0,49.3 631.4,49.0 631.9,48.8 632.4,48.5 632.8,48.2 633.3,48.0 633.8,47.7 634.2,47.5 634.7,47.2 635.1,47.0 635.6,46.7 636.1,46.5 636.5,46.3 637.0,46.1 637.5,45.8 637.9,45.6 638.4,45.4 638.9,45.2 639.3,45.0 639.8,44.8 640.3,44.6 640.7,44.4 641.2,44.2 641.7,44.0 642.1,43.9 642.6,43.7 643.0,43.5 643.5,43.3 644.0,43.2 644.4,43.0 644.9,42.9 645.4,42.7 645.8,42.5 646.3,42.4 646.8,42.3 647.2,42.1 647.7,42.0 648.2,41.8 648.6,41.7 649.1,41.6 649.5,41.4 650.0,41.3 650.5,41.2 650.9,41.1 651.4,41.0 651.9,40.8 652.3,40.7 652.8,40.6 653.3,40.5 653.7,40.4 654.2,40.3 654.7,40.2 655.1,40.1 655.6,40.0 656.1,39.9 656.5,39.8 657.0,39.7 657.4,39.6 657.9,39.6 658.4,39.5 658.8,39.4 659.3,39.3 659.8,39.2 660.2,39.2 660.7,39.1 661.2,39.0 661.6,39.0 662.1,38.9 662.6,38.8 663.0,38.8 663.5,38.7 664.0,38.7 664.4,38.6 664.9,38.5 665.3,38.5 665.8,38.4 666.3,38.4 666.7,38.3 667.2,38.3 667.7,38.2 668.1,38.2 668.6,38.2 669.1,38.1 669.5,38.1 670.0,38.0 670.5,38.0 670.9,38.0 671.4,37.9 671.9,37.9 672.3,37.9 672.8,37.9 673.2,37.8 673.7,37.8 674.2,37.8 674.6,37.8 675.1,37.7 675.6,37.7 676.0,37.7 676.5,37.7 677.0,37.7 677.4,37.6 677.9,37.6 678.4,37.6 678.8,37.6 679.3,37.6 679.8,37.6 680.2,37.6 680.7,37.6 681.1,37.6 681.6,37.6 682.1,37.6 682.5,37.6 683.0,37.6 683.5,37.6 683.9,37.6 684.4,37.6"/>
<polyline class="c" stroke-width="1.4" stroke="#f6923d" points="405.6,37.6 406.1,37.6 406.5,37.6 407.0,37.6 407.5,37.6 407.9,37.7 408.4,37.7 408.9,37.7 409.3,37.7 409.8,37.7 410.2,37.7 410.7,37.7 411.2,37.7 411.6,37.8 412.1,37.8 412.6,37.8 413.0,37.8 413.5,37.9 414.0,37.9 414.4,37.9 414.9,37.9 415.4,38.0 415.8,38.0 416.3,38.0 416.8,38.1 417.2,38.1 417.7,38.2 418.1,38.2 418.6,38.2 419.1,38.3 419.5,38.3 420.0,38.4 420.5,38.4 420.9,38.5 421.4,38.5 421.9,38.6 422.3,38.6 422.8,38.7 423.3,38.8 423.7,38.8 424.2,38.9 424.7,38.9 425.1,39.0 425.6,39.1 426.0,39.2 426.5,39.2 427.0,39.3 427.4,39.4 427.9,39.5 428.4,39.6 428.8,39.6 429.3,39.7 429.8,39.8 430.2,39.9 430.7,40.0 431.2,40.1 431.6,40.2 432.1,40.3 432.6,40.4 433.0,40.5 433.5,40.7 433.9,40.8 434.4,40.9 434.9,41.0 435.3,41.1 435.8,41.3 436.3,41.4 436.7,41.5 437.2,41.7 437.7,41.8 438.1,41.9 438.6,42.1 439.1,42.2 439.5,42.4 440.0,42.5 440.5,42.7 440.9,42.9 441.4,43.0 441.8,43.2 442.3,43.4 442.8,43.6 443.2,43.7 443.7,43.9 444.2,44.1 444.6,44.3 445.1,44.5 445.6,44.7 446.0,44.9 446.5,45.1 447.0,45.4 447.4,45.6 447.9,45.8 448.3,46.0 448.8,46.3 449.3,46.5 449.7,46.8 450.2,47.0 450.7,47.3 451.1,47.5 451.6,47.8 452.1,48.1 452.5,48.4 453.0,48.6 453.5,48.9 453.9,49.2 454.4,49.5 454.9,49.9 455.3,50.2 455.8,50.5 456.2,50.8 456.7,51.2 457.2,51.5 457.6,51.9 458.1,52.2 458.6,52.6 459.0,53.0 459.5,53.3 460.0,53.7 460.4,54.1 460.9,54.5 461.4,55.0 461.8,55.4 462.3,55.8 462.8,56.2 463.2,56.7 463.7,57.2 464.1,57.6 464.6,58.1 465.1,58.6 465.5,59.1 466.0,59.6 466.5,60.1 466.9,60.6 467.4,61.2 467.9,61.7 468.3,62.3 468.8,62.9 469.3,63.5 469.7,64.1 470.2,64.7 470.7,65.3 471.1,65.9 471.6,66.6 472.0,67.2 472.5,67.9 473.0,68.6 473.4,69.3 473.9,70.0 474.4,70.8 474.8,71.5 475.3,72.3 475.8,73.0 476.2,73.8 476.7,74.6 477.2,75.5 477.6,76.3 478.1,77.1 478.6,78.0 479.0,78.9 479.5,79.8 479.9,80.7 480.4,81.7 480.9,82.6 481.3,83.6 481.8,84.6 482.3,85.6 482.7,86.6 483.2,87.6 483.7,88.7 484.1,89.8 484.6,90.8 485.1,91.9 485.5,93.1 486.0,94.2 486.5,95.4 486.9,96.5 487.4,97.7 487.8,98.9 488.3,100.1 488.8,101.4 489.2,102.6 489.7,103.9 490.2,105.1 490.6,106.4 491.1,107.7 491.6,109.0 492.0,110.3 492.5,111.6 493.0,112.9 493.4,114.2 493.9,115.5 494.4,116.8 494.8,118.1 495.3,119.4 495.7,120.7 496.2,122.0 496.7,123.2 497.1,124.5 497.6,125.7 498.1,126.9 498.5,128.1 499.0,129.3 499.5,130.4 499.9,131.5 500.4,132.5 500.9,133.5 501.3,134.5 501.8,135.4 502.3,136.3 502.7,137.1 503.2,137.8 503.6,138.5 504.1,139.1 504.6,139.6 505.0,140.0 505.5,140.4 506.0,140.7 506.4,140.9 506.9,141.0 507.4,141.0 507.8,140.9 508.3,140.8 508.8,140.5 509.2,140.1 509.7,139.7 510.1,139.1 510.6,138.5 511.1,137.7 511.5,136.9 512.0,136.0 512.5,134.9 512.9,133.8 513.4,132.6 513.9,131.4 514.3,130.0 514.8,128.6 515.3,127.1 515.7,125.5 516.2,123.9 516.7,122.2 517.1,120.5 517.6,118.7 518.0,116.9 518.5,115.1 519.0,113.2 519.4,111.3 519.9,109.4 520.4,107.5 520.8,105.5 521.3,103.6 521.8,101.6 522.2,99.7 522.7,97.8 523.2,95.8 523.6,93.9 524.1,92.0 524.6,90.2 525.0,88.3 525.5,86.5 525.9,84.7 526.4,83.0 526.9,81.2 527.3,79.5 527.8,77.9 528.3,76.3 528.7,74.7 529.2,73.2 529.7,71.7 530.1,70.3 530.6,68.9 531.1,67.5 531.5,66.2 532.0,64.9 532.5,63.7 532.9,62.5 533.4,61.4 533.8,60.3 534.3,59.3 534.8,58.3 535.2,57.4 535.7,56.5 536.2,55.6 536.6,54.8 537.1,54.1 537.6,53.3 538.0,52.7 538.5,52.0 539.0,51.5 539.4,50.9 539.9,50.4 540.4,50.0 540.8,49.6 541.3,49.2 541.7,48.9 542.2,48.6 542.7,48.4 543.1,48.2 543.6,48.0 544.1,47.9 544.5,47.9 545.0,47.9 545.5,47.9 545.9,47.9 546.4,48.0 546.9,48.2 547.3,48.4 547.8,48.6 548.3,48.9 548.7,49.2 549.2,49.6 549.6,50.0 550.1,50.4 550.6,50.9 551.0,51.5 551.5,52.0 552.0,52.7 552.4,53.3 552.9,54.1 553.4,54.8 553.8,55.6 554.3,56.5 554.8,57.4 555.2,58.3 555.7,59.3 556.2,60.3 556.6,61.4 557.1,62.5 557.5,63.7 558.0,64.9 558.5,66.2 558.9,67.5 559.4,68.9 559.9,70.3 560.3,71.7 560.8,73.2 561.3,74.7 561.7,76.3 562.2,77.9 562.7,79.5 563.1,81.2 563.6,83.0 564.1,84.7 564.5,86.5 565.0,88.3 565.4,90.2 565.9,92.0 566.4,93.9 566.8,95.8 567.3,97.8 567.8,99.7 568.2,101.6 568.7,103.6 569.2,105.5 569.6,107.5 570.1,109.4 570.6,111.3 571.0,113.2 571.5,115.1 572.0,116.9 572.4,118.7 572.9,120.5 573.3,122.2 573.8,123.9 574.3,125.5 574.7,127.1 575.2,128.6 575.7,130.0 576.1,131.4 576.6,132.6 577.1,133.8 577.5,134.9 578.0,136.0 578.5,136.9 578.9,137.7 579.4,138.5 579.9,139.1 580.3,139.7 580.8,140.1 581.2,140.5 581.7,140.8 582.2,140.9 582.6,141.0 583.1,141.0 583.6,140.9 584.0,140.7 584.5,140.4 585.0,140.0 585.4,139.6 585.9,139.1 586.4,138.5 586.8,137.8 587.3,137.1 587.7,136.3 588.2,135.4 588.7,134.5 589.1,133.5 589.6,132.5 590.1,131.5 590.5,130.4 591.0,129.3 591.5,128.1 591.9,126.9 592.4,125.7 592.9,124.5 593.3,123.2 593.8,122.0 594.3,120.7 594.7,119.4 595.2,118.1 595.6,116.8 596.1,115.5 596.6,114.2 597.0,112.9 597.5,111.6 598.0,110.3 598.4,109.0 598.9,107.7 599.4,106.4 599.8,105.1 600.3,103.9 600.8,102.6 601.2,101.4 601.7,100.1 602.2,98.9 602.6,97.7 603.1,96.5 603.5,95.4 604.0,94.2 604.5,93.1 604.9,91.9 605.4,90.8 605.9,89.8 606.3,88.7 606.8,87.6 607.3,86.6 607.7,85.6 608.2,84.6 608.7,83.6 609.1,82.6 609.6,81.7 610.1,80.7 610.5,79.8 611.0,78.9 611.4,78.0 611.9,77.1 612.4,76.3 612.8,75.5 613.3,74.6 613.8,73.8 614.2,73.0 614.7,72.3 615.2,71.5 615.6,70.8 616.1,70.0 616.6,69.3 617.0,68.6 617.5,67.9 618.0,67.2 618.4,66.6 618.9,65.9 619.3,65.3 619.8,64.7 620.3,64.1 620.7,63.5 621.2,62.9 621.7,62.3 622.1,61.7 622.6,61.2 623.1,60.6 623.5,60.1 624.0,59.6 624.5,59.1 624.9,58.6 625.4,58.1 625.9,57.6 626.3,57.2 626.8,56.7 627.2,56.2 627.7,55.8 628.2,55.4 628.6,55.0 629.1,54.5 629.6,54.1 630.0,53.7 630.5,53.3 631.0,53.0 631.4,52.6 631.9,52.2 632.4,51.9 632.8,51.5 633.3,51.2 633.8,50.8 634.2,50.5 634.7,50.2 635.1,49.9 635.6,49.5 636.1,49.2 636.5,48.9 637.0,48.6 637.5,48.4 637.9,48.1 638.4,47.8 638.9,47.5 639.3,47.3 639.8,47.0 640.3,46.8 640.7,46.5 641.2,46.3 641.7,46.0 642.1,45.8 642.6,45.6 643.0,45.4 643.5,45.1 644.0,44.9 644.4,44.7 644.9,44.5 645.4,44.3 645.8,44.1 646.3,43.9 646.8,43.7 647.2,43.6 647.7,43.4 648.2,43.2 648.6,43.0 649.1,42.9 649.5,42.7 650.0,42.5 650.5,42.4 650.9,42.2 651.4,42.1 651.9,41.9 652.3,41.8 652.8,41.7 653.3,41.5 653.7,41.4 654.2,41.3 654.7,41.1 655.1,41.0 655.6,40.9 656.1,40.8 656.5,40.7 657.0,40.5 657.4,40.4 657.9,40.3 658.4,40.2 658.8,40.1 659.3,40.0 659.8,39.9 660.2,39.8 660.7,39.7 661.2,39.6 661.6,39.6 662.1,39.5 662.6,39.4 663.0,39.3 663.5,39.2 664.0,39.2 664.4,39.1 664.9,39.0 665.3,38.9 665.8,38.9 666.3,38.8 666.7,38.8 667.2,38.7 667.7,38.6 668.1,38.6 668.6,38.5 669.1,38.5 669.5,38.4 670.0,38.4 670.5,38.3 670.9,38.3 671.4,38.2 671.9,38.2 672.3,38.2 672.8,38.1 673.2,38.1 673.7,38.0 674.2,38.0 674.6,38.0 675.1,37.9 675.6,37.9 676.0,37.9 676.5,37.9 677.0,37.8 677.4,37.8 677.9,37.8 678.4,37.8 678.8,37.7 679.3,37.7 679.8,37.7 680.2,37.7 680.7,37.7 681.1,37.7 681.6,37.7 682.1,37.7 682.5,37.6 683.0,37.6 683.5,37.6 683.9,37.6 684.4,37.6"/>
<polyline class="c" stroke-width="1.4" stroke="#f0148e" points="405.6,37.8 406.1,37.8 406.5,37.8 407.0,37.8 407.5,37.8 407.9,37.8 408.4,37.8 408.9,37.9 409.3,37.9 409.8,37.9 410.2,37.9 410.7,38.0 411.2,38.0 411.6,38.0 412.1,38.1 412.6,38.1 413.0,38.1 413.5,38.2 414.0,38.2 414.4,38.3 414.9,38.3 415.4,38.4 415.8,38.4 416.3,38.4 416.8,38.5 417.2,38.6 417.7,38.6 418.1,38.7 418.6,38.7 419.1,38.8 419.5,38.9 420.0,38.9 420.5,39.0 420.9,39.1 421.4,39.1 421.9,39.2 422.3,39.3 422.8,39.4 423.3,39.5 423.7,39.5 424.2,39.6 424.7,39.7 425.1,39.8 425.6,39.9 426.0,40.0 426.5,40.1 427.0,40.2 427.4,40.3 427.9,40.4 428.4,40.5 428.8,40.7 429.3,40.8 429.8,40.9 430.2,41.0 430.7,41.2 431.2,41.3 431.6,41.4 432.1,41.6 432.6,41.7 433.0,41.9 433.5,42.0 433.9,42.2 434.4,42.3 434.9,42.5 435.3,42.7 435.8,42.8 436.3,43.0 436.7,43.2 437.2,43.4 437.7,43.6 438.1,43.8 438.6,44.0 439.1,44.2 439.5,44.4 440.0,44.6 440.5,44.8 440.9,45.0 441.4,45.3 441.8,45.5 442.3,45.7 442.8,46.0 443.2,46.2 443.7,46.5 444.2,46.7 444.6,47.0 445.1,47.3 445.6,47.6 446.0,47.9 446.5,48.1 447.0,48.4 447.4,48.8 447.9,49.1 448.3,49.4 448.8,49.7 449.3,50.1 449.7,50.4 450.2,50.8 450.7,51.1 451.1,51.5 451.6,51.9 452.1,52.3 452.5,52.7 453.0,53.1 453.5,53.5 453.9,53.9 454.4,54.3 454.9,54.8 455.3,55.2 455.8,55.7 456.2,56.2 456.7,56.6 457.2,57.1 457.6,57.6 458.1,58.2 458.6,58.7 459.0,59.2 459.5,59.8 460.0,60.3 460.4,60.9 460.9,61.5 461.4,62.1 461.8,62.7 462.3,63.4 462.8,64.0 463.2,64.7 463.7,65.3 464.1,66.0 464.6,66.7 465.1,67.5 465.5,68.2 466.0,68.9 466.5,69.7 466.9,70.5 467.4,71.3 467.9,72.1 468.3,73.0 468.8,73.8 469.3,74.7 469.7,75.6 470.2,76.5 470.7,77.4 471.1,78.4 471.6,79.3 472.0,80.3 472.5,81.3 473.0,82.3 473.4,83.4 473.9,84.4 474.4,85.5 474.8,86.6 475.3,87.7 475.8,88.9 476.2,90.0 476.7,91.2 477.2,92.4 477.6,93.6 478.1,94.8 478.6,96.1 479.0,97.4 479.5,98.6 479.9,99.9 480.4,101.2 480.9,102.6 481.3,103.9 481.8,105.3 482.3,106.6 482.7,108.0 483.2,109.4 483.7,110.7 484.1,112.1 484.6,113.5 485.1,114.9 485.5,116.3 486.0,117.7 486.5,119.0 486.9,120.4 487.4,121.7 487.8,123.1 488.3,124.4 488.8,125.7 489.2,126.9 489.7,128.1 490.2,129.3 490.6,130.5 491.1,131.6 491.6,132.7 492.0,133.7 492.5,134.7 493.0,135.6 493.4,136.5 493.9,137.3 494.4,138.0 494.8,138.6 495.3,139.2 495.7,139.7 496.2,140.1 496.7,140.5 497.1,140.7 497.6,140.9 498.1,140.9 498.5,140.9 499.0,140.8 499.5,140.6 499.9,140.3 500.4,139.9 500.9,139.4 501.3,138.8 501.8,138.1 502.3,137.4 502.7,136.5 503.2,135.6 503.6,134.6 504.1,133.5 504.6,132.3 505.0,131.1 505.5,129.8 506.0,128.4 506.4,127.0 506.9,125.5 507.4,124.0 507.8,122.5 508.3,120.8 508.8,119.2 509.2,117.5 509.7,115.9 510.1,114.1 510.6,112.4 511.1,110.7 511.5,108.9 512.0,107.2 512.5,105.4 512.9,103.6 513.4,101.9 513.9,100.1 514.3,98.4 514.8,96.7 515.3,95.0 515.7,93.3 516.2,91.6 516.7,90.0 517.1,88.4 517.6,86.8 518.0,85.2 518.5,83.7 519.0,82.1 519.4,80.7 519.9,79.2 520.4,77.8 520.8,76.4 521.3,75.0 521.8,73.7 522.2,72.4 522.7,71.2 523.2,69.9 523.6,68.7 524.1,67.6 524.6,66.4 525.0,65.3 525.5,64.3 525.9,63.2 526.4,62.2 526.9,61.3 527.3,60.3 527.8,59.4 528.3,58.5 528.7,57.7 529.2,56.9 529.7,56.1 530.1,55.3 530.6,54.6 531.1,53.9 531.5,53.2 532.0,52.6 532.5,51.9 532.9,51.3 533.4,50.8 533.8,50.2 534.3,49.7 534.8,49.2 535.2,48.7 535.7,48.3 536.2,47.9 536.6,47.5 537.1,47.1 537.6,46.7 538.0,46.4 538.5,46.1 539.0,45.8 539.4,45.5 539.9,45.3 540.4,45.1 540.8,44.9 541.3,44.7 541.7,44.5 542.2,44.4 542.7,44.3 543.1,44.2 543.6,44.1 544.1,44.1 544.5,44.0 545.0,44.0 545.5,44.0 545.9,44.1 546.4,44.1 546.9,44.2 547.3,44.3 547.8,44.4 548.3,44.5 548.7,44.7 549.2,44.9 549.6,45.1 550.1,45.3 550.6,45.5 551.0,45.8 551.5,46.1 552.0,46.4 552.4,46.7 552.9,47.1 553.4,47.5 553.8,47.9 554.3,48.3 554.8,48.7 555.2,49.2 555.7,49.7 556.2,50.2 556.6,50.8 557.1,51.3 557.5,51.9 558.0,52.6 558.5,53.2 558.9,53.9 559.4,54.6 559.9,55.3 560.3,56.1 560.8,56.9 561.3,57.7 561.7,58.5 562.2,59.4 562.7,60.3 563.1,61.3 563.6,62.2 564.1,63.2 564.5,64.3 565.0,65.3 565.4,66.4 565.9,67.6 566.4,68.7 566.8,69.9 567.3,71.2 567.8,72.4 568.2,73.7 568.7,75.0 569.2,76.4 569.6,77.8 570.1,79.2 570.6,80.7 571.0,82.1 571.5,83.7 572.0,85.2 572.4,86.8 572.9,88.4 573.3,90.0 573.8,91.6 574.3,93.3 574.7,95.0 575.2,96.7 575.7,98.4 576.1,100.1 576.6,101.9 577.1,103.6 577.5,105.4 578.0,107.2 578.5,108.9 578.9,110.7 579.4,112.4 579.9,114.1 580.3,115.9 580.8,117.5 581.2,119.2 581.7,120.8 582.2,122.5 582.6,124.0 583.1,125.5 583.6,127.0 584.0,128.4 584.5,129.8 585.0,131.1 585.4,132.3 585.9,133.5 586.4,134.6 586.8,135.6 587.3,136.5 587.7,137.4 588.2,138.1 588.7,138.8 589.1,139.4 589.6,139.9 590.1,140.3 590.5,140.6 591.0,140.8 591.5,140.9 591.9,140.9 592.4,140.9 592.9,140.7 593.3,140.5 593.8,140.1 594.3,139.7 594.7,139.2 595.2,138.6 595.6,138.0 596.1,137.3 596.6,136.5 597.0,135.6 597.5,134.7 598.0,133.7 598.4,132.7 598.9,131.6 599.4,130.5 599.8,129.3 600.3,128.1 600.8,126.9 601.2,125.7 601.7,124.4 602.2,123.1 602.6,121.7 603.1,120.4 603.5,119.0 604.0,117.7 604.5,116.3 604.9,114.9 605.4,113.5 605.9,112.1 606.3,110.7 606.8,109.4 607.3,108.0 607.7,106.6 608.2,105.3 608.7,103.9 609.1,102.6 609.6,101.2 610.1,99.9 610.5,98.6 611.0,97.4 611.4,96.1 611.9,94.8 612.4,93.6 612.8,92.4 613.3,91.2 613.8,90.0 614.2,88.9 614.7,87.7 615.2,86.6 615.6,85.5 616.1,84.4 616.6,83.4 617.0,82.3 617.5,81.3 618.0,80.3 618.4,79.3 618.9,78.4 619.3,77.4 619.8,76.5 620.3,75.6 620.7,74.7 621.2,73.8 621.7,73.0 622.1,72.1 622.6,71.3 623.1,70.5 623.5,69.7 624.0,68.9 624.5,68.2 624.9,67.5 625.4,66.7 625.9,66.0 626.3,65.3 626.8,64.7 627.2,64.0 627.7,63.4 628.2,62.7 628.6,62.1 629.1,61.5 629.6,60.9 630.0,60.3 630.5,59.8 631.0,59.2 631.4,58.7 631.9,58.2 632.4,57.6 632.8,57.1 633.3,56.6 633.8,56.2 634.2,55.7 634.7,55.2 635.1,54.8 635.6,54.3 636.1,53.9 636.5,53.5 637.0,53.1 637.5,52.7 637.9,52.3 638.4,51.9 638.9,51.5 639.3,51.1 639.8,50.8 640.3,50.4 640.7,50.1 641.2,49.7 641.7,49.4 642.1,49.1 642.6,48.8 643.0,48.4 643.5,48.1 644.0,47.9 644.4,47.6 644.9,47.3 645.4,47.0 645.8,46.7 646.3,46.5 646.8,46.2 647.2,46.0 647.7,45.7 648.2,45.5 648.6,45.3 649.1,45.0 649.5,44.8 650.0,44.6 650.5,44.4 650.9,44.2 651.4,44.0 651.9,43.8 652.3,43.6 652.8,43.4 653.3,43.2 653.7,43.0 654.2,42.8 654.7,42.7 655.1,42.5 655.6,42.3 656.1,42.2 656.5,42.0 657.0,41.9 657.4,41.7 657.9,41.6 658.4,41.4 658.8,41.3 659.3,41.2 659.8,41.0 660.2,40.9 660.7,40.8 661.2,40.7 661.6,40.5 662.1,40.4 662.6,40.3 663.0,40.2 663.5,40.1 664.0,40.0 664.4,39.9 664.9,39.8 665.3,39.7 665.8,39.6 666.3,39.5 666.7,39.5 667.2,39.4 667.7,39.3 668.1,39.2 668.6,39.1 669.1,39.1 669.5,39.0 670.0,38.9 670.5,38.9 670.9,38.8 671.4,38.7 671.9,38.7 672.3,38.6 672.8,38.6 673.2,38.5 673.7,38.4 674.2,38.4 674.6,38.4 675.1,38.3 675.6,38.3 676.0,38.2 676.5,38.2 677.0,38.1 677.4,38.1 677.9,38.1 678.4,38.0 678.8,38.0 679.3,38.0 679.8,37.9 680.2,37.9 680.7,37.9 681.1,37.9 681.6,37.8 682.1,37.8 682.5,37.8 683.0,37.8 683.5,37.8 683.9,37.8 684.4,37.8"/>
</g>
<g clip-path="url(#c11)">
<polyline class="c" stroke-width="1.4" stroke="#2d49fa" points="405.6,242.0 406.1,242.2 406.5,242.3 407.0,242.5 407.5,242.7 407.9,242.9 408.4,243.1 408.9,243.3 409.3,243.5 409.8,243.7 410.2,243.9 410.7,244.1 411.2,244.4 411.6,244.6 412.1,244.8 412.6,245.0 413.0,245.2 413.5,245.4 414.0,245.6 414.4,245.8 414.9,246.0 415.4,246.2 415.8,246.4 416.3,246.6 416.8,246.8 417.2,247.1 417.7,247.3 418.1,247.5 418.6,247.7 419.1,247.9 419.5,248.1 420.0,248.3 420.5,248.6 420.9,248.8 421.4,249.0 421.9,249.2 422.3,249.4 422.8,249.7 423.3,249.9 423.7,250.1 424.2,250.3 424.7,250.6 425.1,250.8 425.6,251.0 426.0,251.2 426.5,251.5 427.0,251.7 427.4,251.9 427.9,252.1 428.4,252.4 428.8,252.6 429.3,252.8 429.8,253.1 430.2,253.3 430.7,253.5 431.2,253.8 431.6,254.0 432.1,254.2 432.6,254.5 433.0,254.7 433.5,254.9 433.9,255.2 434.4,255.4 434.9,255.7 435.3,255.9 435.8,256.1 436.3,256.4 436.7,256.6 437.2,256.9 437.7,257.1 438.1,257.4 438.6,257.6 439.1,257.9 439.5,258.1 440.0,258.4 440.5,258.6 440.9,258.9 441.4,259.1 441.8,259.4 442.3,259.6 442.8,259.9 443.2,260.1 443.7,260.4 444.2,260.6 444.6,260.9 445.1,261.1 445.6,261.4 446.0,261.7 446.5,261.9 447.0,262.2 447.4,262.4 447.9,262.7 448.3,263.0 448.8,263.2 449.3,263.5 449.7,263.7 450.2,264.0 450.7,264.3 451.1,264.5 451.6,264.8 452.1,265.1 452.5,265.3 453.0,265.6 453.5,265.9 453.9,266.1 454.4,266.4 454.9,266.7 455.3,267.0 455.8,267.2 456.2,267.5 456.7,267.8 457.2,268.0 457.6,268.3 458.1,268.6 458.6,268.9 459.0,269.1 459.5,269.4 460.0,269.7 460.4,270.0 460.9,270.2 461.4,270.5 461.8,270.8 462.3,271.1 462.8,271.4 463.2,271.6 463.7,271.9 464.1,272.2 464.6,272.5 465.1,272.8 465.5,273.0 466.0,273.3 466.5,273.6 466.9,273.9 467.4,274.2 467.9,274.4 468.3,274.7 468.8,275.0 469.3,275.3 469.7,275.6 470.2,275.8 470.7,276.1 471.1,276.4 471.6,276.7 472.0,277.0 472.5,277.2 473.0,277.5 473.4,277.8 473.9,278.1 474.4,278.4 474.8,278.6 475.3,278.9 475.8,279.2 476.2,279.5 476.7,279.8 477.2,280.0 477.6,280.3 478.1,280.6 478.6,280.8 479.0,281.1 479.5,281.4 479.9,281.7 480.4,281.9 480.9,282.2 481.3,282.5 481.8,282.7 482.3,283.0 482.7,283.2 483.2,283.5 483.7,283.8 484.1,284.0 484.6,284.3 485.1,284.5 485.5,284.8 486.0,285.0 486.5,285.3 486.9,285.5 487.4,285.7 487.8,286.0 488.3,286.2 488.8,286.5 489.2,286.7 489.7,286.9 490.2,287.1 490.6,287.3 491.1,287.6 491.6,287.8 492.0,288.0 492.5,288.2 493.0,288.4 493.4,288.6 493.9,288.8 494.4,288.9 494.8,289.1 495.3,289.3 495.7,289.5 496.2,289.6 496.7,289.8 497.1,289.9 497.6,290.1 498.1,290.2 498.5,290.4 499.0,290.5 499.5,290.6 499.9,290.7 500.4,290.8 500.9,290.9 501.3,291.0 501.8,291.1 502.3,291.1 502.7,291.2 503.2,291.2 503.6,291.3 504.1,291.3 504.6,291.3 505.0,291.3 505.5,291.3 506.0,291.3 506.4,291.3 506.9,291.3 507.4,291.2 507.8,291.2 508.3,291.1 508.8,291.0 509.2,290.9 509.7,290.8 510.1,290.7 510.6,290.5 511.1,290.3 511.5,290.2 512.0,290.0 512.5,289.8 512.9,289.5 513.4,289.3 513.9,289.0 514.3,288.7 514.8,288.4 515.3,288.1 515.7,287.8 516.2,287.4 516.7,287.0 517.1,286.6 517.6,286.2 518.0,285.7 518.5,285.3 519.0,284.8 519.4,284.2 519.9,283.7 520.4,283.1 520.8,282.5 521.3,281.9 521.8,281.3 522.2,280.6 522.7,279.9 523.2,279.1 523.6,278.4 524.1,277.6 524.6,276.8 525.0,275.9 525.5,275.0 525.9,274.1 526.4,273.2 526.9,272.2 527.3,271.2 527.8,270.1 528.3,269.0 528.7,267.9 529.2,266.8 529.7,265.6 530.1,264.4 530.6,263.2 531.1,261.9 531.5,260.6 532.0,259.2 532.5,257.9 532.9,256.4 533.4,255.0 533.8,253.6 534.3,252.1 534.8,250.6 535.2,249.1 535.7,247.5 536.2,246.0 536.6,244.5 537.1,243.0 537.6,241.5 538.0,240.1 538.5,238.8 539.0,237.6 539.4,236.5 539.9,235.6 540.4,234.8 540.8,234.3 541.3,234.2 541.7,234.3 542.2,234.8 542.7,235.7 543.1,237.0 543.6,238.6 544.1,240.6 544.5,242.8 545.0,245.1 545.5,247.3 545.9,249.5 546.4,251.5 546.9,253.1 547.3,254.4 547.8,255.3 548.3,255.8 548.7,255.9 549.2,255.8 549.6,255.3 550.1,254.5 550.6,253.6 551.0,252.5 551.5,251.3 552.0,250.0 552.4,248.6 552.9,247.1 553.4,245.6 553.8,244.1 554.3,242.6 554.8,241.0 555.2,239.5 555.7,238.0 556.2,236.5 556.6,235.1 557.1,233.7 557.5,232.2 558.0,230.9 558.5,229.5 558.9,228.2 559.4,226.9 559.9,225.7 560.3,224.5 560.8,223.3 561.3,222.2 561.7,221.1 562.2,220.0 562.7,218.9 563.1,217.9 563.6,216.9 564.1,216.0 564.5,215.1 565.0,214.2 565.4,213.3 565.9,212.5 566.4,211.7 566.8,211.0 567.3,210.2 567.8,209.5 568.2,208.8 568.7,208.2 569.2,207.6 569.6,207.0 570.1,206.4 570.6,205.9 571.0,205.3 571.5,204.8 572.0,204.4 572.4,203.9 572.9,203.5 573.3,203.1 573.8,202.7 574.3,202.3 574.7,202.0 575.2,201.7 575.7,201.4 576.1,201.1 576.6,200.8 577.1,200.6 577.5,200.3 578.0,200.1 578.5,199.9 578.9,199.8 579.4,199.6 579.9,199.4 580.3,199.3 580.8,199.2 581.2,199.1 581.7,199.0 582.2,198.9 582.6,198.9 583.1,198.8 583.6,198.8 584.0,198.8 584.5,198.8 585.0,198.8 585.4,198.8 585.9,198.8 586.4,198.8 586.8,198.9 587.3,198.9 587.7,199.0 588.2,199.0 588.7,199.1 589.1,199.2 589.6,199.3 590.1,199.4 590.5,199.5 591.0,199.6 591.5,199.7 591.9,199.9 592.4,200.0 592.9,200.2 593.3,200.3 593.8,200.5 594.3,200.6 594.7,200.8 595.2,201.0 595.6,201.2 596.1,201.3 596.6,201.5 597.0,201.7 597.5,201.9 598.0,202.1 598.4,202.3 598.9,202.5 599.4,202.8 599.8,203.0 600.3,203.2 600.8,203.4 601.2,203.6 601.7,203.9 602.2,204.1 602.6,204.4 603.1,204.6 603.5,204.8 604.0,205.1 604.5,205.3 604.9,205.6 605.4,205.8 605.9,206.1 606.3,206.3 606.8,206.6 607.3,206.9 607.7,207.1 608.2,207.4 608.7,207.6 609.1,207.9 609.6,208.2 610.1,208.4 610.5,208.7 611.0,209.0 611.4,209.3 611.9,209.5 612.4,209.8 612.8,210.1 613.3,210.3 613.8,210.6 614.2,210.9 614.7,211.2 615.2,211.5 615.6,211.7 616.1,212.0 616.6,212.3 617.0,212.6 617.5,212.9 618.0,213.1 618.4,213.4 618.9,213.7 619.3,214.0 619.8,214.3 620.3,214.5 620.7,214.8 621.2,215.1 621.7,215.4 622.1,215.7 622.6,215.9 623.1,216.2 623.5,216.5 624.0,216.8 624.5,217.1 624.9,217.3 625.4,217.6 625.9,217.9 626.3,218.2 626.8,218.5 627.2,218.7 627.7,219.0 628.2,219.3 628.6,219.6 629.1,219.9 629.6,220.1 630.0,220.4 630.5,220.7 631.0,221.0 631.4,221.2 631.9,221.5 632.4,221.8 632.8,222.1 633.3,222.3 633.8,222.6 634.2,222.9 634.7,223.1 635.1,223.4 635.6,223.7 636.1,224.0 636.5,224.2 637.0,224.5 637.5,224.8 637.9,225.0 638.4,225.3 638.9,225.6 639.3,225.8 639.8,226.1 640.3,226.4 640.7,226.6 641.2,226.9 641.7,227.1 642.1,227.4 642.6,227.7 643.0,227.9 643.5,228.2 644.0,228.4 644.4,228.7 644.9,229.0 645.4,229.2 645.8,229.5 646.3,229.7 646.8,230.0 647.2,230.2 647.7,230.5 648.2,230.7 648.6,231.0 649.1,231.2 649.5,231.5 650.0,231.7 650.5,232.0 650.9,232.2 651.4,232.5 651.9,232.7 652.3,233.0 652.8,233.2 653.3,233.5 653.7,233.7 654.2,234.0 654.7,234.2 655.1,234.4 655.6,234.7 656.1,234.9 656.5,235.2 657.0,235.4 657.4,235.6 657.9,235.9 658.4,236.1 658.8,236.3 659.3,236.6 659.8,236.8 660.2,237.0 660.7,237.3 661.2,237.5 661.6,237.7 662.1,238.0 662.6,238.2 663.0,238.4 663.5,238.6 664.0,238.9 664.4,239.1 664.9,239.3 665.3,239.5 665.8,239.8 666.3,240.0 666.7,240.2 667.2,240.4 667.7,240.7 668.1,240.9 668.6,241.1 669.1,241.3 669.5,241.5 670.0,241.8 670.5,242.0 670.9,242.2 671.4,242.4 671.9,242.6 672.3,242.8 672.8,243.0 673.2,243.3 673.7,243.5 674.2,243.7 674.6,243.9 675.1,244.1 675.6,244.3 676.0,244.5 676.5,244.7 677.0,244.9 677.4,245.1 677.9,245.3 678.4,245.5 678.8,245.7 679.3,246.0 679.8,246.2 680.2,246.4 680.7,246.6 681.1,246.8 681.6,247.0 682.1,247.2 682.5,247.4 683.0,247.6 683.5,247.8 683.9,247.9 684.4,248.1"/>
<polyline class="c" stroke-width="1.4" stroke="#1c9ef8" points="405.6,242.3 406.1,242.5 406.5,242.7 407.0,242.9 407.5,243.1 407.9,243.3 408.4,243.5 408.9,243.7 409.3,243.9 409.8,244.2 410.2,244.4 410.7,244.6 411.2,244.8 411.6,245.0 412.1,245.2 412.6,245.4 413.0,245.6 413.5,245.8 414.0,246.0 414.4,246.2 414.9,246.5 415.4,246.7 415.8,246.9 416.3,247.1 416.8,247.3 417.2,247.5 417.7,247.8 418.1,248.0 418.6,248.2 419.1,248.4 419.5,248.6 420.0,248.9 420.5,249.1 420.9,249.3 421.4,249.5 421.9,249.8 422.3,250.0 422.8,250.2 423.3,250.4 423.7,250.7 424.2,250.9 424.7,251.1 425.1,251.4 425.6,251.6 426.0,251.8 426.5,252.1 427.0,252.3 427.4,252.5 427.9,252.8 428.4,253.0 428.8,253.2 429.3,253.5 429.8,253.7 430.2,253.9 430.7,254.2 431.2,254.4 431.6,254.7 432.1,254.9 432.6,255.2 433.0,255.4 433.5,255.6 433.9,255.9 434.4,256.1 434.9,256.4 435.3,256.6 435.8,256.9 436.3,257.1 436.7,257.4 437.2,257.6 437.7,257.9 438.1,258.1 438.6,258.4 439.1,258.6 439.5,258.9 440.0,259.2 440.5,259.4 440.9,259.7 441.4,259.9 441.8,260.2 442.3,260.5 442.8,260.7 443.2,261.0 443.7,261.2 444.2,261.5 444.6,261.8 445.1,262.0 445.6,262.3 446.0,262.6 446.5,262.8 447.0,263.1 447.4,263.4 447.9,263.7 448.3,263.9 448.8,264.2 449.3,264.5 449.7,264.7 450.2,265.0 450.7,265.3 451.1,265.6 451.6,265.8 452.1,266.1 452.5,266.4 453.0,266.7 453.5,267.0 453.9,267.2 454.4,267.5 454.9,267.8 455.3,268.1 455.8,268.4 456.2,268.6 456.7,268.9 457.2,269.2 457.6,269.5 458.1,269.8 458.6,270.1 459.0,270.4 459.5,270.6 460.0,270.9 460.4,271.2 460.9,271.5 461.4,271.8 461.8,272.1 462.3,272.4 462.8,272.7 463.2,273.0 463.7,273.2 464.1,273.5 464.6,273.8 465.1,274.1 465.5,274.4 466.0,274.7 466.5,275.0 466.9,275.3 467.4,275.6 467.9,275.9 468.3,276.2 468.8,276.5 469.3,276.7 469.7,277.0 470.2,277.3 470.7,277.6 471.1,277.9 471.6,278.2 472.0,278.5 472.5,278.8 473.0,279.1 473.4,279.4 473.9,279.6 474.4,279.9 474.8,280.2 475.3,280.5 475.8,280.8 476.2,281.1 476.7,281.4 477.2,281.6 477.6,281.9 478.1,282.2 478.6,282.5 479.0,282.7 479.5,283.0 479.9,283.3 480.4,283.6 480.9,283.8 481.3,284.1 481.8,284.3 482.3,284.6 482.7,284.9 483.2,285.1 483.7,285.4 484.1,285.6 484.6,285.9 485.1,286.1 485.5,286.3 486.0,286.6 486.5,286.8 486.9,287.0 487.4,287.3 487.8,287.5 488.3,287.7 488.8,287.9 489.2,288.1 489.7,288.3 490.2,288.5 490.6,288.7 491.1,288.9 491.6,289.0 492.0,289.2 492.5,289.4 493.0,289.5 493.4,289.7 493.9,289.8 494.4,289.9 494.8,290.0 495.3,290.1 495.7,290.2 496.2,290.3 496.7,290.4 497.1,290.5 497.6,290.5 498.1,290.6 498.5,290.6 499.0,290.6 499.5,290.7 499.9,290.7 500.4,290.6 500.9,290.6 501.3,290.5 501.8,290.5 502.3,290.4 502.7,290.3 503.2,290.2 503.6,290.1 504.1,289.9 504.6,289.7 505.0,289.5 505.5,289.3 506.0,289.1 506.4,288.8 506.9,288.5 507.4,288.2 507.8,287.9 508.3,287.5 508.8,287.2 509.2,286.7 509.7,286.3 510.1,285.8 510.6,285.3 511.1,284.8 511.5,284.2 512.0,283.6 512.5,283.0 512.9,282.3 513.4,281.6 513.9,280.9 514.3,280.1 514.8,279.3 515.3,278.5 515.7,277.6 516.2,276.7 516.7,275.7 517.1,274.7 517.6,273.7 518.0,272.6 518.5,271.4 519.0,270.3 519.4,269.0 519.9,267.8 520.4,266.5 520.8,265.2 521.3,263.8 521.8,262.4 522.2,260.9 522.7,259.4 523.2,257.9 523.6,256.3 524.1,254.7 524.6,253.1 525.0,251.4 525.5,249.7 525.9,248.0 526.4,246.3 526.9,244.6 527.3,242.9 527.8,241.1 528.3,239.4 528.7,237.7 529.2,236.0 529.7,234.3 530.1,232.7 530.6,231.1 531.1,229.5 531.5,228.0 532.0,226.6 532.5,225.3 532.9,224.0 533.4,222.8 533.8,221.8 534.3,220.9 534.8,220.1 535.2,219.5 535.7,219.0 536.2,218.6 536.6,218.5 537.1,218.5 537.6,218.7 538.0,219.1 538.5,219.7 539.0,220.4 539.4,221.4 539.9,222.6 540.4,223.9 540.8,225.5 541.3,227.2 541.7,229.0 542.2,231.0 542.7,233.2 543.1,235.4 543.6,237.7 544.1,240.1 544.5,242.6 545.0,245.1 545.5,247.5 545.9,250.0 546.4,252.4 546.9,254.7 547.3,256.9 547.8,259.1 548.3,261.1 548.7,262.9 549.2,264.6 549.6,266.2 550.1,267.5 550.6,268.7 551.0,269.7 551.5,270.4 552.0,271.0 552.4,271.4 552.9,271.6 553.4,271.6 553.8,271.5 554.3,271.1 554.8,270.6 555.2,270.0 555.7,269.2 556.2,268.3 556.6,267.3 557.1,266.1 557.5,264.8 558.0,263.5 558.5,262.1 558.9,260.6 559.4,259.0 559.9,257.4 560.3,255.8 560.8,254.1 561.3,252.4 561.7,250.7 562.2,249.0 562.7,247.2 563.1,245.5 563.6,243.8 564.1,242.1 564.5,240.4 565.0,238.7 565.4,237.0 565.9,235.4 566.4,233.8 566.8,232.2 567.3,230.7 567.8,229.2 568.2,227.7 568.7,226.3 569.2,224.9 569.6,223.6 570.1,222.3 570.6,221.1 571.0,219.8 571.5,218.7 572.0,217.5 572.4,216.4 572.9,215.4 573.3,214.4 573.8,213.4 574.3,212.5 574.7,211.6 575.2,210.8 575.7,210.0 576.1,209.2 576.6,208.5 577.1,207.8 577.5,207.1 578.0,206.5 578.5,205.9 578.9,205.3 579.4,204.8 579.9,204.3 580.3,203.8 580.8,203.4 581.2,202.9 581.7,202.6 582.2,202.2 582.6,201.9 583.1,201.6 583.6,201.3 584.0,201.0 584.5,200.8 585.0,200.6 585.4,200.4 585.9,200.2 586.4,200.0 586.8,199.9 587.3,199.8 587.7,199.7 588.2,199.6 588.7,199.6 589.1,199.5 589.6,199.5 590.1,199.4 590.5,199.4 591.0,199.5 591.5,199.5 591.9,199.5 592.4,199.6 592.9,199.6 593.3,199.7 593.8,199.8 594.3,199.9 594.7,200.0 595.2,200.1 595.6,200.2 596.1,200.3 596.6,200.4 597.0,200.6 597.5,200.7 598.0,200.9 598.4,201.1 598.9,201.2 599.4,201.4 599.8,201.6 600.3,201.8 600.8,202.0 601.2,202.2 601.7,202.4 602.2,202.6 602.6,202.8 603.1,203.1 603.5,203.3 604.0,203.5 604.5,203.8 604.9,204.0 605.4,204.2 605.9,204.5 606.3,204.7 606.8,205.0 607.3,205.2 607.7,205.5 608.2,205.8 608.7,206.0 609.1,206.3 609.6,206.5 610.1,206.8 610.5,207.1 611.0,207.4 611.4,207.6 611.9,207.9 612.4,208.2 612.8,208.5 613.3,208.7 613.8,209.0 614.2,209.3 614.7,209.6 615.2,209.9 615.6,210.2 616.1,210.5 616.6,210.7 617.0,211.0 617.5,211.3 618.0,211.6 618.4,211.9 618.9,212.2 619.3,212.5 619.8,212.8 620.3,213.1 620.7,213.4 621.2,213.6 621.7,213.9 622.1,214.2 622.6,214.5 623.1,214.8 623.5,215.1 624.0,215.4 624.5,215.7 624.9,216.0 625.4,216.3 625.9,216.6 626.3,216.9 626.8,217.1 627.2,217.4 627.7,217.7 628.2,218.0 628.6,218.3 629.1,218.6 629.6,218.9 630.0,219.2 630.5,219.5 631.0,219.7 631.4,220.0 631.9,220.3 632.4,220.6 632.8,220.9 633.3,221.2 633.8,221.5 634.2,221.7 634.7,222.0 635.1,222.3 635.6,222.6 636.1,222.9 636.5,223.1 637.0,223.4 637.5,223.7 637.9,224.0 638.4,224.3 638.9,224.5 639.3,224.8 639.8,225.1 640.3,225.4 640.7,225.6 641.2,225.9 641.7,226.2 642.1,226.4 642.6,226.7 643.0,227.0 643.5,227.3 644.0,227.5 644.4,227.8 644.9,228.1 645.4,228.3 645.8,228.6 646.3,228.9 646.8,229.1 647.2,229.4 647.7,229.6 648.2,229.9 648.6,230.2 649.1,230.4 649.5,230.7 650.0,230.9 650.5,231.2 650.9,231.5 651.4,231.7 651.9,232.0 652.3,232.2 652.8,232.5 653.3,232.7 653.7,233.0 654.2,233.2 654.7,233.5 655.1,233.7 655.6,234.0 656.1,234.2 656.5,234.5 657.0,234.7 657.4,234.9 657.9,235.2 658.4,235.4 658.8,235.7 659.3,235.9 659.8,236.2 660.2,236.4 660.7,236.6 661.2,236.9 661.6,237.1 662.1,237.3 662.6,237.6 663.0,237.8 663.5,238.0 664.0,238.3 664.4,238.5 664.9,238.7 665.3,239.0 665.8,239.2 666.3,239.4 666.7,239.7 667.2,239.9 667.7,240.1 668.1,240.3 668.6,240.6 669.1,240.8 669.5,241.0 670.0,241.2 670.5,241.5 670.9,241.7 671.4,241.9 671.9,242.1 672.3,242.3 672.8,242.6 673.2,242.8 673.7,243.0 674.2,243.2 674.6,243.4 675.1,243.6 675.6,243.9 676.0,244.1 676.5,244.3 677.0,244.5 677.4,244.7 677.9,244.9 678.4,245.1 678.8,245.3 679.3,245.5 679.8,245.7 680.2,245.9 680.7,246.2 681.1,246.4 681.6,246.6 682.1,246.8 682.5,247.0 683.0,247.2 683.5,247.4 683.9,247.6 684.4,247.8"/>
<polyline class="c" stroke-width="1.4" stroke="#15cb88" points="405.6,243.0 406.1,243.2 406.5,243.4 407.0,243.6 407.5,243.8 407.9,244.0 408.4,244.2 408.9,244.4 409.3,244.7 409.8,244.9 410.2,245.1 410.7,245.3 411.2,245.5 411.6,245.7 412.1,245.9 412.6,246.2 413.0,246.4 413.5,246.6 414.0,246.8 414.4,247.0 414.9,247.3 415.4,247.5 415.8,247.7 416.3,247.9 416.8,248.2 417.2,248.4 417.7,248.6 418.1,248.8 418.6,249.1 419.1,249.3 419.5,249.5 420.0,249.8 420.5,250.0 420.9,250.2 421.4,250.5 421.9,250.7 422.3,250.9 422.8,251.2 423.3,251.4 423.7,251.6 424.2,251.9 424.7,252.1 425.1,252.4 425.6,252.6 426.0,252.8 426.5,253.1 427.0,253.3 427.4,253.6 427.9,253.8 428.4,254.1 428.8,254.3 429.3,254.6 429.8,254.8 430.2,255.1 430.7,255.3 431.2,255.6 431.6,255.8 432.1,256.1 432.6,256.3 433.0,256.6 433.5,256.9 433.9,257.1 434.4,257.4 434.9,257.6 435.3,257.9 435.8,258.2 436.3,258.4 436.7,258.7 437.2,259.0 437.7,259.2 438.1,259.5 438.6,259.8 439.1,260.0 439.5,260.3 440.0,260.6 440.5,260.8 440.9,261.1 441.4,261.4 441.8,261.7 442.3,261.9 442.8,262.2 443.2,262.5 443.7,262.8 444.2,263.1 444.6,263.3 445.1,263.6 445.6,263.9 446.0,264.2 446.5,264.5 447.0,264.8 447.4,265.0 447.9,265.3 448.3,265.6 448.8,265.9 449.3,266.2 449.7,266.5 450.2,266.8 450.7,267.1 451.1,267.4 451.6,267.7 452.1,268.0 452.5,268.3 453.0,268.6 453.5,268.9 453.9,269.2 454.4,269.4 454.9,269.7 455.3,270.0 455.8,270.4 456.2,270.7 456.7,271.0 457.2,271.3 457.6,271.6 458.1,271.9 458.6,272.2 459.0,272.5 459.5,272.8 460.0,273.1 460.4,273.4 460.9,273.7 461.4,274.0 461.8,274.3 462.3,274.6 462.8,274.9 463.2,275.2 463.7,275.5 464.1,275.9 464.6,276.2 465.1,276.5 465.5,276.8 466.0,277.1 466.5,277.4 466.9,277.7 467.4,278.0 467.9,278.3 468.3,278.6 468.8,278.9 469.3,279.2 469.7,279.5 470.2,279.8 470.7,280.1 471.1,280.5 471.6,280.8 472.0,281.0 472.5,281.3 473.0,281.6 473.4,281.9 473.9,282.2 474.4,282.5 474.8,282.8 475.3,283.1 475.8,283.4 476.2,283.7 476.7,283.9 477.2,284.2 477.6,284.5 478.1,284.8 478.6,285.0 479.0,285.3 479.5,285.5 479.9,285.8 480.4,286.1 480.9,286.3 481.3,286.5 481.8,286.8 482.3,287.0 482.7,287.2 483.2,287.4 483.7,287.7 484.1,287.9 484.6,288.1 485.1,288.2 485.5,288.4 486.0,288.6 486.5,288.8 486.9,288.9 487.4,289.1 487.8,289.2 488.3,289.3 488.8,289.4 489.2,289.6 489.7,289.6 490.2,289.7 490.6,289.8 491.1,289.8 491.6,289.9 492.0,289.9 492.5,289.9 493.0,289.9 493.4,289.9 493.9,289.8 494.4,289.7 494.8,289.6 495.3,289.5 495.7,289.4 496.2,289.3 496.7,289.1 497.1,288.9 497.6,288.7 498.1,288.4 498.5,288.1 499.0,287.8 499.5,287.5 499.9,287.1 500.4,286.7 500.9,286.3 501.3,285.8 501.8,285.3 502.3,284.8 502.7,284.2 503.2,283.6 503.6,283.0 504.1,282.3 504.6,281.5 505.0,280.8 505.5,280.0 506.0,279.1 506.4,278.2 506.9,277.3 507.4,276.3 507.8,275.2 508.3,274.2 508.8,273.0 509.2,271.9 509.7,270.6 510.1,269.4 510.6,268.1 511.1,266.7 511.5,265.3 512.0,263.9 512.5,262.4 512.9,260.9 513.4,259.3 513.9,257.7 514.3,256.1 514.8,254.5 515.3,252.8 515.7,251.1 516.2,249.3 516.7,247.6 517.1,245.8 517.6,244.1 518.0,242.3 518.5,240.5 519.0,238.7 519.4,237.0 519.9,235.3 520.4,233.5 520.8,231.8 521.3,230.2 521.8,228.6 522.2,227.0 522.7,225.5 523.2,224.0 523.6,222.6 524.1,221.2 524.6,220.0 525.0,218.8 525.5,217.6 525.9,216.6 526.4,215.6 526.9,214.8 527.3,214.0 527.8,213.3 528.3,212.7 528.7,212.2 529.2,211.9 529.7,211.6 530.1,211.4 530.6,211.3 531.1,211.3 531.5,211.4 532.0,211.6 532.5,211.9 532.9,212.3 533.4,212.8 533.8,213.3 534.3,214.0 534.8,214.7 535.2,215.6 535.7,216.5 536.2,217.4 536.6,218.5 537.1,219.6 537.6,220.8 538.0,222.0 538.5,223.3 539.0,224.6 539.4,226.0 539.9,227.4 540.4,228.9 540.8,230.4 541.3,232.0 541.7,233.5 542.2,235.1 542.7,236.7 543.1,238.4 543.6,240.0 544.1,241.7 544.5,243.4 545.0,245.1 545.5,246.7 545.9,248.4 546.4,250.1 546.9,251.7 547.3,253.4 547.8,255.0 548.3,256.6 548.7,258.1 549.2,259.7 549.6,261.2 550.1,262.7 550.6,264.1 551.0,265.5 551.5,266.8 552.0,268.1 552.4,269.3 552.9,270.5 553.4,271.6 553.8,272.7 554.3,273.6 554.8,274.5 555.2,275.4 555.7,276.1 556.2,276.8 556.6,277.3 557.1,277.8 557.5,278.2 558.0,278.5 558.5,278.7 558.9,278.8 559.4,278.8 559.9,278.7 560.3,278.5 560.8,278.2 561.3,277.9 561.7,277.4 562.2,276.8 562.7,276.1 563.1,275.3 563.6,274.5 564.1,273.5 564.5,272.5 565.0,271.3 565.4,270.1 565.9,268.9 566.4,267.5 566.8,266.1 567.3,264.6 567.8,263.1 568.2,261.5 568.7,259.9 569.2,258.3 569.6,256.6 570.1,254.8 570.6,253.1 571.0,251.4 571.5,249.6 572.0,247.8 572.4,246.0 572.9,244.3 573.3,242.5 573.8,240.8 574.3,239.0 574.7,237.3 575.2,235.6 575.7,234.0 576.1,232.4 576.6,230.8 577.1,229.2 577.5,227.7 578.0,226.2 578.5,224.8 578.9,223.4 579.4,222.0 579.9,220.7 580.3,219.5 580.8,218.2 581.2,217.1 581.7,215.9 582.2,214.9 582.6,213.8 583.1,212.8 583.6,211.9 584.0,211.0 584.5,210.1 585.0,209.3 585.4,208.6 585.9,207.8 586.4,207.1 586.8,206.5 587.3,205.9 587.7,205.3 588.2,204.8 588.7,204.3 589.1,203.8 589.6,203.4 590.1,203.0 590.5,202.6 591.0,202.3 591.5,202.0 591.9,201.7 592.4,201.4 592.9,201.2 593.3,201.0 593.8,200.8 594.3,200.7 594.7,200.6 595.2,200.5 595.6,200.4 596.1,200.3 596.6,200.2 597.0,200.2 597.5,200.2 598.0,200.2 598.4,200.2 598.9,200.3 599.4,200.3 599.8,200.4 600.3,200.5 600.8,200.5 601.2,200.7 601.7,200.8 602.2,200.9 602.6,201.0 603.1,201.2 603.5,201.3 604.0,201.5 604.5,201.7 604.9,201.9 605.4,202.0 605.9,202.2 606.3,202.4 606.8,202.7 607.3,202.9 607.7,203.1 608.2,203.3 608.7,203.6 609.1,203.8 609.6,204.0 610.1,204.3 610.5,204.6 611.0,204.8 611.4,205.1 611.9,205.3 612.4,205.6 612.8,205.9 613.3,206.2 613.8,206.4 614.2,206.7 614.7,207.0 615.2,207.3 615.6,207.6 616.1,207.9 616.6,208.2 617.0,208.5 617.5,208.8 618.0,209.1 618.4,209.3 618.9,209.6 619.3,210.0 619.8,210.3 620.3,210.6 620.7,210.9 621.2,211.2 621.7,211.5 622.1,211.8 622.6,212.1 623.1,212.4 623.5,212.7 624.0,213.0 624.5,213.3 624.9,213.6 625.4,213.9 625.9,214.2 626.3,214.6 626.8,214.9 627.2,215.2 627.7,215.5 628.2,215.8 628.6,216.1 629.1,216.4 629.6,216.7 630.0,217.0 630.5,217.3 631.0,217.6 631.4,217.9 631.9,218.2 632.4,218.5 632.8,218.8 633.3,219.1 633.8,219.4 634.2,219.7 634.7,220.1 635.1,220.4 635.6,220.7 636.1,220.9 636.5,221.2 637.0,221.5 637.5,221.8 637.9,222.1 638.4,222.4 638.9,222.7 639.3,223.0 639.8,223.3 640.3,223.6 640.7,223.9 641.2,224.2 641.7,224.5 642.1,224.8 642.6,225.1 643.0,225.3 643.5,225.6 644.0,225.9 644.4,226.2 644.9,226.5 645.4,226.8 645.8,227.0 646.3,227.3 646.8,227.6 647.2,227.9 647.7,228.2 648.2,228.4 648.6,228.7 649.1,229.0 649.5,229.3 650.0,229.5 650.5,229.8 650.9,230.1 651.4,230.3 651.9,230.6 652.3,230.9 652.8,231.1 653.3,231.4 653.7,231.7 654.2,231.9 654.7,232.2 655.1,232.5 655.6,232.7 656.1,233.0 656.5,233.2 657.0,233.5 657.4,233.8 657.9,234.0 658.4,234.3 658.8,234.5 659.3,234.8 659.8,235.0 660.2,235.3 660.7,235.5 661.2,235.8 661.6,236.0 662.1,236.3 662.6,236.5 663.0,236.8 663.5,237.0 664.0,237.3 664.4,237.5 664.9,237.7 665.3,238.0 665.8,238.2 666.3,238.5 666.7,238.7 667.2,238.9 667.7,239.2 668.1,239.4 668.6,239.6 669.1,239.9 669.5,240.1 670.0,240.3 670.5,240.6 670.9,240.8 671.4,241.0 671.9,241.3 672.3,241.5 672.8,241.7 673.2,241.9 673.7,242.2 674.2,242.4 674.6,242.6 675.1,242.8 675.6,243.1 676.0,243.3 676.5,243.5 677.0,243.7 677.4,243.9 677.9,244.2 678.4,244.4 678.8,244.6 679.3,244.8 679.8,245.0 680.2,245.2 680.7,245.4 681.1,245.7 681.6,245.9 682.1,246.1 682.5,246.3 683.0,246.5 683.5,246.7 683.9,246.9 684.4,247.1"/>
<polyline class="c" stroke-width="1.4" stroke="#f6923d" points="405.6,243.9 406.1,244.2 406.5,244.4 407.0,244.6 407.5,244.8 407.9,245.0 408.4,245.3 408.9,245.5 409.3,245.7 409.8,245.9 410.2,246.1 410.7,246.4 411.2,246.6 411.6,246.8 412.1,247.1 412.6,247.3 413.0,247.5 413.5,247.7 414.0,248.0 414.4,248.2 414.9,248.4 415.4,248.7 415.8,248.9 416.3,249.2 416.8,249.4 417.2,249.6 417.7,249.9 418.1,250.1 418.6,250.4 419.1,250.6 419.5,250.8 420.0,251.1 420.5,251.3 420.9,251.6 421.4,251.8 421.9,252.1 422.3,252.3 422.8,252.6 423.3,252.8 423.7,253.1 424.2,253.3 424.7,253.6 425.1,253.9 425.6,254.1 426.0,254.4 426.5,254.6 427.0,254.9 427.4,255.2 427.9,255.4 428.4,255.7 428.8,256.0 429.3,256.2 429.8,256.5 430.2,256.8 430.7,257.0 431.2,257.3 431.6,257.6 432.1,257.9 432.6,258.1 433.0,258.4 433.5,258.7 433.9,259.0 434.4,259.2 434.9,259.5 435.3,259.8 435.8,260.1 436.3,260.4 436.7,260.7 437.2,260.9 437.7,261.2 438.1,261.5 438.6,261.8 439.1,262.1 439.5,262.4 440.0,262.7 440.5,263.0 440.9,263.3 441.4,263.6 441.8,263.9 442.3,264.2 442.8,264.5 443.2,264.8 443.7,265.1 444.2,265.4 444.6,265.7 445.1,266.0 445.6,266.3 446.0,266.6 446.5,266.9 447.0,267.2 447.4,267.5 447.9,267.9 448.3,268.2 448.8,268.5 449.3,268.8 449.7,269.1 450.2,269.4 450.7,269.8 451.1,270.1 451.6,270.4 452.1,270.7 452.5,271.0 453.0,271.4 453.5,271.7 453.9,272.0 454.4,272.3 454.9,272.7 455.3,273.0 455.8,273.3 456.2,273.6 456.7,274.0 457.2,274.3 457.6,274.6 458.1,274.9 458.6,275.3 459.0,275.6 459.5,275.9 460.0,276.3 460.4,276.6 460.9,276.9 461.4,277.2 461.8,277.6 462.3,277.9 462.8,278.2 463.2,278.6 463.7,278.9 464.1,279.2 464.6,279.5 465.1,279.9 465.5,280.2 466.0,280.5 466.5,280.8 466.9,281.1 467.4,281.4 467.9,281.8 468.3,282.1 468.8,282.4 469.3,282.7 469.7,283.0 470.2,283.3 470.7,283.6 471.1,283.9 471.6,284.2 472.0,284.5 472.5,284.7 473.0,285.0 473.4,285.3 473.9,285.6 474.4,285.8 474.8,286.1 475.3,286.3 475.8,286.6 476.2,286.8 476.7,287.0 477.2,287.2 477.6,287.4 478.1,287.6 478.6,287.8 479.0,288.0 479.5,288.2 479.9,288.3 480.4,288.5 480.9,288.6 481.3,288.8 481.8,288.9 482.3,289.0 482.7,289.0 483.2,289.1 483.7,289.1 484.1,289.2 484.6,289.2 485.1,289.2 485.5,289.1 486.0,289.1 486.5,289.0 486.9,288.9 487.4,288.8 487.8,288.6 488.3,288.5 488.8,288.2 489.2,288.0 489.7,287.8 490.2,287.5 490.6,287.1 491.1,286.8 491.6,286.4 492.0,285.9 492.5,285.5 493.0,285.0 493.4,284.4 493.9,283.8 494.4,283.2 494.8,282.5 495.3,281.8 495.7,281.0 496.2,280.2 496.7,279.4 497.1,278.5 497.6,277.5 498.1,276.5 498.5,275.5 499.0,274.4 499.5,273.2 499.9,272.1 500.4,270.8 500.9,269.5 501.3,268.2 501.8,266.8 502.3,265.4 502.7,263.9 503.2,262.4 503.6,260.8 504.1,259.2 504.6,257.6 505.0,256.0 505.5,254.3 506.0,252.6 506.4,250.8 506.9,249.1 507.4,247.3 507.8,245.5 508.3,243.8 508.8,242.0 509.2,240.2 509.7,238.4 510.1,236.7 510.6,234.9 511.1,233.2 511.5,231.5 512.0,229.8 512.5,228.2 512.9,226.6 513.4,225.1 513.9,223.6 514.3,222.2 514.8,220.8 515.3,219.5 515.7,218.2 516.2,217.0 516.7,215.9 517.1,214.8 517.6,213.9 518.0,212.9 518.5,212.1 519.0,211.3 519.4,210.6 519.9,210.0 520.4,209.5 520.8,209.0 521.3,208.6 521.8,208.3 522.2,208.0 522.7,207.9 523.2,207.7 523.6,207.7 524.1,207.7 524.6,207.8 525.0,207.9 525.5,208.1 525.9,208.4 526.4,208.7 526.9,209.1 527.3,209.5 527.8,209.9 528.3,210.4 528.7,211.0 529.2,211.6 529.7,212.2 530.1,212.9 530.6,213.6 531.1,214.3 531.5,215.1 532.0,215.9 532.5,216.7 532.9,217.6 533.4,218.4 533.8,219.4 534.3,220.3 534.8,221.2 535.2,222.2 535.7,223.2 536.2,224.2 536.6,225.2 537.1,226.2 537.6,227.3 538.0,228.3 538.5,229.4 539.0,230.5 539.4,231.6 539.9,232.7 540.4,233.8 540.8,234.9 541.3,236.0 541.7,237.1 542.2,238.2 542.7,239.4 543.1,240.5 543.6,241.6 544.1,242.8 544.5,243.9 545.0,245.1 545.5,246.2 545.9,247.3 546.4,248.5 546.9,249.6 547.3,250.7 547.8,251.9 548.3,253.0 548.7,254.1 549.2,255.2 549.6,256.3 550.1,257.4 550.6,258.5 551.0,259.6 551.5,260.7 552.0,261.8 552.4,262.8 552.9,263.9 553.4,264.9 553.8,265.9 554.3,266.9 554.8,267.9 555.2,268.9 555.7,269.8 556.2,270.7 556.6,271.7 557.1,272.5 557.5,273.4 558.0,274.2 558.5,275.0 558.9,275.8 559.4,276.5 559.9,277.2 560.3,277.9 560.8,278.5 561.3,279.1 561.7,279.7 562.2,280.2 562.7,280.6 563.1,281.0 563.6,281.4 564.1,281.7 564.5,282.0 565.0,282.2 565.4,282.3 565.9,282.4 566.4,282.4 566.8,282.4 567.3,282.2 567.8,282.1 568.2,281.8 568.7,281.5 569.2,281.1 569.6,280.6 570.1,280.1 570.6,279.5 571.0,278.8 571.5,278.0 572.0,277.2 572.4,276.2 572.9,275.3 573.3,274.2 573.8,273.1 574.3,271.9 574.7,270.6 575.2,269.3 575.7,267.9 576.1,266.5 576.6,265.0 577.1,263.5 577.5,261.9 578.0,260.3 578.5,258.6 578.9,256.9 579.4,255.2 579.9,253.4 580.3,251.7 580.8,249.9 581.2,248.1 581.7,246.3 582.2,244.6 582.6,242.8 583.1,241.0 583.6,239.3 584.0,237.5 584.5,235.8 585.0,234.1 585.4,232.5 585.9,230.9 586.4,229.3 586.8,227.7 587.3,226.2 587.7,224.7 588.2,223.3 588.7,221.9 589.1,220.6 589.6,219.3 590.1,218.0 590.5,216.9 591.0,215.7 591.5,214.6 591.9,213.6 592.4,212.6 592.9,211.6 593.3,210.7 593.8,209.9 594.3,209.1 594.7,208.3 595.2,207.6 595.6,206.9 596.1,206.3 596.6,205.7 597.0,205.1 597.5,204.6 598.0,204.2 598.4,203.7 598.9,203.3 599.4,203.0 599.8,202.6 600.3,202.3 600.8,202.1 601.2,201.9 601.7,201.6 602.2,201.5 602.6,201.3 603.1,201.2 603.5,201.1 604.0,201.0 604.5,201.0 604.9,200.9 605.4,200.9 605.9,200.9 606.3,201.0 606.8,201.0 607.3,201.1 607.7,201.1 608.2,201.2 608.7,201.3 609.1,201.5 609.6,201.6 610.1,201.8 610.5,201.9 611.0,202.1 611.4,202.3 611.9,202.5 612.4,202.7 612.8,202.9 613.3,203.1 613.8,203.3 614.2,203.5 614.7,203.8 615.2,204.0 615.6,204.3 616.1,204.5 616.6,204.8 617.0,205.1 617.5,205.4 618.0,205.6 618.4,205.9 618.9,206.2 619.3,206.5 619.8,206.8 620.3,207.1 620.7,207.4 621.2,207.7 621.7,208.0 622.1,208.3 622.6,208.7 623.1,209.0 623.5,209.3 624.0,209.6 624.5,209.9 624.9,210.2 625.4,210.6 625.9,210.9 626.3,211.2 626.8,211.5 627.2,211.9 627.7,212.2 628.2,212.5 628.6,212.9 629.1,213.2 629.6,213.5 630.0,213.8 630.5,214.2 631.0,214.5 631.4,214.8 631.9,215.2 632.4,215.5 632.8,215.8 633.3,216.1 633.8,216.5 634.2,216.8 634.7,217.1 635.1,217.4 635.6,217.8 636.1,218.1 636.5,218.4 637.0,218.7 637.5,219.1 637.9,219.4 638.4,219.7 638.9,220.0 639.3,220.3 639.8,220.7 640.3,221.0 640.7,221.3 641.2,221.6 641.7,221.9 642.1,222.2 642.6,222.6 643.0,222.9 643.5,223.2 644.0,223.5 644.4,223.8 644.9,224.1 645.4,224.4 645.8,224.7 646.3,225.0 646.8,225.3 647.2,225.6 647.7,225.9 648.2,226.2 648.6,226.5 649.1,226.8 649.5,227.1 650.0,227.4 650.5,227.7 650.9,228.0 651.4,228.3 651.9,228.6 652.3,228.9 652.8,229.2 653.3,229.4 653.7,229.7 654.2,230.0 654.7,230.3 655.1,230.6 655.6,230.9 656.1,231.1 656.5,231.4 657.0,231.7 657.4,232.0 657.9,232.2 658.4,232.5 658.8,232.8 659.3,233.1 659.8,233.3 660.2,233.6 660.7,233.9 661.2,234.1 661.6,234.4 662.1,234.7 662.6,234.9 663.0,235.2 663.5,235.5 664.0,235.7 664.4,236.0 664.9,236.2 665.3,236.5 665.8,236.8 666.3,237.0 666.7,237.3 667.2,237.5 667.7,237.8 668.1,238.0 668.6,238.3 669.1,238.5 669.5,238.8 670.0,239.0 670.5,239.3 670.9,239.5 671.4,239.7 671.9,240.0 672.3,240.2 672.8,240.5 673.2,240.7 673.7,240.9 674.2,241.2 674.6,241.4 675.1,241.7 675.6,241.9 676.0,242.1 676.5,242.4 677.0,242.6 677.4,242.8 677.9,243.0 678.4,243.3 678.8,243.5 679.3,243.7 679.8,244.0 680.2,244.2 680.7,244.4 681.1,244.6 681.6,244.8 682.1,245.1 682.5,245.3 683.0,245.5 683.5,245.7 683.9,245.9 684.4,246.2"/>
<polyline class="c" stroke-width="1.4" stroke="#f0148e" points="405.6,245.3 406.1,245.5 406.5,245.7 407.0,246.0 407.5,246.2 407.9,246.4 408.4,246.7 408.9,246.9 409.3,247.1 409.8,247.4 410.2,247.6 410.7,247.9 411.2,248.1 411.6,248.4 412.1,248.6 412.6,248.8 413.0,249.1 413.5,249.3 414.0,249.6 414.4,249.8 414.9,250.1 415.4,250.3 415.8,250.6 416.3,250.9 416.8,251.1 417.2,251.4 417.7,251.6 418.1,251.9 418.6,252.2 419.1,252.4 419.5,252.7 420.0,252.9 420.5,253.2 420.9,253.5 421.4,253.8 421.9,254.0 422.3,254.3 422.8,254.6 423.3,254.8 423.7,255.1 424.2,255.4 424.7,255.7 425.1,256.0 425.6,256.2 426.0,256.5 426.5,256.8 427.0,257.1 427.4,257.4 427.9,257.7 428.4,258.0 428.8,258.3 429.3,258.5 429.8,258.8 430.2,259.1 430.7,259.4 431.2,259.7 431.6,260.0 432.1,260.3 432.6,260.6 433.0,260.9 433.5,261.2 433.9,261.6 434.4,261.9 434.9,262.2 435.3,262.5 435.8,262.8 436.3,263.1 436.7,263.4 437.2,263.7 437.7,264.1 438.1,264.4 438.6,264.7 439.1,265.0 439.5,265.3 440.0,265.7 440.5,266.0 440.9,266.3 441.4,266.7 441.8,267.0 442.3,267.3 442.8,267.6 443.2,268.0 443.7,268.3 444.2,268.7 444.6,269.0 445.1,269.3 445.6,269.7 446.0,270.0 446.5,270.4 447.0,270.7 447.4,271.0 447.9,271.4 448.3,271.7 448.8,272.1 449.3,272.4 449.7,272.8 450.2,273.1 450.7,273.5 451.1,273.8 451.6,274.2 452.1,274.5 452.5,274.9 453.0,275.2 453.5,275.6 453.9,275.9 454.4,276.3 454.9,276.6 455.3,277.0 455.8,277.3 456.2,277.7 456.7,278.0 457.2,278.4 457.6,278.7 458.1,279.1 458.6,279.4 459.0,279.8 459.5,280.1 460.0,280.5 460.4,280.8 460.9,281.1 461.4,281.5 461.8,281.8 462.3,282.1 462.8,282.4 463.2,282.8 463.7,283.1 464.1,283.4 464.6,283.7 465.1,284.0 465.5,284.3 466.0,284.6 466.5,284.9 466.9,285.2 467.4,285.4 467.9,285.7 468.3,286.0 468.8,286.2 469.3,286.5 469.7,286.7 470.2,286.9 470.7,287.1 471.1,287.3 471.6,287.5 472.0,287.7 472.5,287.8 473.0,288.0 473.4,288.1 473.9,288.2 474.4,288.3 474.8,288.4 475.3,288.5 475.8,288.5 476.2,288.5 476.7,288.5 477.2,288.5 477.6,288.4 478.1,288.3 478.6,288.2 479.0,288.1 479.5,288.0 479.9,287.8 480.4,287.5 480.9,287.3 481.3,287.0 481.8,286.7 482.3,286.3 482.7,285.9 483.2,285.5 483.7,285.0 484.1,284.5 484.6,283.9 485.1,283.3 485.5,282.6 486.0,281.9 486.5,281.2 486.9,280.4 487.4,279.5 487.8,278.6 488.3,277.7 488.8,276.7 489.2,275.6 489.7,274.5 490.2,273.4 490.6,272.1 491.1,270.9 491.6,269.6 492.0,268.2 492.5,266.8 493.0,265.4 493.4,263.9 493.9,262.4 494.4,260.8 494.8,259.2 495.3,257.5 495.7,255.8 496.2,254.1 496.7,252.4 497.1,250.7 497.6,248.9 498.1,247.1 498.5,245.3 499.0,243.5 499.5,241.8 499.9,240.0 500.4,238.2 500.9,236.5 501.3,234.7 501.8,233.0 502.3,231.3 502.7,229.7 503.2,228.0 503.6,226.5 504.1,224.9 504.6,223.4 505.0,222.0 505.5,220.6 506.0,219.3 506.4,218.0 506.9,216.8 507.4,215.7 507.8,214.6 508.3,213.5 508.8,212.6 509.2,211.7 509.7,210.8 510.1,210.1 510.6,209.4 511.1,208.7 511.5,208.2 512.0,207.6 512.5,207.2 512.9,206.8 513.4,206.5 513.9,206.2 514.3,206.0 514.8,205.8 515.3,205.7 515.7,205.6 516.2,205.6 516.7,205.6 517.1,205.7 517.6,205.8 518.0,206.0 518.5,206.2 519.0,206.4 519.4,206.7 519.9,207.0 520.4,207.3 520.8,207.7 521.3,208.1 521.8,208.5 522.2,209.0 522.7,209.5 523.2,210.0 523.6,210.5 524.1,211.1 524.6,211.6 525.0,212.2 525.5,212.8 525.9,213.4 526.4,214.1 526.9,214.7 527.3,215.4 527.8,216.1 528.3,216.7 528.7,217.4 529.2,218.1 529.7,218.9 530.1,219.6 530.6,220.3 531.1,221.1 531.5,221.8 532.0,222.6 532.5,223.3 532.9,224.1 533.4,224.9 533.8,225.6 534.3,226.4 534.8,227.2 535.2,228.0 535.7,228.8 536.2,229.6 536.6,230.4 537.1,231.2 537.6,232.0 538.0,232.8 538.5,233.6 539.0,234.4 539.4,235.2 539.9,236.0 540.4,236.9 540.8,237.7 541.3,238.5 541.7,239.3 542.2,240.1 542.7,240.9 543.1,241.8 543.6,242.6 544.1,243.4 544.5,244.2 545.0,245.1 545.5,245.9 545.9,246.7 546.4,247.5 546.9,248.3 547.3,249.2 547.8,250.0 548.3,250.8 548.7,251.6 549.2,252.4 549.6,253.2 550.1,254.1 550.6,254.9 551.0,255.7 551.5,256.5 552.0,257.3 552.4,258.1 552.9,258.9 553.4,259.7 553.8,260.5 554.3,261.3 554.8,262.1 555.2,262.9 555.7,263.7 556.2,264.5 556.6,265.2 557.1,266.0 557.5,266.8 558.0,267.5 558.5,268.3 558.9,269.0 559.4,269.8 559.9,270.5 560.3,271.2 560.8,272.0 561.3,272.7 561.7,273.4 562.2,274.0 562.7,274.7 563.1,275.4 563.6,276.0 564.1,276.7 564.5,277.3 565.0,277.9 565.4,278.5 565.9,279.0 566.4,279.6 566.8,280.1 567.3,280.6 567.8,281.1 568.2,281.6 568.7,282.0 569.2,282.4 569.6,282.8 570.1,283.1 570.6,283.4 571.0,283.7 571.5,283.9 572.0,284.1 572.4,284.3 572.9,284.4 573.3,284.5 573.8,284.5 574.3,284.5 574.7,284.4 575.2,284.3 575.7,284.1 576.1,283.9 576.6,283.6 577.1,283.3 577.5,282.9 578.0,282.5 578.5,281.9 578.9,281.4 579.4,280.7 579.9,280.0 580.3,279.3 580.8,278.4 581.2,277.5 581.7,276.6 582.2,275.5 582.6,274.4 583.1,273.3 583.6,272.1 584.0,270.8 584.5,269.5 585.0,268.1 585.4,266.7 585.9,265.2 586.4,263.6 586.8,262.1 587.3,260.4 587.7,258.8 588.2,257.1 588.7,255.4 589.1,253.6 589.6,251.9 590.1,250.1 590.5,248.3 591.0,246.6 591.5,244.8 591.9,243.0 592.4,241.2 592.9,239.4 593.3,237.7 593.8,236.0 594.3,234.3 594.7,232.6 595.2,230.9 595.6,229.3 596.1,227.7 596.6,226.2 597.0,224.7 597.5,223.3 598.0,221.9 598.4,220.5 598.9,219.2 599.4,218.0 599.8,216.7 600.3,215.6 600.8,214.5 601.2,213.4 601.7,212.4 602.2,211.5 602.6,210.6 603.1,209.7 603.5,208.9 604.0,208.2 604.5,207.5 604.9,206.8 605.4,206.2 605.9,205.6 606.3,205.1 606.8,204.6 607.3,204.2 607.7,203.8 608.2,203.4 608.7,203.1 609.1,202.8 609.6,202.6 610.1,202.3 610.5,202.1 611.0,202.0 611.4,201.9 611.9,201.8 612.4,201.7 612.8,201.6 613.3,201.6 613.8,201.6 614.2,201.6 614.7,201.6 615.2,201.7 615.6,201.8 616.1,201.9 616.6,202.0 617.0,202.1 617.5,202.3 618.0,202.4 618.4,202.6 618.9,202.8 619.3,203.0 619.8,203.2 620.3,203.4 620.7,203.6 621.2,203.9 621.7,204.1 622.1,204.4 622.6,204.7 623.1,204.9 623.5,205.2 624.0,205.5 624.5,205.8 624.9,206.1 625.4,206.4 625.9,206.7 626.3,207.0 626.8,207.3 627.2,207.7 627.7,208.0 628.2,208.3 628.6,208.6 629.1,209.0 629.6,209.3 630.0,209.6 630.5,210.0 631.0,210.3 631.4,210.7 631.9,211.0 632.4,211.4 632.8,211.7 633.3,212.1 633.8,212.4 634.2,212.8 634.7,213.1 635.1,213.5 635.6,213.8 636.1,214.2 636.5,214.5 637.0,214.9 637.5,215.2 637.9,215.6 638.4,215.9 638.9,216.3 639.3,216.6 639.8,217.0 640.3,217.3 640.7,217.7 641.2,218.0 641.7,218.4 642.1,218.7 642.6,219.1 643.0,219.4 643.5,219.7 644.0,220.1 644.4,220.4 644.9,220.8 645.4,221.1 645.8,221.4 646.3,221.8 646.8,222.1 647.2,222.5 647.7,222.8 648.2,223.1 648.6,223.4 649.1,223.8 649.5,224.1 650.0,224.4 650.5,224.8 650.9,225.1 651.4,225.4 651.9,225.7 652.3,226.0 652.8,226.4 653.3,226.7 653.7,227.0 654.2,227.3 654.7,227.6 655.1,227.9 655.6,228.2 656.1,228.5 656.5,228.9 657.0,229.2 657.4,229.5 657.9,229.8 658.4,230.1 658.8,230.4 659.3,230.7 659.8,231.0 660.2,231.3 660.7,231.6 661.2,231.8 661.6,232.1 662.1,232.4 662.6,232.7 663.0,233.0 663.5,233.3 664.0,233.6 664.4,233.9 664.9,234.1 665.3,234.4 665.8,234.7 666.3,235.0 666.7,235.3 667.2,235.5 667.7,235.8 668.1,236.1 668.6,236.3 669.1,236.6 669.5,236.9 670.0,237.2 670.5,237.4 670.9,237.7 671.4,237.9 671.9,238.2 672.3,238.5 672.8,238.7 673.2,239.0 673.7,239.2 674.2,239.5 674.6,239.8 675.1,240.0 675.6,240.3 676.0,240.5 676.5,240.8 677.0,241.0 677.4,241.3 677.9,241.5 678.4,241.7 678.8,242.0 679.3,242.2 679.8,242.5 680.2,242.7 680.7,243.0 681.1,243.2 681.6,243.4 682.1,243.7 682.5,243.9 683.0,244.1 683.5,244.4 683.9,244.6 684.4,244.8"/>
</g>
<g clip-path="url(#c12)">
<polyline class="c" stroke-width="1.4" stroke="#2d49fa" points="405.6,386.1 406.1,386.1 406.5,386.1 407.0,386.2 407.5,386.2 407.9,386.2 408.4,386.2 408.9,386.2 409.3,386.3 409.8,386.3 410.2,386.3 410.7,386.3 411.2,386.3 411.6,386.3 412.1,386.4 412.6,386.4 413.0,386.4 413.5,386.4 414.0,386.4 414.4,386.4 414.9,386.5 415.4,386.5 415.8,386.5 416.3,386.5 416.8,386.5 417.2,386.5 417.7,386.6 418.1,386.6 418.6,386.6 419.1,386.6 419.5,386.6 420.0,386.7 420.5,386.7 420.9,386.7 421.4,386.7 421.9,386.7 422.3,386.7 422.8,386.8 423.3,386.8 423.7,386.8 424.2,386.8 424.7,386.8 425.1,386.9 425.6,386.9 426.0,386.9 426.5,386.9 427.0,386.9 427.4,387.0 427.9,387.0 428.4,387.0 428.8,387.0 429.3,387.0 429.8,387.0 430.2,387.1 430.7,387.1 431.2,387.1 431.6,387.1 432.1,387.1 432.6,387.2 433.0,387.2 433.5,387.2 433.9,387.2 434.4,387.2 434.9,387.3 435.3,387.3 435.8,387.3 436.3,387.3 436.7,387.3 437.2,387.3 437.7,387.4 438.1,387.4 438.6,387.4 439.1,387.4 439.5,387.4 440.0,387.5 440.5,387.5 440.9,387.5 441.4,387.5 441.8,387.5 442.3,387.6 442.8,387.6 443.2,387.6 443.7,387.6 444.2,387.6 444.6,387.6 445.1,387.7 445.6,387.7 446.0,387.7 446.5,387.7 447.0,387.7 447.4,387.8 447.9,387.8 448.3,387.8 448.8,387.8 449.3,387.8 449.7,387.8 450.2,387.9 450.7,387.9 451.1,387.9 451.6,387.9 452.1,387.9 452.5,387.9 453.0,388.0 453.5,388.0 453.9,388.0 454.4,388.0 454.9,388.0 455.3,388.0 455.8,388.0 456.2,388.1 456.7,388.1 457.2,388.1 457.6,388.1 458.1,388.1 458.6,388.1 459.0,388.1 459.5,388.1 460.0,388.2 460.4,388.2 460.9,388.2 461.4,388.2 461.8,388.2 462.3,388.2 462.8,388.2 463.2,388.2 463.7,388.2 464.1,388.2 464.6,388.2 465.1,388.3 465.5,388.3 466.0,388.3 466.5,388.3 466.9,388.3 467.4,388.3 467.9,388.3 468.3,388.3 468.8,388.3 469.3,388.3 469.7,388.3 470.2,388.3 470.7,388.3 471.1,388.3 471.6,388.3 472.0,388.3 472.5,388.2 473.0,388.2 473.4,388.2 473.9,388.2 474.4,388.2 474.8,388.2 475.3,388.2 475.8,388.2 476.2,388.2 476.7,388.1 477.2,388.1 477.6,388.1 478.1,388.1 478.6,388.0 479.0,388.0 479.5,388.0 479.9,388.0 480.4,387.9 480.9,387.9 481.3,387.9 481.8,387.8 482.3,387.8 482.7,387.7 483.2,387.7 483.7,387.7 484.1,387.6 484.6,387.6 485.1,387.5 485.5,387.4 486.0,387.4 486.5,387.3 486.9,387.3 487.4,387.2 487.8,387.1 488.3,387.1 488.8,387.0 489.2,386.9 489.7,386.8 490.2,386.7 490.6,386.6 491.1,386.5 491.6,386.4 492.0,386.3 492.5,386.2 493.0,386.1 493.4,386.0 493.9,385.9 494.4,385.8 494.8,385.6 495.3,385.5 495.7,385.4 496.2,385.2 496.7,385.1 497.1,384.9 497.6,384.8 498.1,384.6 498.5,384.4 499.0,384.2 499.5,384.1 499.9,383.9 500.4,383.7 500.9,383.5 501.3,383.3 501.8,383.0 502.3,382.8 502.7,382.6 503.2,382.3 503.6,382.1 504.1,381.8 504.6,381.6 505.0,381.3 505.5,381.0 506.0,380.7 506.4,380.4 506.9,380.1 507.4,379.8 507.8,379.5 508.3,379.1 508.8,378.8 509.2,378.4 509.7,378.1 510.1,377.7 510.6,377.3 511.1,376.9 511.5,376.5 512.0,376.1 512.5,375.6 512.9,375.2 513.4,374.7 513.9,374.3 514.3,373.8 514.8,373.3 515.3,372.8 515.7,372.3 516.2,371.7 516.7,371.2 517.1,370.6 517.6,370.1 518.0,369.5 518.5,368.9 519.0,368.3 519.4,367.7 519.9,367.0 520.4,366.4 520.8,365.7 521.3,365.1 521.8,364.4 522.2,363.7 522.7,363.0 523.2,362.3 523.6,361.5 524.1,360.8 524.6,360.0 525.0,359.2 525.5,358.5 525.9,357.7 526.4,356.9 526.9,356.0 527.3,355.2 527.8,354.4 528.3,353.5 528.7,352.7 529.2,351.8 529.7,351.0 530.1,350.1 530.6,349.3 531.1,348.5 531.5,347.6 532.0,346.8 532.5,346.1 532.9,345.3 533.4,344.6 533.8,344.0 534.3,343.5 534.8,343.1 535.2,342.8 535.7,342.7 536.2,342.8 536.6,343.1 537.1,343.8 537.6,344.9 538.0,346.5 538.5,348.7 539.0,351.7 539.4,355.4 539.9,360.1 540.4,365.8 540.8,372.6 541.3,380.5 541.7,389.3 542.2,398.9 542.7,408.7 543.1,418.3 543.6,426.8 544.1,433.6 544.5,438.1 545.0,439.6 545.5,438.1 545.9,433.6 546.4,426.8 546.9,418.3 547.3,408.7 547.8,398.9 548.3,389.3 548.7,380.5 549.2,372.6 549.6,365.8 550.1,360.1 550.6,355.4 551.0,351.7 551.5,348.7 552.0,346.5 552.4,344.9 552.9,343.8 553.4,343.1 553.8,342.8 554.3,342.7 554.8,342.8 555.2,343.1 555.7,343.5 556.2,344.0 556.6,344.6 557.1,345.3 557.5,346.1 558.0,346.8 558.5,347.6 558.9,348.5 559.4,349.3 559.9,350.1 560.3,351.0 560.8,351.8 561.3,352.7 561.7,353.5 562.2,354.4 562.7,355.2 563.1,356.0 563.6,356.9 564.1,357.7 564.5,358.5 565.0,359.2 565.4,360.0 565.9,360.8 566.4,361.5 566.8,362.3 567.3,363.0 567.8,363.7 568.2,364.4 568.7,365.1 569.2,365.7 569.6,366.4 570.1,367.0 570.6,367.7 571.0,368.3 571.5,368.9 572.0,369.5 572.4,370.1 572.9,370.6 573.3,371.2 573.8,371.7 574.3,372.3 574.7,372.8 575.2,373.3 575.7,373.8 576.1,374.3 576.6,374.7 577.1,375.2 577.5,375.6 578.0,376.1 578.5,376.5 578.9,376.9 579.4,377.3 579.9,377.7 580.3,378.1 580.8,378.4 581.2,378.8 581.7,379.1 582.2,379.5 582.6,379.8 583.1,380.1 583.6,380.4 584.0,380.7 584.5,381.0 585.0,381.3 585.4,381.6 585.9,381.8 586.4,382.1 586.8,382.3 587.3,382.6 587.7,382.8 588.2,383.0 588.7,383.3 589.1,383.5 589.6,383.7 590.1,383.9 590.5,384.1 591.0,384.2 591.5,384.4 591.9,384.6 592.4,384.8 592.9,384.9 593.3,385.1 593.8,385.2 594.3,385.4 594.7,385.5 595.2,385.6 595.6,385.8 596.1,385.9 596.6,386.0 597.0,386.1 597.5,386.2 598.0,386.3 598.4,386.4 598.9,386.5 599.4,386.6 599.8,386.7 600.3,386.8 600.8,386.9 601.2,387.0 601.7,387.1 602.2,387.1 602.6,387.2 603.1,387.3 603.5,387.3 604.0,387.4 604.5,387.4 604.9,387.5 605.4,387.6 605.9,387.6 606.3,387.7 606.8,387.7 607.3,387.7 607.7,387.8 608.2,387.8 608.7,387.9 609.1,387.9 609.6,387.9 610.1,388.0 610.5,388.0 611.0,388.0 611.4,388.0 611.9,388.1 612.4,388.1 612.8,388.1 613.3,388.1 613.8,388.2 614.2,388.2 614.7,388.2 615.2,388.2 615.6,388.2 616.1,388.2 616.6,388.2 617.0,388.2 617.5,388.2 618.0,388.3 618.4,388.3 618.9,388.3 619.3,388.3 619.8,388.3 620.3,388.3 620.7,388.3 621.2,388.3 621.7,388.3 622.1,388.3 622.6,388.3 623.1,388.3 623.5,388.3 624.0,388.3 624.5,388.3 624.9,388.3 625.4,388.2 625.9,388.2 626.3,388.2 626.8,388.2 627.2,388.2 627.7,388.2 628.2,388.2 628.6,388.2 629.1,388.2 629.6,388.2 630.0,388.2 630.5,388.1 631.0,388.1 631.4,388.1 631.9,388.1 632.4,388.1 632.8,388.1 633.3,388.1 633.8,388.1 634.2,388.0 634.7,388.0 635.1,388.0 635.6,388.0 636.1,388.0 636.5,388.0 637.0,388.0 637.5,387.9 637.9,387.9 638.4,387.9 638.9,387.9 639.3,387.9 639.8,387.9 640.3,387.8 640.7,387.8 641.2,387.8 641.7,387.8 642.1,387.8 642.6,387.8 643.0,387.7 643.5,387.7 644.0,387.7 644.4,387.7 644.9,387.7 645.4,387.6 645.8,387.6 646.3,387.6 646.8,387.6 647.2,387.6 647.7,387.6 648.2,387.5 648.6,387.5 649.1,387.5 649.5,387.5 650.0,387.5 650.5,387.4 650.9,387.4 651.4,387.4 651.9,387.4 652.3,387.4 652.8,387.3 653.3,387.3 653.7,387.3 654.2,387.3 654.7,387.3 655.1,387.3 655.6,387.2 656.1,387.2 656.5,387.2 657.0,387.2 657.4,387.2 657.9,387.1 658.4,387.1 658.8,387.1 659.3,387.1 659.8,387.1 660.2,387.0 660.7,387.0 661.2,387.0 661.6,387.0 662.1,387.0 662.6,387.0 663.0,386.9 663.5,386.9 664.0,386.9 664.4,386.9 664.9,386.9 665.3,386.8 665.8,386.8 666.3,386.8 666.7,386.8 667.2,386.8 667.7,386.7 668.1,386.7 668.6,386.7 669.1,386.7 669.5,386.7 670.0,386.7 670.5,386.6 670.9,386.6 671.4,386.6 671.9,386.6 672.3,386.6 672.8,386.5 673.2,386.5 673.7,386.5 674.2,386.5 674.6,386.5 675.1,386.5 675.6,386.4 676.0,386.4 676.5,386.4 677.0,386.4 677.4,386.4 677.9,386.4 678.4,386.3 678.8,386.3 679.3,386.3 679.8,386.3 680.2,386.3 680.7,386.3 681.1,386.2 681.6,386.2 682.1,386.2 682.5,386.2 683.0,386.2 683.5,386.1 683.9,386.1 684.4,386.1"/>
<polyline class="c" stroke-width="1.4" stroke="#1c9ef8" points="405.6,386.2 406.1,386.2 406.5,386.2 407.0,386.3 407.5,386.3 407.9,386.3 408.4,386.3 408.9,386.3 409.3,386.4 409.8,386.4 410.2,386.4 410.7,386.4 411.2,386.4 411.6,386.4 412.1,386.5 412.6,386.5 413.0,386.5 413.5,386.5 414.0,386.5 414.4,386.6 414.9,386.6 415.4,386.6 415.8,386.6 416.3,386.6 416.8,386.7 417.2,386.7 417.7,386.7 418.1,386.7 418.6,386.7 419.1,386.8 419.5,386.8 420.0,386.8 420.5,386.8 420.9,386.8 421.4,386.8 421.9,386.9 422.3,386.9 422.8,386.9 423.3,386.9 423.7,386.9 424.2,387.0 424.7,387.0 425.1,387.0 425.6,387.0 426.0,387.0 426.5,387.1 427.0,387.1 427.4,387.1 427.9,387.1 428.4,387.2 428.8,387.2 429.3,387.2 429.8,387.2 430.2,387.2 430.7,387.3 431.2,387.3 431.6,387.3 432.1,387.3 432.6,387.3 433.0,387.4 433.5,387.4 433.9,387.4 434.4,387.4 434.9,387.4 435.3,387.5 435.8,387.5 436.3,387.5 436.7,387.5 437.2,387.5 437.7,387.6 438.1,387.6 438.6,387.6 439.1,387.6 439.5,387.7 440.0,387.7 440.5,387.7 440.9,387.7 441.4,387.7 441.8,387.8 442.3,387.8 442.8,387.8 443.2,387.8 443.7,387.8 444.2,387.9 444.6,387.9 445.1,387.9 445.6,387.9 446.0,387.9 446.5,388.0 447.0,388.0 447.4,388.0 447.9,388.0 448.3,388.0 448.8,388.1 449.3,388.1 449.7,388.1 450.2,388.1 450.7,388.1 451.1,388.1 451.6,388.2 452.1,388.2 452.5,388.2 453.0,388.2 453.5,388.2 453.9,388.3 454.4,388.3 454.9,388.3 455.3,388.3 455.8,388.3 456.2,388.3 456.7,388.4 457.2,388.4 457.6,388.4 458.1,388.4 458.6,388.4 459.0,388.4 459.5,388.4 460.0,388.4 460.4,388.5 460.9,388.5 461.4,388.5 461.8,388.5 462.3,388.5 462.8,388.5 463.2,388.5 463.7,388.5 464.1,388.5 464.6,388.5 465.1,388.5 465.5,388.5 466.0,388.5 466.5,388.5 466.9,388.5 467.4,388.5 467.9,388.5 468.3,388.5 468.8,388.5 469.3,388.5 469.7,388.5 470.2,388.5 470.7,388.5 471.1,388.5 471.6,388.5 472.0,388.5 472.5,388.5 473.0,388.5 473.4,388.4 473.9,388.4 474.4,388.4 474.8,388.4 475.3,388.4 475.8,388.3 476.2,388.3 476.7,388.3 477.2,388.2 477.6,388.2 478.1,388.2 478.6,388.1 479.0,388.1 479.5,388.0 479.9,388.0 480.4,387.9 480.9,387.9 481.3,387.8 481.8,387.8 482.3,387.7 482.7,387.6 483.2,387.6 483.7,387.5 484.1,387.4 484.6,387.3 485.1,387.2 485.5,387.2 486.0,387.1 486.5,387.0 486.9,386.8 487.4,386.7 487.8,386.6 488.3,386.5 488.8,386.4 489.2,386.2 489.7,386.1 490.2,385.9 490.6,385.8 491.1,385.6 491.6,385.5 492.0,385.3 492.5,385.1 493.0,384.9 493.4,384.7 493.9,384.5 494.4,384.3 494.8,384.1 495.3,383.8 495.7,383.6 496.2,383.3 496.7,383.1 497.1,382.8 497.6,382.5 498.1,382.2 498.5,381.9 499.0,381.6 499.5,381.2 499.9,380.9 500.4,380.5 500.9,380.1 501.3,379.7 501.8,379.3 502.3,378.9 502.7,378.5 503.2,378.0 503.6,377.5 504.1,377.0 504.6,376.5 505.0,376.0 505.5,375.5 506.0,374.9 506.4,374.3 506.9,373.7 507.4,373.1 507.8,372.5 508.3,371.8 508.8,371.1 509.2,370.4 509.7,369.7 510.1,368.9 510.6,368.2 511.1,367.4 511.5,366.5 512.0,365.7 512.5,364.9 512.9,364.0 513.4,363.1 513.9,362.2 514.3,361.2 514.8,360.3 515.3,359.3 515.7,358.3 516.2,357.3 516.7,356.3 517.1,355.2 517.6,354.2 518.0,353.1 518.5,352.1 519.0,351.0 519.4,350.0 519.9,348.9 520.4,347.9 520.8,346.8 521.3,345.8 521.8,344.8 522.2,343.9 522.7,342.9 523.2,342.0 523.6,341.2 524.1,340.4 524.6,339.7 525.0,339.1 525.5,338.5 525.9,338.1 526.4,337.7 526.9,337.5 527.3,337.4 527.8,337.4 528.3,337.6 528.7,337.9 529.2,338.5 529.7,339.2 530.1,340.1 530.6,341.3 531.1,342.7 531.5,344.3 532.0,346.2 532.5,348.3 532.9,350.7 533.4,353.4 533.8,356.3 534.3,359.6 534.8,363.0 535.2,366.8 535.7,370.7 536.2,374.9 536.6,379.4 537.1,383.9 537.6,388.7 538.0,393.5 538.5,398.4 539.0,403.3 539.4,408.2 539.9,413.0 540.4,417.6 540.8,422.0 541.3,426.2 541.7,430.0 542.2,433.5 542.7,436.5 543.1,439.0 543.6,441.1 544.1,442.5 544.5,443.4 545.0,443.7 545.5,443.4 545.9,442.5 546.4,441.1 546.9,439.0 547.3,436.5 547.8,433.5 548.3,430.0 548.7,426.2 549.2,422.0 549.6,417.6 550.1,413.0 550.6,408.2 551.0,403.3 551.5,398.4 552.0,393.5 552.4,388.7 552.9,383.9 553.4,379.4 553.8,374.9 554.3,370.7 554.8,366.8 555.2,363.0 555.7,359.6 556.2,356.3 556.6,353.4 557.1,350.7 557.5,348.3 558.0,346.2 558.5,344.3 558.9,342.7 559.4,341.3 559.9,340.1 560.3,339.2 560.8,338.5 561.3,337.9 561.7,337.6 562.2,337.4 562.7,337.4 563.1,337.5 563.6,337.7 564.1,338.1 564.5,338.5 565.0,339.1 565.4,339.7 565.9,340.4 566.4,341.2 566.8,342.0 567.3,342.9 567.8,343.9 568.2,344.8 568.7,345.8 569.2,346.8 569.6,347.9 570.1,348.9 570.6,350.0 571.0,351.0 571.5,352.1 572.0,353.1 572.4,354.2 572.9,355.2 573.3,356.3 573.8,357.3 574.3,358.3 574.7,359.3 575.2,360.3 575.7,361.2 576.1,362.2 576.6,363.1 577.1,364.0 577.5,364.9 578.0,365.7 578.5,366.5 578.9,367.4 579.4,368.2 579.9,368.9 580.3,369.7 580.8,370.4 581.2,371.1 581.7,371.8 582.2,372.5 582.6,373.1 583.1,373.7 583.6,374.3 584.0,374.9 584.5,375.5 585.0,376.0 585.4,376.5 585.9,377.0 586.4,377.5 586.8,378.0 587.3,378.5 587.7,378.9 588.2,379.3 588.7,379.7 589.1,380.1 589.6,380.5 590.1,380.9 590.5,381.2 591.0,381.6 591.5,381.9 591.9,382.2 592.4,382.5 592.9,382.8 593.3,383.1 593.8,383.3 594.3,383.6 594.7,383.8 595.2,384.1 595.6,384.3 596.1,384.5 596.6,384.7 597.0,384.9 597.5,385.1 598.0,385.3 598.4,385.5 598.9,385.6 599.4,385.8 599.8,385.9 600.3,386.1 600.8,386.2 601.2,386.4 601.7,386.5 602.2,386.6 602.6,386.7 603.1,386.8 603.5,387.0 604.0,387.1 604.5,387.2 604.9,387.2 605.4,387.3 605.9,387.4 606.3,387.5 606.8,387.6 607.3,387.6 607.7,387.7 608.2,387.8 608.7,387.8 609.1,387.9 609.6,387.9 610.1,388.0 610.5,388.0 611.0,388.1 611.4,388.1 611.9,388.2 612.4,388.2 612.8,388.2 613.3,388.3 613.8,388.3 614.2,388.3 614.7,388.4 615.2,388.4 615.6,388.4 616.1,388.4 616.6,388.4 617.0,388.5 617.5,388.5 618.0,388.5 618.4,388.5 618.9,388.5 619.3,388.5 619.8,388.5 620.3,388.5 620.7,388.5 621.2,388.5 621.7,388.5 622.1,388.5 622.6,388.5 623.1,388.5 623.5,388.5 624.0,388.5 624.5,388.5 624.9,388.5 625.4,388.5 625.9,388.5 626.3,388.5 626.8,388.5 627.2,388.5 627.7,388.5 628.2,388.5 628.6,388.5 629.1,388.5 629.6,388.5 630.0,388.4 630.5,388.4 631.0,388.4 631.4,388.4 631.9,388.4 632.4,388.4 632.8,388.4 633.3,388.4 633.8,388.3 634.2,388.3 634.7,388.3 635.1,388.3 635.6,388.3 636.1,388.3 636.5,388.2 637.0,388.2 637.5,388.2 637.9,388.2 638.4,388.2 638.9,388.1 639.3,388.1 639.8,388.1 640.3,388.1 640.7,388.1 641.2,388.1 641.7,388.0 642.1,388.0 642.6,388.0 643.0,388.0 643.5,388.0 644.0,387.9 644.4,387.9 644.9,387.9 645.4,387.9 645.8,387.9 646.3,387.8 646.8,387.8 647.2,387.8 647.7,387.8 648.2,387.8 648.6,387.7 649.1,387.7 649.5,387.7 650.0,387.7 650.5,387.7 650.9,387.6 651.4,387.6 651.9,387.6 652.3,387.6 652.8,387.5 653.3,387.5 653.7,387.5 654.2,387.5 654.7,387.5 655.1,387.4 655.6,387.4 656.1,387.4 656.5,387.4 657.0,387.4 657.4,387.3 657.9,387.3 658.4,387.3 658.8,387.3 659.3,387.3 659.8,387.2 660.2,387.2 660.7,387.2 661.2,387.2 661.6,387.2 662.1,387.1 662.6,387.1 663.0,387.1 663.5,387.1 664.0,387.0 664.4,387.0 664.9,387.0 665.3,387.0 665.8,387.0 666.3,386.9 666.7,386.9 667.2,386.9 667.7,386.9 668.1,386.9 668.6,386.8 669.1,386.8 669.5,386.8 670.0,386.8 670.5,386.8 670.9,386.8 671.4,386.7 671.9,386.7 672.3,386.7 672.8,386.7 673.2,386.7 673.7,386.6 674.2,386.6 674.6,386.6 675.1,386.6 675.6,386.6 676.0,386.5 676.5,386.5 677.0,386.5 677.4,386.5 677.9,386.5 678.4,386.4 678.8,386.4 679.3,386.4 679.8,386.4 680.2,386.4 680.7,386.4 681.1,386.3 681.6,386.3 682.1,386.3 682.5,386.3 683.0,386.3 683.5,386.2 683.9,386.2 684.4,386.2"/>
<polyline class="c" stroke-width="1.4" stroke="#15cb88" points="405.6,386.4 406.1,386.4 406.5,386.4 407.0,386.4 407.5,386.5 407.9,386.5 408.4,386.5 408.9,386.5 409.3,386.5 409.8,386.6 410.2,386.6 410.7,386.6 411.2,386.6 411.6,386.6 412.1,386.7 412.6,386.7 413.0,386.7 413.5,386.7 414.0,386.7 414.4,386.8 414.9,386.8 415.4,386.8 415.8,386.8 416.3,386.9 416.8,386.9 417.2,386.9 417.7,386.9 418.1,386.9 418.6,387.0 419.1,387.0 419.5,387.0 420.0,387.0 420.5,387.0 420.9,387.1 421.4,387.1 421.9,387.1 422.3,387.1 422.8,387.2 423.3,387.2 423.7,387.2 424.2,387.2 424.7,387.3 425.1,387.3 425.6,387.3 426.0,387.3 426.5,387.3 427.0,387.4 427.4,387.4 427.9,387.4 428.4,387.4 428.8,387.5 429.3,387.5 429.8,387.5 430.2,387.5 430.7,387.6 431.2,387.6 431.6,387.6 432.1,387.6 432.6,387.7 433.0,387.7 433.5,387.7 433.9,387.7 434.4,387.8 434.9,387.8 435.3,387.8 435.8,387.8 436.3,387.9 436.7,387.9 437.2,387.9 437.7,387.9 438.1,387.9 438.6,388.0 439.1,388.0 439.5,388.0 440.0,388.0 440.5,388.1 440.9,388.1 441.4,388.1 441.8,388.1 442.3,388.2 442.8,388.2 443.2,388.2 443.7,388.2 444.2,388.3 444.6,388.3 445.1,388.3 445.6,388.3 446.0,388.4 446.5,388.4 447.0,388.4 447.4,388.4 447.9,388.4 448.3,388.5 448.8,388.5 449.3,388.5 449.7,388.5 450.2,388.6 450.7,388.6 451.1,388.6 451.6,388.6 452.1,388.6 452.5,388.7 453.0,388.7 453.5,388.7 453.9,388.7 454.4,388.7 454.9,388.8 455.3,388.8 455.8,388.8 456.2,388.8 456.7,388.8 457.2,388.8 457.6,388.9 458.1,388.9 458.6,388.9 459.0,388.9 459.5,388.9 460.0,388.9 460.4,388.9 460.9,388.9 461.4,388.9 461.8,388.9 462.3,389.0 462.8,389.0 463.2,389.0 463.7,389.0 464.1,389.0 464.6,389.0 465.1,389.0 465.5,389.0 466.0,389.0 466.5,388.9 466.9,388.9 467.4,388.9 467.9,388.9 468.3,388.9 468.8,388.9 469.3,388.9 469.7,388.9 470.2,388.8 470.7,388.8 471.1,388.8 471.6,388.7 472.0,388.7 472.5,388.7 473.0,388.6 473.4,388.6 473.9,388.5 474.4,388.5 474.8,388.4 475.3,388.4 475.8,388.3 476.2,388.3 476.7,388.2 477.2,388.1 477.6,388.0 478.1,387.9 478.6,387.9 479.0,387.8 479.5,387.7 479.9,387.5 480.4,387.4 480.9,387.3 481.3,387.2 481.8,387.1 482.3,386.9 482.7,386.8 483.2,386.6 483.7,386.4 484.1,386.3 484.6,386.1 485.1,385.9 485.5,385.7 486.0,385.5 486.5,385.2 486.9,385.0 487.4,384.7 487.8,384.5 488.3,384.2 488.8,383.9 489.2,383.6 489.7,383.3 490.2,383.0 490.6,382.6 491.1,382.3 491.6,381.9 492.0,381.5 492.5,381.1 493.0,380.6 493.4,380.2 493.9,379.7 494.4,379.2 494.8,378.7 495.3,378.2 495.7,377.6 496.2,377.0 496.7,376.4 497.1,375.8 497.6,375.1 498.1,374.5 498.5,373.8 499.0,373.0 499.5,372.3 499.9,371.5 500.4,370.7 500.9,369.9 501.3,369.0 501.8,368.1 502.3,367.2 502.7,366.3 503.2,365.3 503.6,364.3 504.1,363.3 504.6,362.3 505.0,361.2 505.5,360.1 506.0,359.0 506.4,357.9 506.9,356.8 507.4,355.6 507.8,354.5 508.3,353.3 508.8,352.2 509.2,351.0 509.7,349.8 510.1,348.7 510.6,347.6 511.1,346.4 511.5,345.4 512.0,344.3 512.5,343.3 512.9,342.3 513.4,341.4 513.9,340.5 514.3,339.7 514.8,339.0 515.3,338.3 515.7,337.7 516.2,337.2 516.7,336.9 517.1,336.6 517.6,336.4 518.0,336.4 518.5,336.5 519.0,336.7 519.4,337.0 519.9,337.5 520.4,338.1 520.8,338.9 521.3,339.8 521.8,340.8 522.2,342.0 522.7,343.3 523.2,344.7 523.6,346.3 524.1,348.0 524.6,349.8 525.0,351.8 525.5,353.8 525.9,355.9 526.4,358.1 526.9,360.4 527.3,362.8 527.8,365.2 528.3,367.6 528.7,370.1 529.2,372.6 529.7,375.1 530.1,377.6 530.6,380.1 531.1,382.6 531.5,385.1 532.0,387.5 532.5,389.9 532.9,392.2 533.4,394.5 533.8,396.7 534.3,398.8 534.8,400.9 535.2,402.9 535.7,404.8 536.2,406.6 536.6,408.3 537.1,410.0 537.6,411.5 538.0,413.0 538.5,414.4 539.0,415.6 539.4,416.8 539.9,417.9 540.4,418.9 540.8,419.8 541.3,420.5 541.7,421.2 542.2,421.9 542.7,422.4 543.1,422.8 543.6,423.1 544.1,423.3 544.5,423.5 545.0,423.5 545.5,423.5 545.9,423.3 546.4,423.1 546.9,422.8 547.3,422.4 547.8,421.9 548.3,421.2 548.7,420.5 549.2,419.8 549.6,418.9 550.1,417.9 550.6,416.8 551.0,415.6 551.5,414.4 552.0,413.0 552.4,411.5 552.9,410.0 553.4,408.3 553.8,406.6 554.3,404.8 554.8,402.9 555.2,400.9 555.7,398.8 556.2,396.7 556.6,394.5 557.1,392.2 557.5,389.9 558.0,387.5 558.5,385.1 558.9,382.6 559.4,380.1 559.9,377.6 560.3,375.1 560.8,372.6 561.3,370.1 561.7,367.6 562.2,365.2 562.7,362.8 563.1,360.4 563.6,358.1 564.1,355.9 564.5,353.8 565.0,351.8 565.4,349.8 565.9,348.0 566.4,346.3 566.8,344.7 567.3,343.3 567.8,342.0 568.2,340.8 568.7,339.8 569.2,338.9 569.6,338.1 570.1,337.5 570.6,337.0 571.0,336.7 571.5,336.5 572.0,336.4 572.4,336.4 572.9,336.6 573.3,336.9 573.8,337.2 574.3,337.7 574.7,338.3 575.2,339.0 575.7,339.7 576.1,340.5 576.6,341.4 577.1,342.3 577.5,343.3 578.0,344.3 578.5,345.4 578.9,346.4 579.4,347.6 579.9,348.7 580.3,349.8 580.8,351.0 581.2,352.2 581.7,353.3 582.2,354.5 582.6,355.6 583.1,356.8 583.6,357.9 584.0,359.0 584.5,360.1 585.0,361.2 585.4,362.3 585.9,363.3 586.4,364.3 586.8,365.3 587.3,366.3 587.7,367.2 588.2,368.1 588.7,369.0 589.1,369.9 589.6,370.7 590.1,371.5 590.5,372.3 591.0,373.0 591.5,373.8 591.9,374.5 592.4,375.1 592.9,375.8 593.3,376.4 593.8,377.0 594.3,377.6 594.7,378.2 595.2,378.7 595.6,379.2 596.1,379.7 596.6,380.2 597.0,380.6 597.5,381.1 598.0,381.5 598.4,381.9 598.9,382.3 599.4,382.6 599.8,383.0 600.3,383.3 600.8,383.6 601.2,383.9 601.7,384.2 602.2,384.5 602.6,384.7 603.1,385.0 603.5,385.2 604.0,385.5 604.5,385.7 604.9,385.9 605.4,386.1 605.9,386.3 606.3,386.4 606.8,386.6 607.3,386.8 607.7,386.9 608.2,387.1 608.7,387.2 609.1,387.3 609.6,387.4 610.1,387.5 610.5,387.7 611.0,387.8 611.4,387.9 611.9,387.9 612.4,388.0 612.8,388.1 613.3,388.2 613.8,388.3 614.2,388.3 614.7,388.4 615.2,388.4 615.6,388.5 616.1,388.5 616.6,388.6 617.0,388.6 617.5,388.7 618.0,388.7 618.4,388.7 618.9,388.8 619.3,388.8 619.8,388.8 620.3,388.9 620.7,388.9 621.2,388.9 621.7,388.9 622.1,388.9 622.6,388.9 623.1,388.9 623.5,388.9 624.0,389.0 624.5,389.0 624.9,389.0 625.4,389.0 625.9,389.0 626.3,389.0 626.8,389.0 627.2,389.0 627.7,389.0 628.2,388.9 628.6,388.9 629.1,388.9 629.6,388.9 630.0,388.9 630.5,388.9 631.0,388.9 631.4,388.9 631.9,388.9 632.4,388.9 632.8,388.8 633.3,388.8 633.8,388.8 634.2,388.8 634.7,388.8 635.1,388.8 635.6,388.7 636.1,388.7 636.5,388.7 637.0,388.7 637.5,388.7 637.9,388.6 638.4,388.6 638.9,388.6 639.3,388.6 639.8,388.6 640.3,388.5 640.7,388.5 641.2,388.5 641.7,388.5 642.1,388.4 642.6,388.4 643.0,388.4 643.5,388.4 644.0,388.4 644.4,388.3 644.9,388.3 645.4,388.3 645.8,388.3 646.3,388.2 646.8,388.2 647.2,388.2 647.7,388.2 648.2,388.1 648.6,388.1 649.1,388.1 649.5,388.1 650.0,388.0 650.5,388.0 650.9,388.0 651.4,388.0 651.9,387.9 652.3,387.9 652.8,387.9 653.3,387.9 653.7,387.9 654.2,387.8 654.7,387.8 655.1,387.8 655.6,387.8 656.1,387.7 656.5,387.7 657.0,387.7 657.4,387.7 657.9,387.6 658.4,387.6 658.8,387.6 659.3,387.6 659.8,387.5 660.2,387.5 660.7,387.5 661.2,387.5 661.6,387.4 662.1,387.4 662.6,387.4 663.0,387.4 663.5,387.3 664.0,387.3 664.4,387.3 664.9,387.3 665.3,387.3 665.8,387.2 666.3,387.2 666.7,387.2 667.2,387.2 667.7,387.1 668.1,387.1 668.6,387.1 669.1,387.1 669.5,387.0 670.0,387.0 670.5,387.0 670.9,387.0 671.4,387.0 671.9,386.9 672.3,386.9 672.8,386.9 673.2,386.9 673.7,386.9 674.2,386.8 674.6,386.8 675.1,386.8 675.6,386.8 676.0,386.7 676.5,386.7 677.0,386.7 677.4,386.7 677.9,386.7 678.4,386.6 678.8,386.6 679.3,386.6 679.8,386.6 680.2,386.6 680.7,386.5 681.1,386.5 681.6,386.5 682.1,386.5 682.5,386.5 683.0,386.4 683.5,386.4 683.9,386.4 684.4,386.4"/>
<polyline class="c" stroke-width="1.4" stroke="#f6923d" points="405.6,386.6 406.1,386.7 406.5,386.7 407.0,386.7 407.5,386.7 407.9,386.7 408.4,386.8 408.9,386.8 409.3,386.8 409.8,386.8 410.2,386.9 410.7,386.9 411.2,386.9 411.6,386.9 412.1,387.0 412.6,387.0 413.0,387.0 413.5,387.0 414.0,387.1 414.4,387.1 414.9,387.1 415.4,387.1 415.8,387.2 416.3,387.2 416.8,387.2 417.2,387.2 417.7,387.3 418.1,387.3 418.6,387.3 419.1,387.3 419.5,387.4 420.0,387.4 420.5,387.4 420.9,387.4 421.4,387.5 421.9,387.5 422.3,387.5 422.8,387.5 423.3,387.6 423.7,387.6 424.2,387.6 424.7,387.7 425.1,387.7 425.6,387.7 426.0,387.7 426.5,387.8 427.0,387.8 427.4,387.8 427.9,387.9 428.4,387.9 428.8,387.9 429.3,387.9 429.8,388.0 430.2,388.0 430.7,388.0 431.2,388.1 431.6,388.1 432.1,388.1 432.6,388.1 433.0,388.2 433.5,388.2 433.9,388.2 434.4,388.3 434.9,388.3 435.3,388.3 435.8,388.3 436.3,388.4 436.7,388.4 437.2,388.4 437.7,388.5 438.1,388.5 438.6,388.5 439.1,388.6 439.5,388.6 440.0,388.6 440.5,388.6 440.9,388.7 441.4,388.7 441.8,388.7 442.3,388.8 442.8,388.8 443.2,388.8 443.7,388.8 444.2,388.9 444.6,388.9 445.1,388.9 445.6,389.0 446.0,389.0 446.5,389.0 447.0,389.0 447.4,389.1 447.9,389.1 448.3,389.1 448.8,389.1 449.3,389.2 449.7,389.2 450.2,389.2 450.7,389.2 451.1,389.3 451.6,389.3 452.1,389.3 452.5,389.3 453.0,389.3 453.5,389.4 453.9,389.4 454.4,389.4 454.9,389.4 455.3,389.4 455.8,389.4 456.2,389.4 456.7,389.5 457.2,389.5 457.6,389.5 458.1,389.5 458.6,389.5 459.0,389.5 459.5,389.5 460.0,389.5 460.4,389.5 460.9,389.5 461.4,389.5 461.8,389.5 462.3,389.4 462.8,389.4 463.2,389.4 463.7,389.4 464.1,389.4 464.6,389.3 465.1,389.3 465.5,389.3 466.0,389.2 466.5,389.2 466.9,389.2 467.4,389.1 467.9,389.1 468.3,389.0 468.8,388.9 469.3,388.9 469.7,388.8 470.2,388.7 470.7,388.6 471.1,388.5 471.6,388.4 472.0,388.3 472.5,388.2 473.0,388.1 473.4,388.0 473.9,387.8 474.4,387.7 474.8,387.5 475.3,387.4 475.8,387.2 476.2,387.0 476.7,386.8 477.2,386.6 477.6,386.4 478.1,386.1 478.6,385.9 479.0,385.6 479.5,385.3 479.9,385.1 480.4,384.7 480.9,384.4 481.3,384.1 481.8,383.7 482.3,383.3 482.7,382.9 483.2,382.5 483.7,382.1 484.1,381.6 484.6,381.1 485.1,380.6 485.5,380.1 486.0,379.5 486.5,379.0 486.9,378.4 487.4,377.7 487.8,377.1 488.3,376.4 488.8,375.7 489.2,374.9 489.7,374.1 490.2,373.3 490.6,372.5 491.1,371.6 491.6,370.7 492.0,369.8 492.5,368.8 493.0,367.9 493.4,366.8 493.9,365.8 494.4,364.7 494.8,363.6 495.3,362.5 495.7,361.3 496.2,360.2 496.7,359.0 497.1,357.8 497.6,356.6 498.1,355.3 498.5,354.1 499.0,352.9 499.5,351.6 499.9,350.4 500.4,349.2 500.9,348.0 501.3,346.8 501.8,345.7 502.3,344.5 502.7,343.5 503.2,342.4 503.6,341.5 504.1,340.6 504.6,339.7 505.0,338.9 505.5,338.2 506.0,337.6 506.4,337.1 506.9,336.7 507.4,336.4 507.8,336.2 508.3,336.1 508.8,336.1 509.2,336.3 509.7,336.5 510.1,336.9 510.6,337.4 511.1,338.1 511.5,338.8 512.0,339.7 512.5,340.6 512.9,341.7 513.4,342.9 513.9,344.2 514.3,345.6 514.8,347.1 515.3,348.6 515.7,350.2 516.2,351.9 516.7,353.6 517.1,355.4 517.6,357.2 518.0,359.0 518.5,360.9 519.0,362.8 519.4,364.6 519.9,366.5 520.4,368.4 520.8,370.2 521.3,372.1 521.8,373.9 522.2,375.7 522.7,377.4 523.2,379.1 523.6,380.8 524.1,382.4 524.6,383.9 525.0,385.4 525.5,386.9 525.9,388.3 526.4,389.7 526.9,391.0 527.3,392.2 527.8,393.4 528.3,394.5 528.7,395.6 529.2,396.6 529.7,397.6 530.1,398.5 530.6,399.4 531.1,400.2 531.5,401.0 532.0,401.8 532.5,402.5 532.9,403.1 533.4,403.7 533.8,404.3 534.3,404.8 534.8,405.3 535.2,405.8 535.7,406.3 536.2,406.7 536.6,407.0 537.1,407.4 537.6,407.7 538.0,408.0 538.5,408.3 539.0,408.5 539.4,408.8 539.9,409.0 540.4,409.1 540.8,409.3 541.3,409.4 541.7,409.6 542.2,409.7 542.7,409.8 543.1,409.8 543.6,409.9 544.1,409.9 544.5,410.0 545.0,410.0 545.5,410.0 545.9,409.9 546.4,409.9 546.9,409.8 547.3,409.8 547.8,409.7 548.3,409.6 548.7,409.4 549.2,409.3 549.6,409.1 550.1,409.0 550.6,408.8 551.0,408.5 551.5,408.3 552.0,408.0 552.4,407.7 552.9,407.4 553.4,407.0 553.8,406.7 554.3,406.3 554.8,405.8 555.2,405.3 555.7,404.8 556.2,404.3 556.6,403.7 557.1,403.1 557.5,402.5 558.0,401.8 558.5,401.0 558.9,400.2 559.4,399.4 559.9,398.5 560.3,397.6 560.8,396.6 561.3,395.6 561.7,394.5 562.2,393.4 562.7,392.2 563.1,391.0 563.6,389.7 564.1,388.3 564.5,386.9 565.0,385.4 565.4,383.9 565.9,382.4 566.4,380.8 566.8,379.1 567.3,377.4 567.8,375.7 568.2,373.9 568.7,372.1 569.2,370.2 569.6,368.4 570.1,366.5 570.6,364.6 571.0,362.8 571.5,360.9 572.0,359.0 572.4,357.2 572.9,355.4 573.3,353.6 573.8,351.9 574.3,350.2 574.7,348.6 575.2,347.1 575.7,345.6 576.1,344.2 576.6,342.9 577.1,341.7 577.5,340.6 578.0,339.7 578.5,338.8 578.9,338.1 579.4,337.4 579.9,336.9 580.3,336.5 580.8,336.3 581.2,336.1 581.7,336.1 582.2,336.2 582.6,336.4 583.1,336.7 583.6,337.1 584.0,337.6 584.5,338.2 585.0,338.9 585.4,339.7 585.9,340.6 586.4,341.5 586.8,342.4 587.3,343.5 587.7,344.5 588.2,345.7 588.7,346.8 589.1,348.0 589.6,349.2 590.1,350.4 590.5,351.6 591.0,352.9 591.5,354.1 591.9,355.3 592.4,356.6 592.9,357.8 593.3,359.0 593.8,360.2 594.3,361.3 594.7,362.5 595.2,363.6 595.6,364.7 596.1,365.8 596.6,366.8 597.0,367.9 597.5,368.8 598.0,369.8 598.4,370.7 598.9,371.6 599.4,372.5 599.8,373.3 600.3,374.1 600.8,374.9 601.2,375.7 601.7,376.4 602.2,377.1 602.6,377.7 603.1,378.4 603.5,379.0 604.0,379.5 604.5,380.1 604.9,380.6 605.4,381.1 605.9,381.6 606.3,382.1 606.8,382.5 607.3,382.9 607.7,383.3 608.2,383.7 608.7,384.1 609.1,384.4 609.6,384.7 610.1,385.1 610.5,385.3 611.0,385.6 611.4,385.9 611.9,386.1 612.4,386.4 612.8,386.6 613.3,386.8 613.8,387.0 614.2,387.2 614.7,387.4 615.2,387.5 615.6,387.7 616.1,387.8 616.6,388.0 617.0,388.1 617.5,388.2 618.0,388.3 618.4,388.4 618.9,388.5 619.3,388.6 619.8,388.7 620.3,388.8 620.7,388.9 621.2,388.9 621.7,389.0 622.1,389.1 622.6,389.1 623.1,389.2 623.5,389.2 624.0,389.2 624.5,389.3 624.9,389.3 625.4,389.3 625.9,389.4 626.3,389.4 626.8,389.4 627.2,389.4 627.7,389.4 628.2,389.5 628.6,389.5 629.1,389.5 629.6,389.5 630.0,389.5 630.5,389.5 631.0,389.5 631.4,389.5 631.9,389.5 632.4,389.5 632.8,389.5 633.3,389.5 633.8,389.4 634.2,389.4 634.7,389.4 635.1,389.4 635.6,389.4 636.1,389.4 636.5,389.4 637.0,389.3 637.5,389.3 637.9,389.3 638.4,389.3 638.9,389.3 639.3,389.2 639.8,389.2 640.3,389.2 640.7,389.2 641.2,389.1 641.7,389.1 642.1,389.1 642.6,389.1 643.0,389.0 643.5,389.0 644.0,389.0 644.4,389.0 644.9,388.9 645.4,388.9 645.8,388.9 646.3,388.8 646.8,388.8 647.2,388.8 647.7,388.8 648.2,388.7 648.6,388.7 649.1,388.7 649.5,388.6 650.0,388.6 650.5,388.6 650.9,388.6 651.4,388.5 651.9,388.5 652.3,388.5 652.8,388.4 653.3,388.4 653.7,388.4 654.2,388.3 654.7,388.3 655.1,388.3 655.6,388.3 656.1,388.2 656.5,388.2 657.0,388.2 657.4,388.1 657.9,388.1 658.4,388.1 658.8,388.1 659.3,388.0 659.8,388.0 660.2,388.0 660.7,387.9 661.2,387.9 661.6,387.9 662.1,387.9 662.6,387.8 663.0,387.8 663.5,387.8 664.0,387.7 664.4,387.7 664.9,387.7 665.3,387.7 665.8,387.6 666.3,387.6 666.7,387.6 667.2,387.5 667.7,387.5 668.1,387.5 668.6,387.5 669.1,387.4 669.5,387.4 670.0,387.4 670.5,387.4 670.9,387.3 671.4,387.3 671.9,387.3 672.3,387.3 672.8,387.2 673.2,387.2 673.7,387.2 674.2,387.2 674.6,387.1 675.1,387.1 675.6,387.1 676.0,387.1 676.5,387.0 677.0,387.0 677.4,387.0 677.9,387.0 678.4,386.9 678.8,386.9 679.3,386.9 679.8,386.9 680.2,386.8 680.7,386.8 681.1,386.8 681.6,386.8 682.1,386.7 682.5,386.7 683.0,386.7 683.5,386.7 683.9,386.7 684.4,386.6"/>
<polyline class="c" stroke-width="1.4" stroke="#f0148e" points="405.6,387.0 406.1,387.0 406.5,387.0 407.0,387.1 407.5,387.1 407.9,387.1 408.4,387.2 408.9,387.2 409.3,387.2 409.8,387.2 410.2,387.3 410.7,387.3 411.2,387.3 411.6,387.4 412.1,387.4 412.6,387.4 413.0,387.4 413.5,387.5 414.0,387.5 414.4,387.5 414.9,387.6 415.4,387.6 415.8,387.6 416.3,387.7 416.8,387.7 417.2,387.7 417.7,387.8 418.1,387.8 418.6,387.8 419.1,387.8 419.5,387.9 420.0,387.9 420.5,387.9 420.9,388.0 421.4,388.0 421.9,388.0 422.3,388.1 422.8,388.1 423.3,388.1 423.7,388.2 424.2,388.2 424.7,388.2 425.1,388.3 425.6,388.3 426.0,388.3 426.5,388.4 427.0,388.4 427.4,388.4 427.9,388.5 428.4,388.5 428.8,388.6 429.3,388.6 429.8,388.6 430.2,388.7 430.7,388.7 431.2,388.7 431.6,388.8 432.1,388.8 432.6,388.8 433.0,388.9 433.5,388.9 433.9,388.9 434.4,389.0 434.9,389.0 435.3,389.1 435.8,389.1 436.3,389.1 436.7,389.2 437.2,389.2 437.7,389.2 438.1,389.3 438.6,389.3 439.1,389.3 439.5,389.4 440.0,389.4 440.5,389.4 440.9,389.5 441.4,389.5 441.8,389.5 442.3,389.6 442.8,389.6 443.2,389.6 443.7,389.7 444.2,389.7 444.6,389.7 445.1,389.7 445.6,389.8 446.0,389.8 446.5,389.8 447.0,389.9 447.4,389.9 447.9,389.9 448.3,389.9 448.8,389.9 449.3,390.0 449.7,390.0 450.2,390.0 450.7,390.0 451.1,390.0 451.6,390.0 452.1,390.0 452.5,390.1 453.0,390.1 453.5,390.1 453.9,390.1 454.4,390.1 454.9,390.1 455.3,390.0 455.8,390.0 456.2,390.0 456.7,390.0 457.2,390.0 457.6,390.0 458.1,389.9 458.6,389.9 459.0,389.8 459.5,389.8 460.0,389.8 460.4,389.7 460.9,389.6 461.4,389.6 461.8,389.5 462.3,389.4 462.8,389.3 463.2,389.2 463.7,389.1 464.1,389.0 464.6,388.9 465.1,388.8 465.5,388.6 466.0,388.5 466.5,388.3 466.9,388.2 467.4,388.0 467.9,387.8 468.3,387.6 468.8,387.4 469.3,387.1 469.7,386.9 470.2,386.6 470.7,386.3 471.1,386.0 471.6,385.7 472.0,385.4 472.5,385.0 473.0,384.6 473.4,384.2 473.9,383.8 474.4,383.4 474.8,382.9 475.3,382.4 475.8,381.9 476.2,381.4 476.7,380.8 477.2,380.2 477.6,379.6 478.1,378.9 478.6,378.2 479.0,377.5 479.5,376.7 479.9,376.0 480.4,375.1 480.9,374.3 481.3,373.4 481.8,372.5 482.3,371.5 482.7,370.6 483.2,369.5 483.7,368.5 484.1,367.4 484.6,366.3 485.1,365.2 485.5,364.0 486.0,362.8 486.5,361.6 486.9,360.3 487.4,359.1 487.8,357.8 488.3,356.5 488.8,355.2 489.2,353.9 489.7,352.6 490.2,351.3 490.6,350.0 491.1,348.8 491.6,347.5 492.0,346.3 492.5,345.2 493.0,344.0 493.4,342.9 493.9,341.9 494.4,340.9 494.8,340.0 495.3,339.2 495.7,338.5 496.2,337.8 496.7,337.2 497.1,336.8 497.6,336.4 498.1,336.2 498.5,336.0 499.0,336.0 499.5,336.1 499.9,336.3 500.4,336.6 500.9,337.0 501.3,337.6 501.8,338.2 502.3,339.0 502.7,339.8 503.2,340.8 503.6,341.8 504.1,343.0 504.6,344.2 505.0,345.5 505.5,346.9 506.0,348.3 506.4,349.8 506.9,351.3 507.4,352.9 507.8,354.4 508.3,356.1 508.8,357.7 509.2,359.3 509.7,360.9 510.1,362.6 510.6,364.2 511.1,365.8 511.5,367.4 512.0,369.0 512.5,370.5 512.9,372.0 513.4,373.4 513.9,374.9 514.3,376.3 514.8,377.6 515.3,378.9 515.7,380.2 516.2,381.4 516.7,382.5 517.1,383.6 517.6,384.7 518.0,385.7 518.5,386.7 519.0,387.7 519.4,388.5 519.9,389.4 520.4,390.2 520.8,391.0 521.3,391.7 521.8,392.4 522.2,393.0 522.7,393.6 523.2,394.2 523.6,394.7 524.1,395.3 524.6,395.7 525.0,396.2 525.5,396.6 525.9,397.0 526.4,397.4 526.9,397.7 527.3,398.1 527.8,398.4 528.3,398.7 528.7,398.9 529.2,399.2 529.7,399.4 530.1,399.6 530.6,399.8 531.1,400.0 531.5,400.2 532.0,400.3 532.5,400.5 532.9,400.6 533.4,400.7 533.8,400.9 534.3,401.0 534.8,401.1 535.2,401.2 535.7,401.2 536.2,401.3 536.6,401.4 537.1,401.5 537.6,401.5 538.0,401.6 538.5,401.6 539.0,401.7 539.4,401.7 539.9,401.7 540.4,401.8 540.8,401.8 541.3,401.8 541.7,401.8 542.2,401.9 542.7,401.9 543.1,401.9 543.6,401.9 544.1,401.9 544.5,401.9 545.0,401.9 545.5,401.9 545.9,401.9 546.4,401.9 546.9,401.9 547.3,401.9 547.8,401.9 548.3,401.8 548.7,401.8 549.2,401.8 549.6,401.8 550.1,401.7 550.6,401.7 551.0,401.7 551.5,401.6 552.0,401.6 552.4,401.5 552.9,401.5 553.4,401.4 553.8,401.3 554.3,401.2 554.8,401.2 555.2,401.1 555.7,401.0 556.2,400.9 556.6,400.7 557.1,400.6 557.5,400.5 558.0,400.3 558.5,400.2 558.9,400.0 559.4,399.8 559.9,399.6 560.3,399.4 560.8,399.2 561.3,398.9 561.7,398.7 562.2,398.4 562.7,398.1 563.1,397.7 563.6,397.4 564.1,397.0 564.5,396.6 565.0,396.2 565.4,395.7 565.9,395.3 566.4,394.7 566.8,394.2 567.3,393.6 567.8,393.0 568.2,392.4 568.7,391.7 569.2,391.0 569.6,390.2 570.1,389.4 570.6,388.5 571.0,387.7 571.5,386.7 572.0,385.7 572.4,384.7 572.9,383.6 573.3,382.5 573.8,381.4 574.3,380.2 574.7,378.9 575.2,377.6 575.7,376.3 576.1,374.9 576.6,373.4 577.1,372.0 577.5,370.5 578.0,369.0 578.5,367.4 578.9,365.8 579.4,364.2 579.9,362.6 580.3,360.9 580.8,359.3 581.2,357.7 581.7,356.1 582.2,354.4 582.6,352.9 583.1,351.3 583.6,349.8 584.0,348.3 584.5,346.9 585.0,345.5 585.4,344.2 585.9,343.0 586.4,341.8 586.8,340.8 587.3,339.8 587.7,339.0 588.2,338.2 588.7,337.6 589.1,337.0 589.6,336.6 590.1,336.3 590.5,336.1 591.0,336.0 591.5,336.0 591.9,336.2 592.4,336.4 592.9,336.8 593.3,337.2 593.8,337.8 594.3,338.5 594.7,339.2 595.2,340.0 595.6,340.9 596.1,341.9 596.6,342.9 597.0,344.0 597.5,345.2 598.0,346.3 598.4,347.5 598.9,348.8 599.4,350.0 599.8,351.3 600.3,352.6 600.8,353.9 601.2,355.2 601.7,356.5 602.2,357.8 602.6,359.1 603.1,360.3 603.5,361.6 604.0,362.8 604.5,364.0 604.9,365.2 605.4,366.3 605.9,367.4 606.3,368.5 606.8,369.5 607.3,370.6 607.7,371.5 608.2,372.5 608.7,373.4 609.1,374.3 609.6,375.1 610.1,376.0 610.5,376.7 611.0,377.5 611.4,378.2 611.9,378.9 612.4,379.6 612.8,380.2 613.3,380.8 613.8,381.4 614.2,381.9 614.7,382.4 615.2,382.9 615.6,383.4 616.1,383.8 616.6,384.2 617.0,384.6 617.5,385.0 618.0,385.4 618.4,385.7 618.9,386.0 619.3,386.3 619.8,386.6 620.3,386.9 620.7,387.1 621.2,387.4 621.7,387.6 622.1,387.8 622.6,388.0 623.1,388.2 623.5,388.3 624.0,388.5 624.5,388.6 624.9,388.8 625.4,388.9 625.9,389.0 626.3,389.1 626.8,389.2 627.2,389.3 627.7,389.4 628.2,389.5 628.6,389.6 629.1,389.6 629.6,389.7 630.0,389.8 630.5,389.8 631.0,389.8 631.4,389.9 631.9,389.9 632.4,390.0 632.8,390.0 633.3,390.0 633.8,390.0 634.2,390.0 634.7,390.0 635.1,390.1 635.6,390.1 636.1,390.1 636.5,390.1 637.0,390.1 637.5,390.1 637.9,390.0 638.4,390.0 638.9,390.0 639.3,390.0 639.8,390.0 640.3,390.0 640.7,390.0 641.2,389.9 641.7,389.9 642.1,389.9 642.6,389.9 643.0,389.9 643.5,389.8 644.0,389.8 644.4,389.8 644.9,389.7 645.4,389.7 645.8,389.7 646.3,389.7 646.8,389.6 647.2,389.6 647.7,389.6 648.2,389.5 648.6,389.5 649.1,389.5 649.5,389.4 650.0,389.4 650.5,389.4 650.9,389.3 651.4,389.3 651.9,389.3 652.3,389.2 652.8,389.2 653.3,389.2 653.7,389.1 654.2,389.1 654.7,389.1 655.1,389.0 655.6,389.0 656.1,388.9 656.5,388.9 657.0,388.9 657.4,388.8 657.9,388.8 658.4,388.8 658.8,388.7 659.3,388.7 659.8,388.7 660.2,388.6 660.7,388.6 661.2,388.6 661.6,388.5 662.1,388.5 662.6,388.4 663.0,388.4 663.5,388.4 664.0,388.3 664.4,388.3 664.9,388.3 665.3,388.2 665.8,388.2 666.3,388.2 666.7,388.1 667.2,388.1 667.7,388.1 668.1,388.0 668.6,388.0 669.1,388.0 669.5,387.9 670.0,387.9 670.5,387.9 670.9,387.8 671.4,387.8 671.9,387.8 672.3,387.8 672.8,387.7 673.2,387.7 673.7,387.7 674.2,387.6 674.6,387.6 675.1,387.6 675.6,387.5 676.0,387.5 676.5,387.5 677.0,387.4 677.4,387.4 677.9,387.4 678.4,387.4 678.8,387.3 679.3,387.3 679.8,387.3 680.2,387.2 680.7,387.2 681.1,387.2 681.6,387.2 682.1,387.1 682.5,387.1 683.0,387.1 683.5,387.0 683.9,387.0 684.4,387.0"/>
</g>
<text x="69" y="19.3" class="big">g<tspan dy="3.4" font-size="68%">1</tspan><tspan dy="-3.4">≠0</tspan></text>
<line x1="120.3" x2="151.2" y1="4.7" y2="4.7" stroke="#000" stroke-width="1.5"/>
<text x="155.2" y="9.2" class="lga">g<tspan dy="3.4" font-size="68%">2</tspan><tspan dy="-3.4">=0, J=0</tspan></text>
<line x1="210.1" x2="241.2" y1="4.7" y2="4.7" stroke="#ff0000" stroke-width="1.5" stroke-dasharray="5.4 7.3"/>
<text x="245" y="9.2" class="lga">g<tspan dy="3.4" font-size="68%">2</tspan><tspan dy="-3.4">≠0, J=0</tspan></text>
<line x1="120.1" x2="149" y1="26" y2="26" stroke="#0000ff" stroke-width="1.5" stroke-dasharray="7 3.4 1.9 3.3"/>
<text x="155.2" y="30.2" class="lga">g<tspan dy="3.4" font-size="68%">2</tspan><tspan dy="-3.4">≠0, J≠0</tspan></text>
<line x1="406.1" x2="436.1" y1="10.2" y2="10.2" stroke="#2d49fa" stroke-width="1.3"/>
<text x="439.0" y="14.1" class="lg">J=20 MHz</text>
<line x1="498.6" x2="526.3" y1="10.2" y2="10.2" stroke="#1c9ef8" stroke-width="1.3"/>
<text x="531.0" y="14.1" class="lg">J=40 MHz</text>
<line x1="591.2" x2="619.3" y1="10.2" y2="10.2" stroke="#15cb88" stroke-width="1.3"/>
<text x="623.4" y="14.1" class="lg">J=60 MHz</text>
<line x1="406.1" x2="436.1" y1="26.0" y2="26.0" stroke="#f6923d" stroke-width="1.3"/>
<text x="439.0" y="29.9" class="lg">J=80 MHz</text>
<line x1="498.6" x2="526.3" y1="26.0" y2="26.0" stroke="#f0148e" stroke-width="1.3"/>
<text x="531.0" y="29.9" class="lg">J=100 MHz</text>
<text transform="translate(11.30 101.35) rotate(-90) scale(0.981 1)" text-anchor="middle" class="al">Absorption (arb. units)</text>
<text transform="translate(11.30 247.10) rotate(-90) scale(0.985 1)" text-anchor="middle" class="al">Dispersion (arb. units)</text>
<text transform="translate(12.80 387.60) rotate(-90) scale(0.985 1)" text-anchor="middle" class="big">n<tspan dy="4.3" font-size="65%">g</tspan><tspan dy="-4.3"> (arb. units)</tspan></text>
<text transform="translate(376.30 101.35) rotate(-90) scale(0.981 1)" text-anchor="middle" class="al">Absorption (arb. units)</text>
<text transform="translate(376.30 247.10) rotate(-90) scale(0.985 1)" text-anchor="middle" class="al">Dispersion (arb. units)</text>
<text transform="translate(374.90 387.60) rotate(-90) scale(0.985 1)" text-anchor="middle" class="big">n<tspan dy="4.3" font-size="65%">g</tspan><tspan dy="-4.3"> (arb. units)</tspan></text>
<text x="179.5" y="484" text-anchor="middle" class="big">Δ<tspan dy="4.3" font-size="72%">s</tspan><tspan dy="-4.3"> (GHz)</tspan></text>
<text x="545" y="486.8" text-anchor="middle" class="big">Δ<tspan dy="4.3" font-size="72%">s</tspan><tspan dy="-4.3"> (GHz)</tspan></text>
<text transform="translate(316.50 156.40) scale(0.962 1)" text-anchor="end" class="pl">(a1)</text>
<text transform="translate(317.40 201.30) scale(0.962 1)" text-anchor="end" class="pl">(a2)</text>
<text transform="translate(317.10 348.30) scale(0.962 1)" text-anchor="end" class="pl">(a2)</text>
<text transform="translate(409.90 156.10) scale(0.962 1)" class="pl">(b1)</text>
<text transform="translate(409.90 200.40) scale(0.962 1)" class="pl">(b2)</text>
<text transform="translate(408.40 345.80) scale(0.962 1)" class="pl">(b3)</text>
</svg></body></html>
